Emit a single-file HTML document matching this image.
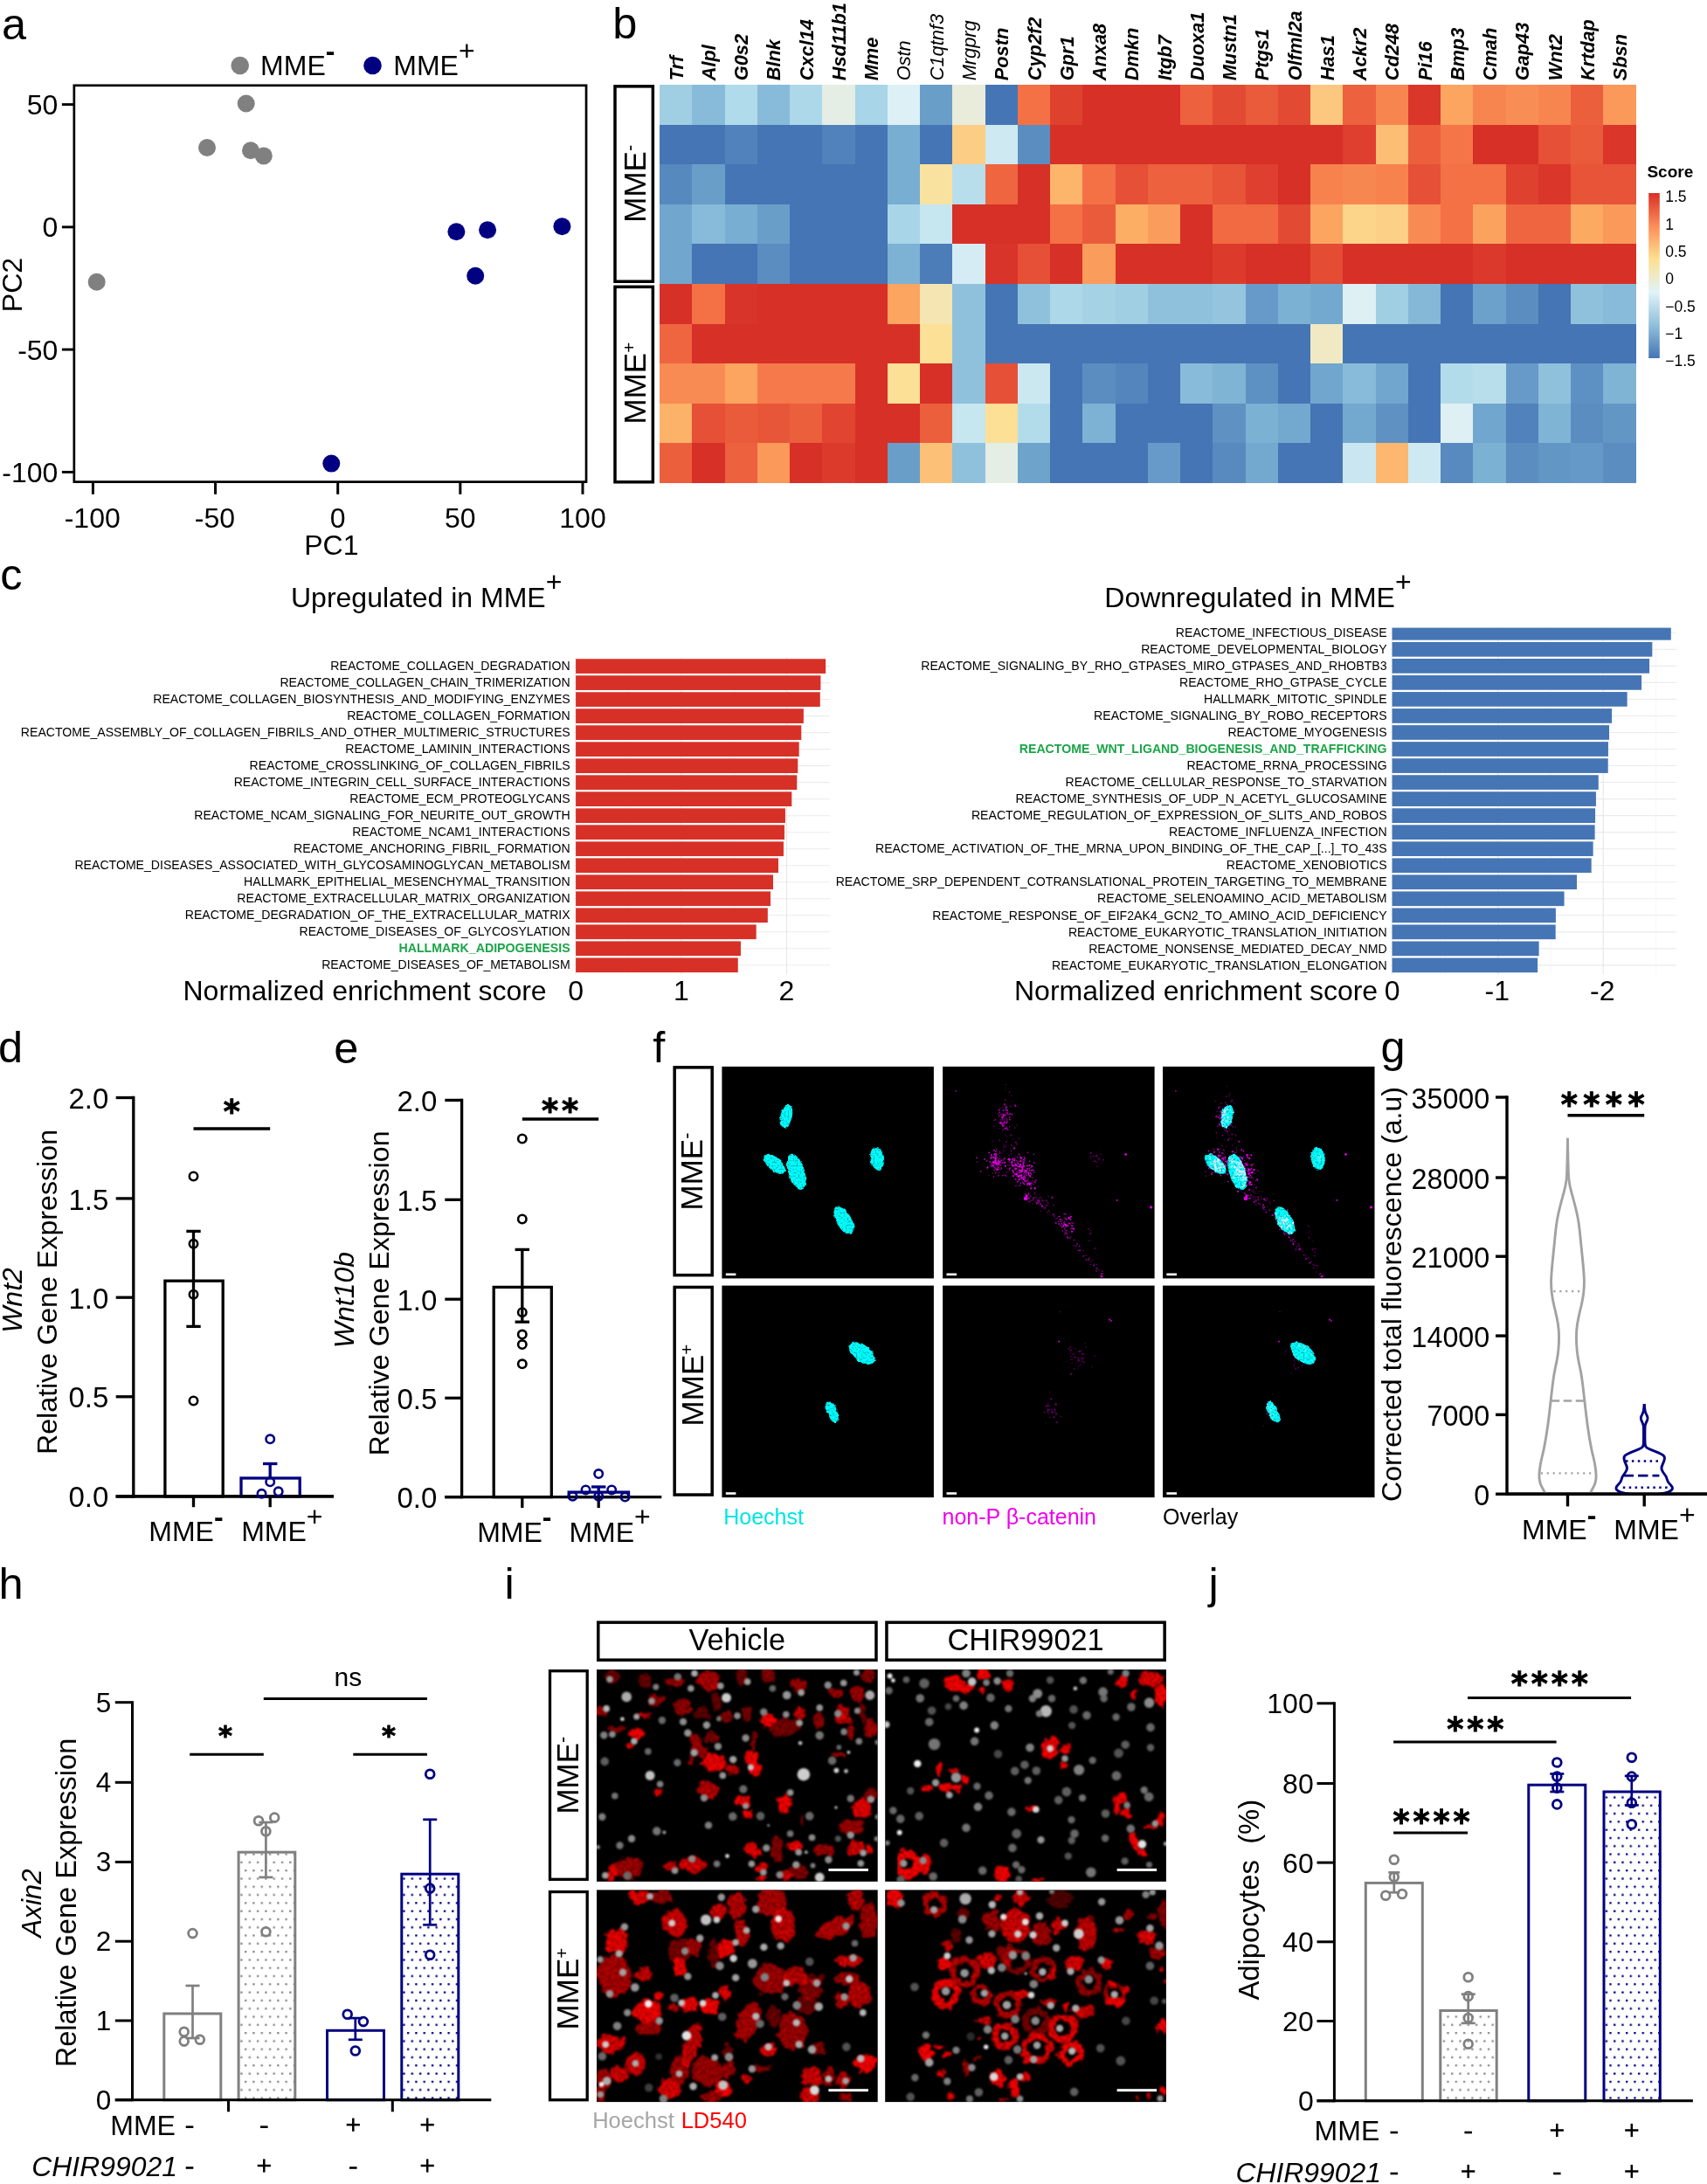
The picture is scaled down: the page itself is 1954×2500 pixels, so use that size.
<!DOCTYPE html>
<html lang="en"><head><meta charset="utf-8"><title>Figure</title>
<style>html,body{margin:0;padding:0;background:#fff}body{width:1954px;height:2500px;overflow:hidden}svg{display:block}</style>
</head><body>
<svg width="1954" height="2500" viewBox="0 0 1954 2500" font-family='"Liberation Sans", Arial, Helvetica, sans-serif' fill="#000">
<defs>
<pattern id="dotg" width="9.3" height="18.6" patternUnits="userSpaceOnUse"><rect x="1" y="1" width="2.3" height="2.3" fill="#8A8A8A"/><rect x="5.65" y="10.3" width="2.3" height="2.3" fill="#8A8A8A"/></pattern>
<pattern id="dotn" width="9.3" height="18.6" patternUnits="userSpaceOnUse"><rect x="1" y="1" width="2.3" height="2.3" fill="#000080"/><rect x="5.65" y="10.3" width="2.3" height="2.3" fill="#000080"/></pattern>
</defs>
<text x="1.90" y="44.50" font-size="50.5">a</text>
<circle cx="274.70" cy="75.00" r="10.30" fill="#808080"/>
<text x="298.10" y="85.90" font-size="32">MME<tspan dy="-17.4" font-weight="bold">-</tspan></text>
<circle cx="426.50" cy="75.00" r="10.30" fill="#000080"/>
<text x="450.30" y="85.90" font-size="32">MME<tspan dy="-17.4">+</tspan></text>
<rect x="84.84" y="97.80" width="586.20" height="453.80" fill="none" stroke="#000" stroke-width="2.7"/>
<line x1="70.90" y1="119.60" x2="85.00" y2="119.60" stroke="#000" stroke-width="2.9"/>
<text x="66.40" y="131.00" font-size="32" text-anchor="end">50</text>
<line x1="70.90" y1="259.90" x2="85.00" y2="259.90" stroke="#000" stroke-width="2.9"/>
<text x="66.40" y="271.30" font-size="32" text-anchor="end">0</text>
<line x1="70.90" y1="400.10" x2="85.00" y2="400.10" stroke="#000" stroke-width="2.9"/>
<text x="66.40" y="411.50" font-size="32" text-anchor="end">-50</text>
<line x1="70.90" y1="540.40" x2="85.00" y2="540.40" stroke="#000" stroke-width="2.9"/>
<text x="66.40" y="551.80" font-size="32" text-anchor="end">-100</text>
<line x1="106.40" y1="551.60" x2="106.40" y2="565.80" stroke="#000" stroke-width="3.0"/>
<text x="105.70" y="603.50" font-size="32" text-anchor="middle">-100</text>
<line x1="246.55" y1="551.60" x2="246.55" y2="565.80" stroke="#000" stroke-width="3.0"/>
<text x="245.85" y="603.50" font-size="32" text-anchor="middle">-50</text>
<line x1="386.70" y1="551.60" x2="386.70" y2="565.80" stroke="#000" stroke-width="3.0"/>
<text x="386.70" y="603.50" font-size="32" text-anchor="middle">0</text>
<line x1="526.85" y1="551.60" x2="526.85" y2="565.80" stroke="#000" stroke-width="3.0"/>
<text x="526.85" y="603.50" font-size="32" text-anchor="middle">50</text>
<line x1="667.00" y1="551.60" x2="667.00" y2="565.80" stroke="#000" stroke-width="3.0"/>
<text x="667.00" y="603.50" font-size="32" text-anchor="middle">100</text>
<text font-size="32" text-anchor="middle" transform="translate(25.40 326.00) rotate(-90)">PC2</text>
<text x="379.30" y="635.00" font-size="32" text-anchor="middle">PC1</text>
<circle cx="110.70" cy="322.70" r="10.00" fill="#808080"/>
<circle cx="237.00" cy="169.00" r="10.00" fill="#808080"/>
<circle cx="281.70" cy="118.50" r="10.00" fill="#808080"/>
<circle cx="287.00" cy="172.20" r="10.00" fill="#808080"/>
<circle cx="301.80" cy="178.40" r="10.00" fill="#808080"/>
<circle cx="379.30" cy="530.60" r="10.00" fill="#000080"/>
<circle cx="522.40" cy="265.30" r="10.00" fill="#000080"/>
<circle cx="558.10" cy="263.30" r="10.00" fill="#000080"/>
<circle cx="544.20" cy="315.80" r="10.00" fill="#000080"/>
<circle cx="643.40" cy="259.20" r="10.00" fill="#000080"/>
<text x="701.20" y="44.20" font-size="50.5">b</text>
<rect x="704.00" y="98.84" width="43.35" height="223.40" fill="none" stroke="#000" stroke-width="3.5"/>
<rect x="704.00" y="328.35" width="43.35" height="223.40" fill="none" stroke="#000" stroke-width="3.5"/>
<text font-size="35" transform="translate(738.80 254.70) rotate(-90)">MME<tspan font-size="22" dy="-11.1">-</tspan></text>
<text font-size="35" transform="translate(738.80 485.50) rotate(-90)">MME<tspan font-size="20.4" dy="-12.2">+</tspan></text>
<g shape-rendering="crispEdges">
<rect x="755.07" y="97.09" width="37.76" height="46.07" fill="#A0CEE3"/>
<rect x="792.33" y="97.09" width="37.76" height="46.07" fill="#88BBD9"/>
<rect x="829.58" y="97.09" width="37.76" height="46.07" fill="#B0DBEA"/>
<rect x="866.84" y="97.09" width="37.76" height="46.07" fill="#88BBD9"/>
<rect x="904.09" y="97.09" width="37.76" height="46.07" fill="#ADD8E9"/>
<rect x="941.35" y="97.09" width="37.76" height="46.07" fill="#E4EEE5"/>
<rect x="978.61" y="97.09" width="37.76" height="46.07" fill="#A8D5E7"/>
<rect x="1015.86" y="97.09" width="37.76" height="46.07" fill="#DDF0F6"/>
<rect x="1053.12" y="97.09" width="37.76" height="46.07" fill="#699EC9"/>
<rect x="1090.37" y="97.09" width="37.76" height="46.07" fill="#E9ECDA"/>
<rect x="1127.63" y="97.09" width="37.76" height="46.07" fill="#4575B4"/>
<rect x="1164.89" y="97.09" width="37.76" height="46.07" fill="#F47045"/>
<rect x="1202.14" y="97.09" width="37.76" height="46.07" fill="#DF412F"/>
<rect x="1239.40" y="97.09" width="37.76" height="46.07" fill="#D73027"/>
<rect x="1276.65" y="97.09" width="37.76" height="46.07" fill="#D73027"/>
<rect x="1313.91" y="97.09" width="37.76" height="46.07" fill="#D73027"/>
<rect x="1351.17" y="97.09" width="37.76" height="46.07" fill="#ED613E"/>
<rect x="1388.42" y="97.09" width="37.76" height="46.07" fill="#E34A33"/>
<rect x="1425.68" y="97.09" width="37.76" height="46.07" fill="#EA5B3B"/>
<rect x="1462.93" y="97.09" width="37.76" height="46.07" fill="#E34A33"/>
<rect x="1500.19" y="97.09" width="37.76" height="46.07" fill="#FCC77E"/>
<rect x="1537.45" y="97.09" width="37.76" height="46.07" fill="#ED613E"/>
<rect x="1574.70" y="97.09" width="37.76" height="46.07" fill="#F78550"/>
<rect x="1611.96" y="97.09" width="37.76" height="46.07" fill="#DA362A"/>
<rect x="1649.21" y="97.09" width="37.76" height="46.07" fill="#FCA560"/>
<rect x="1686.47" y="97.09" width="37.76" height="46.07" fill="#F78550"/>
<rect x="1723.73" y="97.09" width="37.76" height="46.07" fill="#F88E55"/>
<rect x="1760.98" y="97.09" width="37.76" height="46.07" fill="#F78550"/>
<rect x="1798.24" y="97.09" width="37.76" height="46.07" fill="#EC5F3D"/>
<rect x="1835.49" y="97.09" width="37.76" height="46.07" fill="#FA995A"/>
<rect x="755.07" y="142.66" width="37.76" height="46.07" fill="#4575B4"/>
<rect x="792.33" y="142.66" width="37.76" height="46.07" fill="#4575B4"/>
<rect x="829.58" y="142.66" width="37.76" height="46.07" fill="#5182BB"/>
<rect x="866.84" y="142.66" width="37.76" height="46.07" fill="#4575B4"/>
<rect x="904.09" y="142.66" width="37.76" height="46.07" fill="#4575B4"/>
<rect x="941.35" y="142.66" width="37.76" height="46.07" fill="#5182BB"/>
<rect x="978.61" y="142.66" width="37.76" height="46.07" fill="#4575B4"/>
<rect x="1015.86" y="142.66" width="37.76" height="46.07" fill="#78AED2"/>
<rect x="1053.12" y="142.66" width="37.76" height="46.07" fill="#4575B4"/>
<rect x="1090.37" y="142.66" width="37.76" height="46.07" fill="#FCCD84"/>
<rect x="1127.63" y="142.66" width="37.76" height="46.07" fill="#CEE9F2"/>
<rect x="1164.89" y="142.66" width="37.76" height="46.07" fill="#5B8DC1"/>
<rect x="1202.14" y="142.66" width="37.76" height="46.07" fill="#D73027"/>
<rect x="1239.40" y="142.66" width="37.76" height="46.07" fill="#D73027"/>
<rect x="1276.65" y="142.66" width="37.76" height="46.07" fill="#D73027"/>
<rect x="1313.91" y="142.66" width="37.76" height="46.07" fill="#D73027"/>
<rect x="1351.17" y="142.66" width="37.76" height="46.07" fill="#D73027"/>
<rect x="1388.42" y="142.66" width="37.76" height="46.07" fill="#D73027"/>
<rect x="1425.68" y="142.66" width="37.76" height="46.07" fill="#D73027"/>
<rect x="1462.93" y="142.66" width="37.76" height="46.07" fill="#D73027"/>
<rect x="1500.19" y="142.66" width="37.76" height="46.07" fill="#D73027"/>
<rect x="1537.45" y="142.66" width="37.76" height="46.07" fill="#DE3F2E"/>
<rect x="1574.70" y="142.66" width="37.76" height="46.07" fill="#FCBE75"/>
<rect x="1611.96" y="142.66" width="37.76" height="46.07" fill="#EC5F3D"/>
<rect x="1649.21" y="142.66" width="37.76" height="46.07" fill="#F57548"/>
<rect x="1686.47" y="142.66" width="37.76" height="46.07" fill="#D73027"/>
<rect x="1723.73" y="142.66" width="37.76" height="46.07" fill="#D73027"/>
<rect x="1760.98" y="142.66" width="37.76" height="46.07" fill="#E65036"/>
<rect x="1798.24" y="142.66" width="37.76" height="46.07" fill="#EA5B3B"/>
<rect x="1835.49" y="142.66" width="37.76" height="46.07" fill="#DA362A"/>
<rect x="755.07" y="188.23" width="37.76" height="46.07" fill="#5689BE"/>
<rect x="792.33" y="188.23" width="37.76" height="46.07" fill="#699EC9"/>
<rect x="829.58" y="188.23" width="37.76" height="46.07" fill="#4575B4"/>
<rect x="866.84" y="188.23" width="37.76" height="46.07" fill="#4575B4"/>
<rect x="904.09" y="188.23" width="37.76" height="46.07" fill="#4575B4"/>
<rect x="941.35" y="188.23" width="37.76" height="46.07" fill="#4575B4"/>
<rect x="978.61" y="188.23" width="37.76" height="46.07" fill="#4575B4"/>
<rect x="1015.86" y="188.23" width="37.76" height="46.07" fill="#78AED2"/>
<rect x="1053.12" y="188.23" width="37.76" height="46.07" fill="#F9E29F"/>
<rect x="1090.37" y="188.23" width="37.76" height="46.07" fill="#B8DEEC"/>
<rect x="1127.63" y="188.23" width="37.76" height="46.07" fill="#EF6540"/>
<rect x="1164.89" y="188.23" width="37.76" height="46.07" fill="#D73027"/>
<rect x="1202.14" y="188.23" width="37.76" height="46.07" fill="#FDB46B"/>
<rect x="1239.40" y="188.23" width="37.76" height="46.07" fill="#F47045"/>
<rect x="1276.65" y="188.23" width="37.76" height="46.07" fill="#E65036"/>
<rect x="1313.91" y="188.23" width="37.76" height="46.07" fill="#ED613E"/>
<rect x="1351.17" y="188.23" width="37.76" height="46.07" fill="#ED613E"/>
<rect x="1388.42" y="188.23" width="37.76" height="46.07" fill="#E75438"/>
<rect x="1425.68" y="188.23" width="37.76" height="46.07" fill="#DE3F2E"/>
<rect x="1462.93" y="188.23" width="37.76" height="46.07" fill="#D73027"/>
<rect x="1500.19" y="188.23" width="37.76" height="46.07" fill="#F7824E"/>
<rect x="1537.45" y="188.23" width="37.76" height="46.07" fill="#F78751"/>
<rect x="1574.70" y="188.23" width="37.76" height="46.07" fill="#F7824E"/>
<rect x="1611.96" y="188.23" width="37.76" height="46.07" fill="#E65036"/>
<rect x="1649.21" y="188.23" width="37.76" height="46.07" fill="#F47045"/>
<rect x="1686.47" y="188.23" width="37.76" height="46.07" fill="#F47045"/>
<rect x="1723.73" y="188.23" width="37.76" height="46.07" fill="#DF412F"/>
<rect x="1760.98" y="188.23" width="37.76" height="46.07" fill="#DA362A"/>
<rect x="1798.24" y="188.23" width="37.76" height="46.07" fill="#E75438"/>
<rect x="1835.49" y="188.23" width="37.76" height="46.07" fill="#E75438"/>
<rect x="755.07" y="233.80" width="37.76" height="46.07" fill="#71A6CE"/>
<rect x="792.33" y="233.80" width="37.76" height="46.07" fill="#88BBD9"/>
<rect x="829.58" y="233.80" width="37.76" height="46.07" fill="#78AED2"/>
<rect x="866.84" y="233.80" width="37.76" height="46.07" fill="#699EC9"/>
<rect x="904.09" y="233.80" width="37.76" height="46.07" fill="#4575B4"/>
<rect x="941.35" y="233.80" width="37.76" height="46.07" fill="#4575B4"/>
<rect x="978.61" y="233.80" width="37.76" height="46.07" fill="#4575B4"/>
<rect x="1015.86" y="233.80" width="37.76" height="46.07" fill="#A8D5E7"/>
<rect x="1053.12" y="233.80" width="37.76" height="46.07" fill="#C6E6F0"/>
<rect x="1090.37" y="233.80" width="37.76" height="46.07" fill="#D73027"/>
<rect x="1127.63" y="233.80" width="37.76" height="46.07" fill="#D73027"/>
<rect x="1164.89" y="233.80" width="37.76" height="46.07" fill="#D73027"/>
<rect x="1202.14" y="233.80" width="37.76" height="46.07" fill="#F47045"/>
<rect x="1239.40" y="233.80" width="37.76" height="46.07" fill="#EA5B3B"/>
<rect x="1276.65" y="233.80" width="37.76" height="46.07" fill="#FDAE65"/>
<rect x="1313.91" y="233.80" width="37.76" height="46.07" fill="#FA9C5C"/>
<rect x="1351.17" y="233.80" width="37.76" height="46.07" fill="#D73027"/>
<rect x="1388.42" y="233.80" width="37.76" height="46.07" fill="#F16A42"/>
<rect x="1425.68" y="233.80" width="37.76" height="46.07" fill="#F16A42"/>
<rect x="1462.93" y="233.80" width="37.76" height="46.07" fill="#E34A33"/>
<rect x="1500.19" y="233.80" width="37.76" height="46.07" fill="#FCA560"/>
<rect x="1537.45" y="233.80" width="37.76" height="46.07" fill="#FCD48A"/>
<rect x="1574.70" y="233.80" width="37.76" height="46.07" fill="#FCD086"/>
<rect x="1611.96" y="233.80" width="37.76" height="46.07" fill="#F88B53"/>
<rect x="1649.21" y="233.80" width="37.76" height="46.07" fill="#F47045"/>
<rect x="1686.47" y="233.80" width="37.76" height="46.07" fill="#FBA25F"/>
<rect x="1723.73" y="233.80" width="37.76" height="46.07" fill="#EF6540"/>
<rect x="1760.98" y="233.80" width="37.76" height="46.07" fill="#EF6540"/>
<rect x="1798.24" y="233.80" width="37.76" height="46.07" fill="#FCA962"/>
<rect x="1835.49" y="233.80" width="37.76" height="46.07" fill="#FA995A"/>
<rect x="755.07" y="279.37" width="37.76" height="46.07" fill="#71A6CE"/>
<rect x="792.33" y="279.37" width="37.76" height="46.07" fill="#4575B4"/>
<rect x="829.58" y="279.37" width="37.76" height="46.07" fill="#4575B4"/>
<rect x="866.84" y="279.37" width="37.76" height="46.07" fill="#5B8DC1"/>
<rect x="904.09" y="279.37" width="37.76" height="46.07" fill="#4575B4"/>
<rect x="941.35" y="279.37" width="37.76" height="46.07" fill="#4575B4"/>
<rect x="978.61" y="279.37" width="37.76" height="46.07" fill="#4575B4"/>
<rect x="1015.86" y="279.37" width="37.76" height="46.07" fill="#7DB2D4"/>
<rect x="1053.12" y="279.37" width="37.76" height="46.07" fill="#4C7DB8"/>
<rect x="1090.37" y="279.37" width="37.76" height="46.07" fill="#D6ECF4"/>
<rect x="1127.63" y="279.37" width="37.76" height="46.07" fill="#D93429"/>
<rect x="1164.89" y="279.37" width="37.76" height="46.07" fill="#E65036"/>
<rect x="1202.14" y="279.37" width="37.76" height="46.07" fill="#D73027"/>
<rect x="1239.40" y="279.37" width="37.76" height="46.07" fill="#FA9C5C"/>
<rect x="1276.65" y="279.37" width="37.76" height="46.07" fill="#D73027"/>
<rect x="1313.91" y="279.37" width="37.76" height="46.07" fill="#D73027"/>
<rect x="1351.17" y="279.37" width="37.76" height="46.07" fill="#D73027"/>
<rect x="1388.42" y="279.37" width="37.76" height="46.07" fill="#DC3B2C"/>
<rect x="1425.68" y="279.37" width="37.76" height="46.07" fill="#D73027"/>
<rect x="1462.93" y="279.37" width="37.76" height="46.07" fill="#D73027"/>
<rect x="1500.19" y="279.37" width="37.76" height="46.07" fill="#E44C34"/>
<rect x="1537.45" y="279.37" width="37.76" height="46.07" fill="#D73027"/>
<rect x="1574.70" y="279.37" width="37.76" height="46.07" fill="#D73027"/>
<rect x="1611.96" y="279.37" width="37.76" height="46.07" fill="#D73027"/>
<rect x="1649.21" y="279.37" width="37.76" height="46.07" fill="#D73027"/>
<rect x="1686.47" y="279.37" width="37.76" height="46.07" fill="#DB392B"/>
<rect x="1723.73" y="279.37" width="37.76" height="46.07" fill="#D73027"/>
<rect x="1760.98" y="279.37" width="37.76" height="46.07" fill="#D73027"/>
<rect x="1798.24" y="279.37" width="37.76" height="46.07" fill="#D73027"/>
<rect x="1835.49" y="279.37" width="37.76" height="46.07" fill="#D73027"/>
<rect x="755.07" y="324.94" width="37.76" height="46.07" fill="#D73027"/>
<rect x="792.33" y="324.94" width="37.76" height="46.07" fill="#F47045"/>
<rect x="829.58" y="324.94" width="37.76" height="46.07" fill="#D93429"/>
<rect x="866.84" y="324.94" width="37.76" height="46.07" fill="#D73027"/>
<rect x="904.09" y="324.94" width="37.76" height="46.07" fill="#D73027"/>
<rect x="941.35" y="324.94" width="37.76" height="46.07" fill="#D73027"/>
<rect x="978.61" y="324.94" width="37.76" height="46.07" fill="#D73027"/>
<rect x="1015.86" y="324.94" width="37.76" height="46.07" fill="#FCA560"/>
<rect x="1053.12" y="324.94" width="37.76" height="46.07" fill="#F4E5B2"/>
<rect x="1090.37" y="324.94" width="37.76" height="46.07" fill="#90C1DC"/>
<rect x="1127.63" y="324.94" width="37.76" height="46.07" fill="#4575B4"/>
<rect x="1164.89" y="324.94" width="37.76" height="46.07" fill="#90C1DC"/>
<rect x="1202.14" y="324.94" width="37.76" height="46.07" fill="#ADD8E9"/>
<rect x="1239.40" y="324.94" width="37.76" height="46.07" fill="#A5D2E5"/>
<rect x="1276.65" y="324.94" width="37.76" height="46.07" fill="#A0CEE3"/>
<rect x="1313.91" y="324.94" width="37.76" height="46.07" fill="#90C1DC"/>
<rect x="1351.17" y="324.94" width="37.76" height="46.07" fill="#90C1DC"/>
<rect x="1388.42" y="324.94" width="37.76" height="46.07" fill="#95C5DE"/>
<rect x="1425.68" y="324.94" width="37.76" height="46.07" fill="#679AC8"/>
<rect x="1462.93" y="324.94" width="37.76" height="46.07" fill="#7BB1D3"/>
<rect x="1500.19" y="324.94" width="37.76" height="46.07" fill="#74A9CF"/>
<rect x="1537.45" y="324.94" width="37.76" height="46.07" fill="#DEF0F4"/>
<rect x="1574.70" y="324.94" width="37.76" height="46.07" fill="#A0CEE3"/>
<rect x="1611.96" y="324.94" width="37.76" height="46.07" fill="#85B8D7"/>
<rect x="1649.21" y="324.94" width="37.76" height="46.07" fill="#4575B4"/>
<rect x="1686.47" y="324.94" width="37.76" height="46.07" fill="#6CA1CB"/>
<rect x="1723.73" y="324.94" width="37.76" height="46.07" fill="#5B8DC1"/>
<rect x="1760.98" y="324.94" width="37.76" height="46.07" fill="#4575B4"/>
<rect x="1798.24" y="324.94" width="37.76" height="46.07" fill="#90C1DC"/>
<rect x="1835.49" y="324.94" width="37.76" height="46.07" fill="#88BBD9"/>
<rect x="755.07" y="370.52" width="37.76" height="46.07" fill="#EF6540"/>
<rect x="792.33" y="370.52" width="37.76" height="46.07" fill="#D73027"/>
<rect x="829.58" y="370.52" width="37.76" height="46.07" fill="#D73027"/>
<rect x="866.84" y="370.52" width="37.76" height="46.07" fill="#D73027"/>
<rect x="904.09" y="370.52" width="37.76" height="46.07" fill="#D73027"/>
<rect x="941.35" y="370.52" width="37.76" height="46.07" fill="#D73027"/>
<rect x="978.61" y="370.52" width="37.76" height="46.07" fill="#D73027"/>
<rect x="1015.86" y="370.52" width="37.76" height="46.07" fill="#D73027"/>
<rect x="1053.12" y="370.52" width="37.76" height="46.07" fill="#FBE096"/>
<rect x="1090.37" y="370.52" width="37.76" height="46.07" fill="#90C1DC"/>
<rect x="1127.63" y="370.52" width="37.76" height="46.07" fill="#4575B4"/>
<rect x="1164.89" y="370.52" width="37.76" height="46.07" fill="#4575B4"/>
<rect x="1202.14" y="370.52" width="37.76" height="46.07" fill="#4575B4"/>
<rect x="1239.40" y="370.52" width="37.76" height="46.07" fill="#4575B4"/>
<rect x="1276.65" y="370.52" width="37.76" height="46.07" fill="#4575B4"/>
<rect x="1313.91" y="370.52" width="37.76" height="46.07" fill="#4575B4"/>
<rect x="1351.17" y="370.52" width="37.76" height="46.07" fill="#4575B4"/>
<rect x="1388.42" y="370.52" width="37.76" height="46.07" fill="#4575B4"/>
<rect x="1425.68" y="370.52" width="37.76" height="46.07" fill="#4575B4"/>
<rect x="1462.93" y="370.52" width="37.76" height="46.07" fill="#4575B4"/>
<rect x="1500.19" y="370.52" width="37.76" height="46.07" fill="#F0E9C4"/>
<rect x="1537.45" y="370.52" width="37.76" height="46.07" fill="#4575B4"/>
<rect x="1574.70" y="370.52" width="37.76" height="46.07" fill="#4575B4"/>
<rect x="1611.96" y="370.52" width="37.76" height="46.07" fill="#4575B4"/>
<rect x="1649.21" y="370.52" width="37.76" height="46.07" fill="#4575B4"/>
<rect x="1686.47" y="370.52" width="37.76" height="46.07" fill="#4575B4"/>
<rect x="1723.73" y="370.52" width="37.76" height="46.07" fill="#4575B4"/>
<rect x="1760.98" y="370.52" width="37.76" height="46.07" fill="#4575B4"/>
<rect x="1798.24" y="370.52" width="37.76" height="46.07" fill="#4575B4"/>
<rect x="1835.49" y="370.52" width="37.76" height="46.07" fill="#4575B4"/>
<rect x="755.07" y="416.09" width="37.76" height="46.07" fill="#F88B53"/>
<rect x="792.33" y="416.09" width="37.76" height="46.07" fill="#F88B53"/>
<rect x="829.58" y="416.09" width="37.76" height="46.07" fill="#FCA560"/>
<rect x="866.84" y="416.09" width="37.76" height="46.07" fill="#F5794A"/>
<rect x="904.09" y="416.09" width="37.76" height="46.07" fill="#F5794A"/>
<rect x="941.35" y="416.09" width="37.76" height="46.07" fill="#F5794A"/>
<rect x="978.61" y="416.09" width="37.76" height="46.07" fill="#D73027"/>
<rect x="1015.86" y="416.09" width="37.76" height="46.07" fill="#FBE096"/>
<rect x="1053.12" y="416.09" width="37.76" height="46.07" fill="#D73027"/>
<rect x="1090.37" y="416.09" width="37.76" height="46.07" fill="#90C1DC"/>
<rect x="1127.63" y="416.09" width="37.76" height="46.07" fill="#E65036"/>
<rect x="1164.89" y="416.09" width="37.76" height="46.07" fill="#CBE8F1"/>
<rect x="1202.14" y="416.09" width="37.76" height="46.07" fill="#4575B4"/>
<rect x="1239.40" y="416.09" width="37.76" height="46.07" fill="#5B8DC1"/>
<rect x="1276.65" y="416.09" width="37.76" height="46.07" fill="#5485BD"/>
<rect x="1313.91" y="416.09" width="37.76" height="46.07" fill="#4575B4"/>
<rect x="1351.17" y="416.09" width="37.76" height="46.07" fill="#88BBD9"/>
<rect x="1388.42" y="416.09" width="37.76" height="46.07" fill="#80B4D5"/>
<rect x="1425.68" y="416.09" width="37.76" height="46.07" fill="#5E91C3"/>
<rect x="1462.93" y="416.09" width="37.76" height="46.07" fill="#4575B4"/>
<rect x="1500.19" y="416.09" width="37.76" height="46.07" fill="#71A6CE"/>
<rect x="1537.45" y="416.09" width="37.76" height="46.07" fill="#88BBD9"/>
<rect x="1574.70" y="416.09" width="37.76" height="46.07" fill="#71A6CE"/>
<rect x="1611.96" y="416.09" width="37.76" height="46.07" fill="#4575B4"/>
<rect x="1649.21" y="416.09" width="37.76" height="46.07" fill="#B3DCEB"/>
<rect x="1686.47" y="416.09" width="37.76" height="46.07" fill="#B8DEEC"/>
<rect x="1723.73" y="416.09" width="37.76" height="46.07" fill="#679AC8"/>
<rect x="1760.98" y="416.09" width="37.76" height="46.07" fill="#90C1DC"/>
<rect x="1798.24" y="416.09" width="37.76" height="46.07" fill="#5E91C3"/>
<rect x="1835.49" y="416.09" width="37.76" height="46.07" fill="#80B4D5"/>
<rect x="755.07" y="461.66" width="37.76" height="46.07" fill="#FDB269"/>
<rect x="792.33" y="461.66" width="37.76" height="46.07" fill="#E65036"/>
<rect x="829.58" y="461.66" width="37.76" height="46.07" fill="#EA5B3B"/>
<rect x="866.84" y="461.66" width="37.76" height="46.07" fill="#E85639"/>
<rect x="904.09" y="461.66" width="37.76" height="46.07" fill="#EC5F3D"/>
<rect x="941.35" y="461.66" width="37.76" height="46.07" fill="#E14531"/>
<rect x="978.61" y="461.66" width="37.76" height="46.07" fill="#D73027"/>
<rect x="1015.86" y="461.66" width="37.76" height="46.07" fill="#D73027"/>
<rect x="1053.12" y="461.66" width="37.76" height="46.07" fill="#EC5F3D"/>
<rect x="1090.37" y="461.66" width="37.76" height="46.07" fill="#C6E6F0"/>
<rect x="1127.63" y="461.66" width="37.76" height="46.07" fill="#FBE096"/>
<rect x="1164.89" y="461.66" width="37.76" height="46.07" fill="#B3DCEB"/>
<rect x="1202.14" y="461.66" width="37.76" height="46.07" fill="#4575B4"/>
<rect x="1239.40" y="461.66" width="37.76" height="46.07" fill="#7DB2D4"/>
<rect x="1276.65" y="461.66" width="37.76" height="46.07" fill="#4575B4"/>
<rect x="1313.91" y="461.66" width="37.76" height="46.07" fill="#4575B4"/>
<rect x="1351.17" y="461.66" width="37.76" height="46.07" fill="#4575B4"/>
<rect x="1388.42" y="461.66" width="37.76" height="46.07" fill="#5F92C3"/>
<rect x="1425.68" y="461.66" width="37.76" height="46.07" fill="#7BB1D3"/>
<rect x="1462.93" y="461.66" width="37.76" height="46.07" fill="#74A9CF"/>
<rect x="1500.19" y="461.66" width="37.76" height="46.07" fill="#4575B4"/>
<rect x="1537.45" y="461.66" width="37.76" height="46.07" fill="#74A9CF"/>
<rect x="1574.70" y="461.66" width="37.76" height="46.07" fill="#5F92C3"/>
<rect x="1611.96" y="461.66" width="37.76" height="46.07" fill="#4575B4"/>
<rect x="1649.21" y="461.66" width="37.76" height="46.07" fill="#DEF0F3"/>
<rect x="1686.47" y="461.66" width="37.76" height="46.07" fill="#71A6CE"/>
<rect x="1723.73" y="461.66" width="37.76" height="46.07" fill="#5182BB"/>
<rect x="1760.98" y="461.66" width="37.76" height="46.07" fill="#80B4D5"/>
<rect x="1798.24" y="461.66" width="37.76" height="46.07" fill="#5B8DC1"/>
<rect x="1835.49" y="461.66" width="37.76" height="46.07" fill="#6296C5"/>
<rect x="755.07" y="507.23" width="37.76" height="46.07" fill="#EC5F3D"/>
<rect x="792.33" y="507.23" width="37.76" height="46.07" fill="#D73027"/>
<rect x="829.58" y="507.23" width="37.76" height="46.07" fill="#ED613E"/>
<rect x="866.84" y="507.23" width="37.76" height="46.07" fill="#FA995A"/>
<rect x="904.09" y="507.23" width="37.76" height="46.07" fill="#D73027"/>
<rect x="941.35" y="507.23" width="37.76" height="46.07" fill="#DC3B2C"/>
<rect x="978.61" y="507.23" width="37.76" height="46.07" fill="#D73027"/>
<rect x="1015.86" y="507.23" width="37.76" height="46.07" fill="#699EC9"/>
<rect x="1053.12" y="507.23" width="37.76" height="46.07" fill="#FCC177"/>
<rect x="1090.37" y="507.23" width="37.76" height="46.07" fill="#90C1DC"/>
<rect x="1127.63" y="507.23" width="37.76" height="46.07" fill="#E4EEE5"/>
<rect x="1164.89" y="507.23" width="37.76" height="46.07" fill="#6EA3CC"/>
<rect x="1202.14" y="507.23" width="37.76" height="46.07" fill="#4575B4"/>
<rect x="1239.40" y="507.23" width="37.76" height="46.07" fill="#4575B4"/>
<rect x="1276.65" y="507.23" width="37.76" height="46.07" fill="#4575B4"/>
<rect x="1313.91" y="507.23" width="37.76" height="46.07" fill="#679AC8"/>
<rect x="1351.17" y="507.23" width="37.76" height="46.07" fill="#4575B4"/>
<rect x="1388.42" y="507.23" width="37.76" height="46.07" fill="#588ABF"/>
<rect x="1425.68" y="507.23" width="37.76" height="46.07" fill="#74A9CF"/>
<rect x="1462.93" y="507.23" width="37.76" height="46.07" fill="#4575B4"/>
<rect x="1500.19" y="507.23" width="37.76" height="46.07" fill="#4575B4"/>
<rect x="1537.45" y="507.23" width="37.76" height="46.07" fill="#CAE7F1"/>
<rect x="1574.70" y="507.23" width="37.76" height="46.07" fill="#FDB76E"/>
<rect x="1611.96" y="507.23" width="37.76" height="46.07" fill="#CEE9F2"/>
<rect x="1649.21" y="507.23" width="37.76" height="46.07" fill="#588ABF"/>
<rect x="1686.47" y="507.23" width="37.76" height="46.07" fill="#7BB1D3"/>
<rect x="1723.73" y="507.23" width="37.76" height="46.07" fill="#5B8DC1"/>
<rect x="1760.98" y="507.23" width="37.76" height="46.07" fill="#6296C5"/>
<rect x="1798.24" y="507.23" width="37.76" height="46.07" fill="#6599C7"/>
<rect x="1835.49" y="507.23" width="37.76" height="46.07" fill="#5B8DC1"/>
</g>
<text font-size="21.8" font-weight="bold" font-style="italic" transform="translate(781.70 92.30) rotate(-90)">Trf</text>
<text font-size="21.8" font-weight="bold" font-style="italic" transform="translate(818.95 92.30) rotate(-90)">Alpl</text>
<text font-size="21.8" font-weight="bold" font-style="italic" transform="translate(856.21 92.30) rotate(-90)">G0s2</text>
<text font-size="21.8" font-weight="bold" font-style="italic" transform="translate(893.47 92.30) rotate(-90)">Blnk</text>
<text font-size="21.8" font-weight="bold" font-style="italic" transform="translate(930.72 92.30) rotate(-90)">Cxcl14</text>
<text font-size="21.8" font-weight="bold" font-style="italic" transform="translate(967.98 92.30) rotate(-90)">Hsd11b1</text>
<text font-size="21.8" font-weight="bold" font-style="italic" transform="translate(1005.23 92.30) rotate(-90)">Mme</text>
<text font-size="21.8" font-style="italic" transform="translate(1042.49 92.30) rotate(-90)">Ostn</text>
<text font-size="21.8" font-style="italic" transform="translate(1079.75 92.30) rotate(-90)">C1qtnf3</text>
<text font-size="21.8" font-style="italic" transform="translate(1117.00 92.30) rotate(-90)">Mrgprg</text>
<text font-size="21.8" font-weight="bold" font-style="italic" transform="translate(1154.26 92.30) rotate(-90)">Postn</text>
<text font-size="21.8" font-weight="bold" font-style="italic" transform="translate(1191.51 92.30) rotate(-90)">Cyp2f2</text>
<text font-size="21.8" font-weight="bold" font-style="italic" transform="translate(1228.77 92.30) rotate(-90)">Gpr1</text>
<text font-size="21.8" font-weight="bold" font-style="italic" transform="translate(1266.03 92.30) rotate(-90)">Anxa8</text>
<text font-size="21.8" font-weight="bold" font-style="italic" transform="translate(1303.28 92.30) rotate(-90)">Dmkn</text>
<text font-size="21.8" font-weight="bold" font-style="italic" transform="translate(1340.54 92.30) rotate(-90)">Itgb7</text>
<text font-size="21.8" font-weight="bold" font-style="italic" transform="translate(1377.79 92.30) rotate(-90)">Duoxa1</text>
<text font-size="21.8" font-weight="bold" font-style="italic" transform="translate(1415.05 92.30) rotate(-90)">Mustn1</text>
<text font-size="21.8" font-weight="bold" font-style="italic" transform="translate(1452.31 92.30) rotate(-90)">Ptgs1</text>
<text font-size="21.8" font-weight="bold" font-style="italic" transform="translate(1489.56 92.30) rotate(-90)">Olfml2a</text>
<text font-size="21.8" font-weight="bold" font-style="italic" transform="translate(1526.82 92.30) rotate(-90)">Has1</text>
<text font-size="21.8" font-weight="bold" font-style="italic" transform="translate(1564.07 92.30) rotate(-90)">Ackr2</text>
<text font-size="21.8" font-weight="bold" font-style="italic" transform="translate(1601.33 92.30) rotate(-90)">Cd248</text>
<text font-size="21.8" font-weight="bold" font-style="italic" transform="translate(1638.59 92.30) rotate(-90)">Pi16</text>
<text font-size="21.8" font-weight="bold" font-style="italic" transform="translate(1675.84 92.30) rotate(-90)">Bmp3</text>
<text font-size="21.8" font-weight="bold" font-style="italic" transform="translate(1713.10 92.30) rotate(-90)">Cmah</text>
<text font-size="21.8" font-weight="bold" font-style="italic" transform="translate(1750.35 92.30) rotate(-90)">Gap43</text>
<text font-size="21.8" font-weight="bold" font-style="italic" transform="translate(1787.61 92.30) rotate(-90)">Wnt2</text>
<text font-size="21.8" font-weight="bold" font-style="italic" transform="translate(1824.87 92.30) rotate(-90)">Krtdap</text>
<text font-size="21.8" font-weight="bold" font-style="italic" transform="translate(1862.12 92.30) rotate(-90)">Sbsn</text>
<defs><linearGradient id="cb" x1="0" y1="0" x2="0" y2="1">
<stop offset="0.00" stop-color="#D73027"/>
<stop offset="0.20" stop-color="#FC8D59"/>
<stop offset="0.40" stop-color="#FEE090"/>
<stop offset="0.60" stop-color="#E0F3F8"/>
<stop offset="0.80" stop-color="#91BFDB"/>
<stop offset="1.00" stop-color="#4575B4"/>
</linearGradient></defs>
<rect x="1887.20" y="221.00" width="12.60" height="189.00" fill="url(#cb)"/>
<text x="1885.40" y="203.00" font-size="19" font-weight="bold">Score</text>
<text x="1906.20" y="231.40" font-size="17.5">1.5</text>
<text x="1906.20" y="262.70" font-size="17.5">1</text>
<text x="1906.20" y="294.00" font-size="17.5">0.5</text>
<text x="1906.20" y="325.30" font-size="17.5">0</text>
<text x="1906.20" y="356.60" font-size="17.5">−0.5</text>
<text x="1906.20" y="387.90" font-size="17.5">−1</text>
<text x="1906.20" y="419.20" font-size="17.5">−1.5</text>
<text x="0.30" y="675.20" font-size="50.5">c</text>
<text x="333.00" y="694.50" font-size="32">Upregulated in MME<tspan dy="-17.4">+</tspan></text>
<text x="1264.30" y="694.60" font-size="32">Downregulated in MME<tspan dy="-17.4">+</tspan></text>
<line x1="656.50" y1="762.60" x2="950.10" y2="762.60" stroke="#EBEBEB" stroke-width="1.1"/>
<line x1="656.50" y1="781.61" x2="950.10" y2="781.61" stroke="#EBEBEB" stroke-width="1.1"/>
<line x1="656.50" y1="800.62" x2="950.10" y2="800.62" stroke="#EBEBEB" stroke-width="1.1"/>
<line x1="656.50" y1="819.63" x2="950.10" y2="819.63" stroke="#EBEBEB" stroke-width="1.1"/>
<line x1="656.50" y1="838.64" x2="950.10" y2="838.64" stroke="#EBEBEB" stroke-width="1.1"/>
<line x1="656.50" y1="857.65" x2="950.10" y2="857.65" stroke="#EBEBEB" stroke-width="1.1"/>
<line x1="656.50" y1="876.66" x2="950.10" y2="876.66" stroke="#EBEBEB" stroke-width="1.1"/>
<line x1="656.50" y1="895.67" x2="950.10" y2="895.67" stroke="#EBEBEB" stroke-width="1.1"/>
<line x1="656.50" y1="914.68" x2="950.10" y2="914.68" stroke="#EBEBEB" stroke-width="1.1"/>
<line x1="656.50" y1="933.69" x2="950.10" y2="933.69" stroke="#EBEBEB" stroke-width="1.1"/>
<line x1="656.50" y1="952.70" x2="950.10" y2="952.70" stroke="#EBEBEB" stroke-width="1.1"/>
<line x1="656.50" y1="971.71" x2="950.10" y2="971.71" stroke="#EBEBEB" stroke-width="1.1"/>
<line x1="656.50" y1="990.72" x2="950.10" y2="990.72" stroke="#EBEBEB" stroke-width="1.1"/>
<line x1="656.50" y1="1009.73" x2="950.10" y2="1009.73" stroke="#EBEBEB" stroke-width="1.1"/>
<line x1="656.50" y1="1028.74" x2="950.10" y2="1028.74" stroke="#EBEBEB" stroke-width="1.1"/>
<line x1="656.50" y1="1047.75" x2="950.10" y2="1047.75" stroke="#EBEBEB" stroke-width="1.1"/>
<line x1="656.50" y1="1066.76" x2="950.10" y2="1066.76" stroke="#EBEBEB" stroke-width="1.1"/>
<line x1="656.50" y1="1085.77" x2="950.10" y2="1085.77" stroke="#EBEBEB" stroke-width="1.1"/>
<line x1="656.50" y1="1104.78" x2="950.10" y2="1104.78" stroke="#EBEBEB" stroke-width="1.1"/>
<line x1="719.30" y1="752.50" x2="719.30" y2="1115.40" stroke="#F2F2F2" stroke-width="0.8"/>
<line x1="840.20" y1="752.50" x2="840.20" y2="1115.40" stroke="#F2F2F2" stroke-width="0.8"/>
<line x1="659.10" y1="752.50" x2="659.10" y2="1115.40" stroke="#E6E6E6" stroke-width="1.1"/>
<line x1="780.00" y1="752.50" x2="780.00" y2="1115.40" stroke="#E6E6E6" stroke-width="1.1"/>
<line x1="900.50" y1="752.50" x2="900.50" y2="1115.40" stroke="#E6E6E6" stroke-width="1.1"/>
<rect x="659.10" y="754.25" width="286.04" height="16.70" fill="#D73027"/>
<text x="652.70" y="767.30" font-size="14.1" text-anchor="end">REACTOME_COLLAGEN_DEGRADATION</text>
<rect x="659.10" y="773.26" width="280.27" height="16.70" fill="#D73027"/>
<text x="652.70" y="786.31" font-size="14.1" text-anchor="end">REACTOME_COLLAGEN_CHAIN_TRIMERIZATION</text>
<rect x="659.10" y="792.27" width="279.67" height="16.70" fill="#D73027"/>
<text x="652.70" y="805.32" font-size="14.1" text-anchor="end">REACTOME_COLLAGEN_BIOSYNTHESIS_AND_MODIFYING_ENZYMES</text>
<rect x="659.10" y="811.28" width="260.75" height="16.70" fill="#D73027"/>
<text x="652.70" y="824.33" font-size="14.1" text-anchor="end">REACTOME_COLLAGEN_FORMATION</text>
<rect x="659.10" y="830.29" width="258.16" height="16.70" fill="#D73027"/>
<text x="652.70" y="843.34" font-size="14.1" text-anchor="end">REACTOME_ASSEMBLY_OF_COLLAGEN_FIBRILS_AND_OTHER_MULTIMERIC_STRUCTURES</text>
<rect x="659.10" y="849.30" width="255.57" height="16.70" fill="#D73027"/>
<text x="652.70" y="862.35" font-size="14.1" text-anchor="end">REACTOME_LAMININ_INTERACTIONS</text>
<rect x="659.10" y="868.31" width="254.17" height="16.70" fill="#D73027"/>
<text x="652.70" y="881.36" font-size="14.1" text-anchor="end">REACTOME_CROSSLINKING_OF_COLLAGEN_FIBRILS</text>
<rect x="659.10" y="887.32" width="253.18" height="16.70" fill="#D73027"/>
<text x="652.70" y="900.37" font-size="14.1" text-anchor="end">REACTOME_INTEGRIN_CELL_SURFACE_INTERACTIONS</text>
<rect x="659.10" y="906.33" width="247.20" height="16.70" fill="#D73027"/>
<text x="652.70" y="919.38" font-size="14.1" text-anchor="end">REACTOME_ECM_PROTEOGLYCANS</text>
<rect x="659.10" y="925.34" width="239.83" height="16.70" fill="#D73027"/>
<text x="652.70" y="938.39" font-size="14.1" text-anchor="end">REACTOME_NCAM_SIGNALING_FOR_NEURITE_OUT_GROWTH</text>
<rect x="659.10" y="944.35" width="238.84" height="16.70" fill="#D73027"/>
<text x="652.70" y="957.40" font-size="14.1" text-anchor="end">REACTOME_NCAM1_INTERACTIONS</text>
<rect x="659.10" y="963.36" width="237.84" height="16.70" fill="#D73027"/>
<text x="652.70" y="976.41" font-size="14.1" text-anchor="end">REACTOME_ANCHORING_FIBRIL_FORMATION</text>
<rect x="659.10" y="982.37" width="231.87" height="16.70" fill="#D73027"/>
<text x="652.70" y="995.42" font-size="14.1" text-anchor="end">REACTOME_DISEASES_ASSOCIATED_WITH_GLYCOSAMINOGLYCAN_METABOLISM</text>
<rect x="659.10" y="1001.38" width="225.89" height="16.70" fill="#D73027"/>
<text x="652.70" y="1014.43" font-size="14.1" text-anchor="end">HALLMARK_EPITHELIAL_MESENCHYMAL_TRANSITION</text>
<rect x="659.10" y="1020.39" width="222.90" height="16.70" fill="#D73027"/>
<text x="652.70" y="1033.44" font-size="14.1" text-anchor="end">REACTOME_EXTRACELLULAR_MATRIX_ORGANIZATION</text>
<rect x="659.10" y="1039.40" width="219.72" height="16.70" fill="#D73027"/>
<text x="652.70" y="1052.45" font-size="14.1" text-anchor="end">REACTOME_DEGRADATION_OF_THE_EXTRACELLULAR_MATRIX</text>
<rect x="659.10" y="1058.41" width="206.57" height="16.70" fill="#D73027"/>
<text x="652.70" y="1071.46" font-size="14.1" text-anchor="end">REACTOME_DISEASES_OF_GLYCOSYLATION</text>
<rect x="659.10" y="1077.42" width="188.84" height="16.70" fill="#D73027"/>
<text x="652.70" y="1090.37" font-size="14.2" text-anchor="end" font-weight="bold" fill="#1BA548">HALLMARK_ADIPOGENESIS</text>
<rect x="659.10" y="1096.43" width="185.66" height="16.70" fill="#D73027"/>
<text x="652.70" y="1109.48" font-size="14.1" text-anchor="end">REACTOME_DISEASES_OF_METABOLISM</text>
<text x="659.10" y="1145.00" font-size="32" text-anchor="middle">0</text>
<text x="780.00" y="1145.00" font-size="32" text-anchor="middle">1</text>
<text x="900.50" y="1145.00" font-size="32" text-anchor="middle">2</text>
<text x="209.50" y="1145.00" font-size="32">Normalized enrichment score</text>
<line x1="1591.50" y1="724.30" x2="1918.90" y2="724.30" stroke="#EBEBEB" stroke-width="1.1"/>
<line x1="1591.50" y1="743.33" x2="1918.90" y2="743.33" stroke="#EBEBEB" stroke-width="1.1"/>
<line x1="1591.50" y1="762.36" x2="1918.90" y2="762.36" stroke="#EBEBEB" stroke-width="1.1"/>
<line x1="1591.50" y1="781.39" x2="1918.90" y2="781.39" stroke="#EBEBEB" stroke-width="1.1"/>
<line x1="1591.50" y1="800.42" x2="1918.90" y2="800.42" stroke="#EBEBEB" stroke-width="1.1"/>
<line x1="1591.50" y1="819.45" x2="1918.90" y2="819.45" stroke="#EBEBEB" stroke-width="1.1"/>
<line x1="1591.50" y1="838.48" x2="1918.90" y2="838.48" stroke="#EBEBEB" stroke-width="1.1"/>
<line x1="1591.50" y1="857.51" x2="1918.90" y2="857.51" stroke="#EBEBEB" stroke-width="1.1"/>
<line x1="1591.50" y1="876.54" x2="1918.90" y2="876.54" stroke="#EBEBEB" stroke-width="1.1"/>
<line x1="1591.50" y1="895.57" x2="1918.90" y2="895.57" stroke="#EBEBEB" stroke-width="1.1"/>
<line x1="1591.50" y1="914.60" x2="1918.90" y2="914.60" stroke="#EBEBEB" stroke-width="1.1"/>
<line x1="1591.50" y1="933.63" x2="1918.90" y2="933.63" stroke="#EBEBEB" stroke-width="1.1"/>
<line x1="1591.50" y1="952.66" x2="1918.90" y2="952.66" stroke="#EBEBEB" stroke-width="1.1"/>
<line x1="1591.50" y1="971.69" x2="1918.90" y2="971.69" stroke="#EBEBEB" stroke-width="1.1"/>
<line x1="1591.50" y1="990.72" x2="1918.90" y2="990.72" stroke="#EBEBEB" stroke-width="1.1"/>
<line x1="1591.50" y1="1009.75" x2="1918.90" y2="1009.75" stroke="#EBEBEB" stroke-width="1.1"/>
<line x1="1591.50" y1="1028.78" x2="1918.90" y2="1028.78" stroke="#EBEBEB" stroke-width="1.1"/>
<line x1="1591.50" y1="1047.81" x2="1918.90" y2="1047.81" stroke="#EBEBEB" stroke-width="1.1"/>
<line x1="1591.50" y1="1066.84" x2="1918.90" y2="1066.84" stroke="#EBEBEB" stroke-width="1.1"/>
<line x1="1591.50" y1="1085.87" x2="1918.90" y2="1085.87" stroke="#EBEBEB" stroke-width="1.1"/>
<line x1="1591.50" y1="1104.90" x2="1918.90" y2="1104.90" stroke="#EBEBEB" stroke-width="1.1"/>
<line x1="1654.50" y1="718.60" x2="1654.50" y2="1115.60" stroke="#F2F2F2" stroke-width="0.8"/>
<line x1="1775.00" y1="718.60" x2="1775.00" y2="1115.60" stroke="#F2F2F2" stroke-width="0.8"/>
<line x1="1895.70" y1="718.60" x2="1895.70" y2="1115.60" stroke="#F2F2F2" stroke-width="0.8"/>
<line x1="1593.60" y1="718.60" x2="1593.60" y2="1115.60" stroke="#E6E6E6" stroke-width="1.1"/>
<line x1="1714.70" y1="718.60" x2="1714.70" y2="1115.60" stroke="#E6E6E6" stroke-width="1.1"/>
<line x1="1835.20" y1="718.60" x2="1835.20" y2="1115.60" stroke="#E6E6E6" stroke-width="1.1"/>
<rect x="1593.60" y="718.60" width="319.21" height="14.05" fill="#4575B4"/>
<text x="1587.60" y="729.00" font-size="14.1" text-anchor="end">REACTOME_INFECTIOUS_DISEASE</text>
<rect x="1593.60" y="734.98" width="297.74" height="16.70" fill="#4575B4"/>
<text x="1587.60" y="748.03" font-size="14.1" text-anchor="end">REACTOME_DEVELOPMENTAL_BIOLOGY</text>
<rect x="1593.60" y="754.01" width="294.45" height="16.70" fill="#4575B4"/>
<text x="1587.60" y="767.06" font-size="14.1" text-anchor="end">REACTOME_SIGNALING_BY_RHO_GTPASES_MIRO_GTPASES_AND_RHOBTB3</text>
<rect x="1593.60" y="773.04" width="285.47" height="16.70" fill="#4575B4"/>
<text x="1587.60" y="786.09" font-size="14.1" text-anchor="end">REACTOME_RHO_GTPASE_CYCLE</text>
<rect x="1593.60" y="792.07" width="269.03" height="16.70" fill="#4575B4"/>
<text x="1587.60" y="805.12" font-size="14.1" text-anchor="end">HALLMARK_MITOTIC_SPINDLE</text>
<rect x="1593.60" y="811.10" width="251.51" height="16.70" fill="#4575B4"/>
<text x="1587.60" y="824.15" font-size="14.1" text-anchor="end">REACTOME_SIGNALING_BY_ROBO_RECEPTORS</text>
<rect x="1593.60" y="830.13" width="248.44" height="16.70" fill="#4575B4"/>
<text x="1587.60" y="843.18" font-size="14.1" text-anchor="end">REACTOME_MYOGENESIS</text>
<rect x="1593.60" y="849.16" width="247.34" height="16.70" fill="#4575B4"/>
<text x="1587.60" y="862.11" font-size="14.15" text-anchor="end" font-weight="bold" fill="#1BA548">REACTOME_WNT_LIGAND_BIOGENESIS_AND_TRAFFICKING</text>
<rect x="1593.60" y="868.19" width="247.12" height="16.70" fill="#4575B4"/>
<text x="1587.60" y="881.24" font-size="14.1" text-anchor="end">REACTOME_RRNA_PROCESSING</text>
<rect x="1593.60" y="887.22" width="236.17" height="16.70" fill="#4575B4"/>
<text x="1587.60" y="900.27" font-size="14.1" text-anchor="end">REACTOME_CELLULAR_RESPONSE_TO_STARVATION</text>
<rect x="1593.60" y="906.25" width="233.32" height="16.70" fill="#4575B4"/>
<text x="1587.60" y="919.30" font-size="14.1" text-anchor="end">REACTOME_SYNTHESIS_OF_UDP_N_ACETYL_GLUCOSAMINE</text>
<rect x="1593.60" y="925.28" width="232.45" height="16.70" fill="#4575B4"/>
<text x="1587.60" y="938.33" font-size="14.1" text-anchor="end">REACTOME_REGULATION_OF_EXPRESSION_OF_SLITS_AND_ROBOS</text>
<rect x="1593.60" y="944.31" width="232.01" height="16.70" fill="#4575B4"/>
<text x="1587.60" y="957.36" font-size="14.1" text-anchor="end">REACTOME_INFLUENZA_INFECTION</text>
<rect x="1593.60" y="963.34" width="230.04" height="16.70" fill="#4575B4"/>
<text x="1587.60" y="976.39" font-size="14.1" text-anchor="end">REACTOME_ACTIVATION_OF_THE_MRNA_UPON_BINDING_OF_THE_CAP_[...]_TO_43S</text>
<rect x="1593.60" y="982.37" width="228.06" height="16.70" fill="#4575B4"/>
<text x="1587.60" y="995.42" font-size="14.1" text-anchor="end">REACTOME_XENOBIOTICS</text>
<rect x="1593.60" y="1001.40" width="211.41" height="16.70" fill="#4575B4"/>
<text x="1587.60" y="1014.45" font-size="14.1" text-anchor="end">REACTOME_SRP_DEPENDENT_COTRANSLATIONAL_PROTEIN_TARGETING_TO_MEMBRANE</text>
<rect x="1593.60" y="1020.43" width="196.95" height="16.70" fill="#4575B4"/>
<text x="1587.60" y="1033.48" font-size="14.1" text-anchor="end">REACTOME_SELENOAMINO_ACID_METABOLISM</text>
<rect x="1593.60" y="1039.46" width="187.31" height="16.70" fill="#4575B4"/>
<text x="1587.60" y="1052.51" font-size="14.1" text-anchor="end">REACTOME_RESPONSE_OF_EIF2AK4_GCN2_TO_AMINO_ACID_DEFICIENCY</text>
<rect x="1593.60" y="1058.49" width="187.09" height="16.70" fill="#4575B4"/>
<text x="1587.60" y="1071.54" font-size="14.1" text-anchor="end">REACTOME_EUKARYOTIC_TRANSLATION_INITIATION</text>
<rect x="1593.60" y="1077.52" width="168.03" height="16.70" fill="#4575B4"/>
<text x="1587.60" y="1090.57" font-size="14.1" text-anchor="end">REACTOME_NONSENSE_MEDIATED_DECAY_NMD</text>
<rect x="1593.60" y="1096.55" width="166.50" height="16.70" fill="#4575B4"/>
<text x="1587.60" y="1109.60" font-size="14.1" text-anchor="end">REACTOME_EUKARYOTIC_TRANSLATION_ELONGATION</text>
<text x="1593.60" y="1145.00" font-size="32" text-anchor="middle">0</text>
<text x="1713.70" y="1145.00" font-size="32" text-anchor="middle">-1</text>
<text x="1834.20" y="1145.00" font-size="32" text-anchor="middle">-2</text>
<text x="1161.00" y="1145.00" font-size="32">Normalized enrichment score</text>
<text x="-2.00" y="1216.00" font-size="50.5">d</text>
<line x1="152.80" y1="1254.85" x2="152.80" y2="1714.45" stroke="#000" stroke-width="3.3"/>
<line x1="132.70" y1="1712.80" x2="382.00" y2="1712.80" stroke="#000" stroke-width="3.3"/>
<line x1="132.70" y1="1256.50" x2="152.80" y2="1256.50" stroke="#000" stroke-width="3.3"/>
<text x="124.40" y="1269.10" font-size="33" text-anchor="end">2.0</text>
<line x1="132.70" y1="1371.90" x2="152.80" y2="1371.90" stroke="#000" stroke-width="3.3"/>
<text x="124.40" y="1384.50" font-size="33" text-anchor="end">1.5</text>
<line x1="132.70" y1="1485.20" x2="152.80" y2="1485.20" stroke="#000" stroke-width="3.3"/>
<text x="124.40" y="1497.80" font-size="33" text-anchor="end">1.0</text>
<line x1="132.70" y1="1598.80" x2="152.80" y2="1598.80" stroke="#000" stroke-width="3.3"/>
<text x="124.40" y="1611.40" font-size="33" text-anchor="end">0.5</text>
<line x1="132.70" y1="1712.80" x2="152.80" y2="1712.80" stroke="#000" stroke-width="3.3"/>
<text x="124.40" y="1725.40" font-size="33" text-anchor="end">0.0</text>
<line x1="221.50" y1="1712.80" x2="221.50" y2="1725.20" stroke="#000" stroke-width="3.3"/>
<line x1="309.20" y1="1712.80" x2="309.20" y2="1725.20" stroke="#000" stroke-width="3.3"/>
<rect x="188.90" y="1466.20" width="66.30" height="246.60" fill="none" stroke="#000" stroke-width="3.3"/>
<rect x="276.00" y="1692.00" width="67.20" height="20.80" fill="none" stroke="#000080" stroke-width="3.3"/>
<line x1="132.70" y1="1712.80" x2="382.00" y2="1712.80" stroke="#000" stroke-width="3.3"/>
<line x1="221.50" y1="1409.40" x2="221.50" y2="1518.40" stroke="#000" stroke-width="3.3"/>
<line x1="213.30" y1="1409.40" x2="229.70" y2="1409.40" stroke="#000" stroke-width="3.3"/>
<line x1="213.30" y1="1518.40" x2="229.70" y2="1518.40" stroke="#000" stroke-width="3.3"/>
<line x1="309.20" y1="1675.50" x2="309.20" y2="1692.00" stroke="#000080" stroke-width="3.3"/>
<line x1="301.00" y1="1675.50" x2="317.40" y2="1675.50" stroke="#000080" stroke-width="3.3"/>
<circle cx="221.50" cy="1346.50" r="4.70" fill="none" stroke="#000" stroke-width="2.6"/>
<circle cx="221.50" cy="1423.80" r="4.70" fill="none" stroke="#000" stroke-width="2.6"/>
<circle cx="221.50" cy="1481.70" r="4.70" fill="none" stroke="#000" stroke-width="2.6"/>
<circle cx="221.50" cy="1603.50" r="4.70" fill="none" stroke="#000" stroke-width="2.6"/>
<circle cx="309.20" cy="1647.30" r="4.70" fill="none" stroke="#000080" stroke-width="2.6"/>
<circle cx="309.20" cy="1696.30" r="4.70" fill="none" stroke="#000080" stroke-width="2.6"/>
<circle cx="299.50" cy="1709.80" r="4.70" fill="none" stroke="#000080" stroke-width="2.6"/>
<circle cx="318.70" cy="1707.30" r="4.70" fill="none" stroke="#000080" stroke-width="2.6"/>
<line x1="221.50" y1="1292.00" x2="309.20" y2="1292.00" stroke="#000" stroke-width="3.3"/>
<text x="265.30" y="1284.52" font-size="36.5" text-anchor="middle" font-weight="bold" stroke="#000" stroke-width="0.9" font-family="DejaVu Sans, Liberation Sans, sans-serif">*</text>
<text x="170.30" y="1764.00" font-size="32">MME<tspan dy="-17.4" font-weight="bold">-</tspan></text>
<text x="276.20" y="1764.00" font-size="32">MME<tspan dy="-17.4">+</tspan></text>
<text font-size="32" text-anchor="middle" font-style="italic" transform="translate(24.60 1488.50) rotate(-90)">Wnt2</text>
<text font-size="32.2" text-anchor="middle" transform="translate(65.00 1479.00) rotate(-90)">Relative Gene Expression</text>
<text x="382.30" y="1216.80" font-size="50.5">e</text>
<line x1="528.60" y1="1257.75" x2="528.60" y2="1715.25" stroke="#000" stroke-width="3.3"/>
<line x1="509.30" y1="1259.40" x2="528.60" y2="1259.40" stroke="#000" stroke-width="3.3"/>
<text x="500.30" y="1272.00" font-size="33" text-anchor="end">2.0</text>
<line x1="509.30" y1="1373.30" x2="528.60" y2="1373.30" stroke="#000" stroke-width="3.3"/>
<text x="500.30" y="1385.90" font-size="33" text-anchor="end">1.5</text>
<line x1="509.30" y1="1487.20" x2="528.60" y2="1487.20" stroke="#000" stroke-width="3.3"/>
<text x="500.30" y="1499.80" font-size="33" text-anchor="end">1.0</text>
<line x1="509.30" y1="1600.30" x2="528.60" y2="1600.30" stroke="#000" stroke-width="3.3"/>
<text x="500.30" y="1612.90" font-size="33" text-anchor="end">0.5</text>
<line x1="509.30" y1="1713.60" x2="528.60" y2="1713.60" stroke="#000" stroke-width="3.3"/>
<text x="500.30" y="1726.20" font-size="33" text-anchor="end">0.0</text>
<line x1="597.80" y1="1713.60" x2="597.80" y2="1726.00" stroke="#000" stroke-width="3.3"/>
<line x1="685.20" y1="1713.60" x2="685.20" y2="1726.00" stroke="#000" stroke-width="3.3"/>
<rect x="565.20" y="1473.40" width="66.10" height="240.20" fill="none" stroke="#000" stroke-width="3.3"/>
<rect x="651.20" y="1708.10" width="68.30" height="5.50" fill="none" stroke="#000080" stroke-width="3.3"/>
<line x1="509.30" y1="1713.60" x2="757.30" y2="1713.60" stroke="#000" stroke-width="3.3"/>
<line x1="597.80" y1="1430.40" x2="597.80" y2="1513.20" stroke="#000" stroke-width="3.3"/>
<line x1="589.60" y1="1430.40" x2="606.00" y2="1430.40" stroke="#000" stroke-width="3.3"/>
<line x1="589.60" y1="1513.20" x2="606.00" y2="1513.20" stroke="#000" stroke-width="3.3"/>
<line x1="685.20" y1="1702.00" x2="685.20" y2="1714.00" stroke="#000080" stroke-width="3.3"/>
<line x1="677.00" y1="1702.00" x2="693.40" y2="1702.00" stroke="#000080" stroke-width="3.3"/>
<circle cx="597.80" cy="1303.50" r="4.70" fill="none" stroke="#000" stroke-width="2.6"/>
<circle cx="597.80" cy="1395.50" r="4.70" fill="none" stroke="#000" stroke-width="2.6"/>
<circle cx="597.80" cy="1502.20" r="4.70" fill="none" stroke="#000" stroke-width="2.6"/>
<circle cx="597.80" cy="1527.60" r="4.70" fill="none" stroke="#000" stroke-width="2.6"/>
<circle cx="597.80" cy="1539.10" r="4.70" fill="none" stroke="#000" stroke-width="2.6"/>
<circle cx="597.80" cy="1561.30" r="4.70" fill="none" stroke="#000" stroke-width="2.6"/>
<circle cx="685.20" cy="1687.10" r="4.70" fill="none" stroke="#000080" stroke-width="2.6"/>
<circle cx="655.50" cy="1712.80" r="4.70" fill="none" stroke="#000080" stroke-width="2.6"/>
<circle cx="670.50" cy="1705.50" r="4.70" fill="none" stroke="#000080" stroke-width="2.6"/>
<circle cx="685.20" cy="1712.80" r="4.70" fill="none" stroke="#000080" stroke-width="2.6"/>
<circle cx="700.20" cy="1705.50" r="4.70" fill="none" stroke="#000080" stroke-width="2.6"/>
<circle cx="715.50" cy="1713.60" r="4.70" fill="none" stroke="#000080" stroke-width="2.6"/>
<line x1="597.80" y1="1281.00" x2="685.20" y2="1281.00" stroke="#000" stroke-width="3.3"/>
<text x="642.95" y="1283.92" font-size="36.5" text-anchor="middle" font-weight="bold" letter-spacing="3.9" stroke="#000" stroke-width="0.9" font-family="DejaVu Sans, Liberation Sans, sans-serif">**</text>
<text x="546.20" y="1764.70" font-size="32">MME<tspan dy="-17.4" font-weight="bold">-</tspan></text>
<text x="651.40" y="1764.70" font-size="32">MME<tspan dy="-17.4">+</tspan></text>
<text font-size="32" text-anchor="middle" font-style="italic" transform="translate(405.20 1488.00) rotate(-90)">Wnt10b</text>
<text font-size="32.2" text-anchor="middle" transform="translate(444.70 1480.50) rotate(-90)">Relative Gene Expression</text>
<text x="747.30" y="1215.50" font-size="50.5">f</text>
<rect x="772.15" y="1221.84" width="43.04" height="237.80" fill="none" stroke="#000" stroke-width="3.5"/>
<text font-size="35" transform="translate(803.60 1385.50) rotate(-90)">MME<tspan font-size="22" dy="-11.1">-</tspan></text>
<rect x="772.15" y="1473.45" width="43.04" height="237.60" fill="none" stroke="#000" stroke-width="3.5"/>
<text font-size="35" transform="translate(804.90 1632.40) rotate(-90)">MME<tspan font-size="20.4" dy="-12.2">+</tspan></text>
<defs><filter id="nt" x="-10%" y="-10%" width="120%" height="120%" color-interpolation-filters="sRGB"><feTurbulence type="fractalNoise" baseFrequency="0.16" numOctaves="2" seed="5" result="n"/><feDisplacementMap in="SourceGraphic" in2="n" scale="3.5" xChannelSelector="R" yChannelSelector="G" result="d"/><feTurbulence type="fractalNoise" baseFrequency="0.5" numOctaves="1" seed="11" result="t"/><feColorMatrix in="t" type="matrix" values="0 0 0 0 1  0 0 0 0 1  0 0 0 0 1  2.4 0 0 0 -0.7" result="ta"/><feComposite in="d" in2="ta" operator="arithmetic" k1="0.5" k2="0.72" k3="0" k4="0" result="m"/><feGaussianBlur in="m" stdDeviation="0.45"/></filter></defs>
<rect x="826.40" y="1220.90" width="242.50" height="242.50" fill="#000"/>
<g filter="url(#nt)">
<ellipse cx="899.9" cy="1277.9" rx="6.7" ry="13.6" transform="rotate(14 899.9 1277.9)" fill="#00FFFF"/>
<ellipse cx="886.6" cy="1332.3" rx="7.6" ry="15.0" transform="rotate(-48 886.6 1332.3)" fill="#00FFFF"/>
<ellipse cx="911.6" cy="1341.3" rx="9.3" ry="21.3" transform="rotate(-17 911.6 1341.3)" fill="#00FFFF"/>
<ellipse cx="1004.1" cy="1326.0" rx="8.0" ry="13.2" transform="rotate(-8 1004.1 1326.0)" fill="#00FFFF"/>
<ellipse cx="966.1" cy="1397.1" rx="8.6" ry="17.6" transform="rotate(-30 966.1 1397.1)" fill="#00FFFF"/>
</g>
<rect x="830.80" y="1457.50" width="11.60" height="2.60" fill="#fff"/>
<rect x="1079.10" y="1220.90" width="242.50" height="242.50" fill="#000"/>
<path d="M1251.6 1323.1a1.2 1.2 0 1 0 2.4 0a1.2 1.2 0 1 0 -2.4 0M1258.1 1327.6a1.0 1.0 0 1 0 2.0 0a1.0 1.0 0 1 0 -2.0 0M1256.6 1324.5a0.6 0.6 0 1 0 1.2 0a0.6 0.6 0 1 0 -1.2 0M1259.9 1332.0a0.7 0.7 0 1 0 1.4 0a0.7 0.7 0 1 0 -1.4 0M1256.7 1325.5a1.2 1.2 0 1 0 2.4 0a1.2 1.2 0 1 0 -2.4 0M1258.3 1327.1a0.7 0.7 0 1 0 1.4 0a0.7 0.7 0 1 0 -1.4 0M1252.2 1329.3a0.6 0.6 0 1 0 1.2 0a0.6 0.6 0 1 0 -1.2 0M1259.5 1317.2a0.6 0.6 0 1 0 1.2 0a0.6 0.6 0 1 0 -1.2 0M1253.9 1323.8a1.2 1.2 0 1 0 2.4 0a1.2 1.2 0 1 0 -2.4 0M1247.1 1323.9a1.2 1.2 0 1 0 2.4 0a1.2 1.2 0 1 0 -2.4 0M1255.6 1331.1a0.7 0.7 0 1 0 1.4 0a0.7 0.7 0 1 0 -1.4 0M1261.0 1330.3a0.7 0.7 0 1 0 1.4 0a0.7 0.7 0 1 0 -1.4 0M1247.8 1326.1a1.0 1.0 0 1 0 2.0 0a1.0 1.0 0 1 0 -2.0 0M1254.9 1335.0a1.2 1.2 0 1 0 2.4 0a1.2 1.2 0 1 0 -2.4 0M1150.7 1316.7a0.8 0.8 0 1 0 1.6 0a0.8 0.8 0 1 0 -1.6 0M1150.6 1311.5a1.2 1.2 0 1 0 2.4 0a1.2 1.2 0 1 0 -2.4 0M1152.4 1305.1a0.8 0.8 0 1 0 1.6 0a0.8 0.8 0 1 0 -1.6 0M1159.2 1303.3a0.8 0.8 0 1 0 1.6 0a0.8 0.8 0 1 0 -1.6 0M1148.8 1334.8a0.8 0.8 0 1 0 1.6 0a0.8 0.8 0 1 0 -1.6 0M1145.7 1319.4a1.2 1.2 0 1 0 2.4 0a1.2 1.2 0 1 0 -2.4 0M1164.5 1301.8a0.7 0.7 0 1 0 1.4 0a0.7 0.7 0 1 0 -1.4 0M1160.5 1290.9a1.2 1.2 0 1 0 2.4 0a1.2 1.2 0 1 0 -2.4 0M1162.9 1288.2a1.0 1.0 0 1 0 2.0 0a1.0 1.0 0 1 0 -2.0 0M1146.7 1295.6a0.7 0.7 0 1 0 1.4 0a0.7 0.7 0 1 0 -1.4 0M1158.6 1312.1a1.2 1.2 0 1 0 2.4 0a1.2 1.2 0 1 0 -2.4 0M1134.9 1306.2a1.2 1.2 0 1 0 2.4 0a1.2 1.2 0 1 0 -2.4 0M1147.5 1313.4a1.0 1.0 0 1 0 2.0 0a1.0 1.0 0 1 0 -2.0 0M1149.0 1313.4a1.2 1.2 0 1 0 2.4 0a1.2 1.2 0 1 0 -2.4 0M1148.5 1311.8a1.0 1.0 0 1 0 2.0 0a1.0 1.0 0 1 0 -2.0 0M1150.7 1317.7a0.7 0.7 0 1 0 1.4 0a0.7 0.7 0 1 0 -1.4 0M1149.7 1311.0a0.8 0.8 0 1 0 1.6 0a0.8 0.8 0 1 0 -1.6 0M1160.7 1290.0a0.8 0.8 0 1 0 1.6 0a0.8 0.8 0 1 0 -1.6 0M1139.7 1315.7a0.6 0.6 0 1 0 1.2 0a0.6 0.6 0 1 0 -1.2 0M1154.4 1293.6a1.0 1.0 0 1 0 2.0 0a1.0 1.0 0 1 0 -2.0 0M1142.5 1304.3a1.0 1.0 0 1 0 2.0 0a1.0 1.0 0 1 0 -2.0 0M1149.7 1295.0a0.6 0.6 0 1 0 1.2 0a0.6 0.6 0 1 0 -1.2 0M1142.8 1305.8a1.2 1.2 0 1 0 2.4 0a1.2 1.2 0 1 0 -2.4 0M1155.9 1315.6a1.0 1.0 0 1 0 2.0 0a1.0 1.0 0 1 0 -2.0 0M1153.2 1301.5a0.8 0.8 0 1 0 1.6 0a0.8 0.8 0 1 0 -1.6 0M1165.9 1303.4a1.2 1.2 0 1 0 2.4 0a1.2 1.2 0 1 0 -2.4 0M1188.5 1371.3a1.2 1.2 0 1 0 2.4 0a1.2 1.2 0 1 0 -2.4 0M1178.3 1375.8a1.2 1.2 0 1 0 2.4 0a1.2 1.2 0 1 0 -2.4 0M1182.5 1364.8a0.6 0.6 0 1 0 1.2 0a0.6 0.6 0 1 0 -1.2 0M1179.6 1365.0a0.6 0.6 0 1 0 1.2 0a0.6 0.6 0 1 0 -1.2 0M1177.6 1375.8a1.0 1.0 0 1 0 2.0 0a1.0 1.0 0 1 0 -2.0 0M1184.7 1371.6a0.7 0.7 0 1 0 1.4 0a0.7 0.7 0 1 0 -1.4 0M1173.9 1364.6a0.7 0.7 0 1 0 1.4 0a0.7 0.7 0 1 0 -1.4 0M1194.1 1381.3a1.2 1.2 0 1 0 2.4 0a1.2 1.2 0 1 0 -2.4 0M1199.0 1369.6a1.0 1.0 0 1 0 2.0 0a1.0 1.0 0 1 0 -2.0 0M1248.3 1410.1a0.8 0.8 0 1 0 1.6 0a0.8 0.8 0 1 0 -1.6 0M1257.1 1436.1a0.6 0.6 0 1 0 1.2 0a0.6 0.6 0 1 0 -1.2 0M1244.6 1400.0a0.8 0.8 0 1 0 1.6 0a0.8 0.8 0 1 0 -1.6 0M1255.5 1434.7a0.6 0.6 0 1 0 1.2 0a0.6 0.6 0 1 0 -1.2 0M1247.0 1412.8a0.8 0.8 0 1 0 1.6 0a0.8 0.8 0 1 0 -1.6 0M1256.2 1441.2a0.6 0.6 0 1 0 1.2 0a0.6 0.6 0 1 0 -1.2 0M1247.6 1412.6a0.8 0.8 0 1 0 1.6 0a0.8 0.8 0 1 0 -1.6 0M1150.0 1241.8a1.0 1.0 0 1 0 2.0 0a1.0 1.0 0 1 0 -2.0 0M1156.7 1254.3a1.0 1.0 0 1 0 2.0 0a1.0 1.0 0 1 0 -2.0 0M1157.7 1260.7a1.0 1.0 0 1 0 2.0 0a1.0 1.0 0 1 0 -2.0 0M1151.1 1248.8a0.6 0.6 0 1 0 1.2 0a0.6 0.6 0 1 0 -1.2 0M1155.3 1262.9a0.6 0.6 0 1 0 1.2 0a0.6 0.6 0 1 0 -1.2 0" fill="#E000E0" fill-opacity="0.2"/>
<path d="M1147.9 1282.1a0.6 0.6 0 1 0 1.2 0a0.6 0.6 0 1 0 -1.2 0M1149.2 1281.7a1.0 1.0 0 1 0 2.0 0a1.0 1.0 0 1 0 -2.0 0M1152.1 1283.9a1.2 1.2 0 1 0 2.4 0a1.2 1.2 0 1 0 -2.4 0M1150.8 1285.4a1.2 1.2 0 1 0 2.4 0a1.2 1.2 0 1 0 -2.4 0M1143.3 1291.5a0.7 0.7 0 1 0 1.4 0a0.7 0.7 0 1 0 -1.4 0M1151.7 1284.9a0.8 0.8 0 1 0 1.6 0a0.8 0.8 0 1 0 -1.6 0M1144.6 1285.2a1.0 1.0 0 1 0 2.0 0a1.0 1.0 0 1 0 -2.0 0M1152.0 1282.6a0.6 0.6 0 1 0 1.2 0a0.6 0.6 0 1 0 -1.2 0M1143.6 1286.1a1.0 1.0 0 1 0 2.0 0a1.0 1.0 0 1 0 -2.0 0M1146.7 1281.6a0.6 0.6 0 1 0 1.2 0a0.6 0.6 0 1 0 -1.2 0M1147.5 1280.0a1.0 1.0 0 1 0 2.0 0a1.0 1.0 0 1 0 -2.0 0M1152.1 1281.2a0.7 0.7 0 1 0 1.4 0a0.7 0.7 0 1 0 -1.4 0M1148.5 1275.5a1.2 1.2 0 1 0 2.4 0a1.2 1.2 0 1 0 -2.4 0M1152.2 1283.7a0.6 0.6 0 1 0 1.2 0a0.6 0.6 0 1 0 -1.2 0M1156.3 1266.7a0.7 0.7 0 1 0 1.4 0a0.7 0.7 0 1 0 -1.4 0M1149.7 1292.1a0.8 0.8 0 1 0 1.6 0a0.8 0.8 0 1 0 -1.6 0M1144.5 1285.7a0.7 0.7 0 1 0 1.4 0a0.7 0.7 0 1 0 -1.4 0M1155.2 1274.6a1.2 1.2 0 1 0 2.4 0a1.2 1.2 0 1 0 -2.4 0M1147.3 1270.8a1.2 1.2 0 1 0 2.4 0a1.2 1.2 0 1 0 -2.4 0M1152.9 1275.4a1.0 1.0 0 1 0 2.0 0a1.0 1.0 0 1 0 -2.0 0M1152.7 1275.9a0.8 0.8 0 1 0 1.6 0a0.8 0.8 0 1 0 -1.6 0M1149.7 1259.2a1.0 1.0 0 1 0 2.0 0a1.0 1.0 0 1 0 -2.0 0M1148.3 1326.5a0.8 0.8 0 1 0 1.6 0a0.8 0.8 0 1 0 -1.6 0M1148.0 1309.6a0.6 0.6 0 1 0 1.2 0a0.6 0.6 0 1 0 -1.2 0M1153.7 1329.4a0.6 0.6 0 1 0 1.2 0a0.6 0.6 0 1 0 -1.2 0M1140.1 1325.5a0.7 0.7 0 1 0 1.4 0a0.7 0.7 0 1 0 -1.4 0M1139.3 1336.0a0.8 0.8 0 1 0 1.6 0a0.8 0.8 0 1 0 -1.6 0M1137.6 1326.5a0.6 0.6 0 1 0 1.2 0a0.6 0.6 0 1 0 -1.2 0M1141.5 1327.3a1.2 1.2 0 1 0 2.4 0a1.2 1.2 0 1 0 -2.4 0M1146.3 1331.7a0.7 0.7 0 1 0 1.4 0a0.7 0.7 0 1 0 -1.4 0M1127.6 1323.4a0.7 0.7 0 1 0 1.4 0a0.7 0.7 0 1 0 -1.4 0M1154.6 1337.8a1.2 1.2 0 1 0 2.4 0a1.2 1.2 0 1 0 -2.4 0M1135.5 1324.6a1.0 1.0 0 1 0 2.0 0a1.0 1.0 0 1 0 -2.0 0M1141.3 1330.4a1.0 1.0 0 1 0 2.0 0a1.0 1.0 0 1 0 -2.0 0M1148.7 1327.7a0.6 0.6 0 1 0 1.2 0a0.6 0.6 0 1 0 -1.2 0M1138.3 1321.0a1.0 1.0 0 1 0 2.0 0a1.0 1.0 0 1 0 -2.0 0M1141.8 1336.0a1.2 1.2 0 1 0 2.4 0a1.2 1.2 0 1 0 -2.4 0M1143.2 1319.9a1.2 1.2 0 1 0 2.4 0a1.2 1.2 0 1 0 -2.4 0M1140.8 1324.9a1.0 1.0 0 1 0 2.0 0a1.0 1.0 0 1 0 -2.0 0M1142.4 1337.1a1.0 1.0 0 1 0 2.0 0a1.0 1.0 0 1 0 -2.0 0M1129.3 1337.7a1.0 1.0 0 1 0 2.0 0a1.0 1.0 0 1 0 -2.0 0M1138.8 1321.6a0.6 0.6 0 1 0 1.2 0a0.6 0.6 0 1 0 -1.2 0M1213.3 1403.3a1.0 1.0 0 1 0 2.0 0a1.0 1.0 0 1 0 -2.0 0M1220.0 1404.4a0.8 0.8 0 1 0 1.6 0a0.8 0.8 0 1 0 -1.6 0M1224.0 1410.5a0.6 0.6 0 1 0 1.2 0a0.6 0.6 0 1 0 -1.2 0M1221.8 1393.8a0.8 0.8 0 1 0 1.6 0a0.8 0.8 0 1 0 -1.6 0M1253.0 1328.5a0.6 0.6 0 1 0 1.2 0a0.6 0.6 0 1 0 -1.2 0M1250.5 1323.2a0.7 0.7 0 1 0 1.4 0a0.7 0.7 0 1 0 -1.4 0M1261.7 1327.7a1.0 1.0 0 1 0 2.0 0a1.0 1.0 0 1 0 -2.0 0M1255.6 1326.1a0.6 0.6 0 1 0 1.2 0a0.6 0.6 0 1 0 -1.2 0M1254.7 1330.0a0.8 0.8 0 1 0 1.6 0a0.8 0.8 0 1 0 -1.6 0M1259.1 1321.5a0.8 0.8 0 1 0 1.6 0a0.8 0.8 0 1 0 -1.6 0M1254.5 1322.7a1.0 1.0 0 1 0 2.0 0a1.0 1.0 0 1 0 -2.0 0M1252.6 1329.3a1.0 1.0 0 1 0 2.0 0a1.0 1.0 0 1 0 -2.0 0M1256.9 1327.5a0.7 0.7 0 1 0 1.4 0a0.7 0.7 0 1 0 -1.4 0M1247.6 1319.9a1.2 1.2 0 1 0 2.4 0a1.2 1.2 0 1 0 -2.4 0M1250.5 1329.1a0.7 0.7 0 1 0 1.4 0a0.7 0.7 0 1 0 -1.4 0M1156.4 1320.9a1.0 1.0 0 1 0 2.0 0a1.0 1.0 0 1 0 -2.0 0M1161.7 1307.6a1.2 1.2 0 1 0 2.4 0a1.2 1.2 0 1 0 -2.4 0M1150.8 1307.2a1.0 1.0 0 1 0 2.0 0a1.0 1.0 0 1 0 -2.0 0M1151.5 1301.1a0.7 0.7 0 1 0 1.4 0a0.7 0.7 0 1 0 -1.4 0M1156.2 1299.4a1.2 1.2 0 1 0 2.4 0a1.2 1.2 0 1 0 -2.4 0M1152.7 1327.2a0.8 0.8 0 1 0 1.6 0a0.8 0.8 0 1 0 -1.6 0M1163.3 1309.7a1.0 1.0 0 1 0 2.0 0a1.0 1.0 0 1 0 -2.0 0M1136.8 1282.4a0.8 0.8 0 1 0 1.6 0a0.8 0.8 0 1 0 -1.6 0M1150.0 1299.0a0.8 0.8 0 1 0 1.6 0a0.8 0.8 0 1 0 -1.6 0M1204.7 1379.7a1.0 1.0 0 1 0 2.0 0a1.0 1.0 0 1 0 -2.0 0M1174.9 1361.5a0.7 0.7 0 1 0 1.4 0a0.7 0.7 0 1 0 -1.4 0M1188.3 1374.5a1.2 1.2 0 1 0 2.4 0a1.2 1.2 0 1 0 -2.4 0M1167.2 1373.2a0.6 0.6 0 1 0 1.2 0a0.6 0.6 0 1 0 -1.2 0M1192.4 1374.1a1.2 1.2 0 1 0 2.4 0a1.2 1.2 0 1 0 -2.4 0M1190.0 1378.1a1.0 1.0 0 1 0 2.0 0a1.0 1.0 0 1 0 -2.0 0M1190.3 1370.0a0.6 0.6 0 1 0 1.2 0a0.6 0.6 0 1 0 -1.2 0M1185.2 1367.5a0.7 0.7 0 1 0 1.4 0a0.7 0.7 0 1 0 -1.4 0M1191.4 1371.9a0.7 0.7 0 1 0 1.4 0a0.7 0.7 0 1 0 -1.4 0M1185.6 1370.7a1.0 1.0 0 1 0 2.0 0a1.0 1.0 0 1 0 -2.0 0M1196.7 1374.4a1.2 1.2 0 1 0 2.4 0a1.2 1.2 0 1 0 -2.4 0M1176.6 1375.6a1.0 1.0 0 1 0 2.0 0a1.0 1.0 0 1 0 -2.0 0M1197.0 1379.7a1.2 1.2 0 1 0 2.4 0a1.2 1.2 0 1 0 -2.4 0M1191.4 1370.8a0.7 0.7 0 1 0 1.4 0a0.7 0.7 0 1 0 -1.4 0M1190.2 1386.2a0.8 0.8 0 1 0 1.6 0a0.8 0.8 0 1 0 -1.6 0M1181.8 1371.2a1.0 1.0 0 1 0 2.0 0a1.0 1.0 0 1 0 -2.0 0M1181.7 1355.2a1.0 1.0 0 1 0 2.0 0a1.0 1.0 0 1 0 -2.0 0M1183.4 1371.5a0.7 0.7 0 1 0 1.4 0a0.7 0.7 0 1 0 -1.4 0M1181.4 1372.0a0.8 0.8 0 1 0 1.6 0a0.8 0.8 0 1 0 -1.6 0M1181.9 1378.0a0.7 0.7 0 1 0 1.4 0a0.7 0.7 0 1 0 -1.4 0M1177.4 1372.1a1.0 1.0 0 1 0 2.0 0a1.0 1.0 0 1 0 -2.0 0M1183.4 1365.8a1.0 1.0 0 1 0 2.0 0a1.0 1.0 0 1 0 -2.0 0M1198.6 1376.9a1.0 1.0 0 1 0 2.0 0a1.0 1.0 0 1 0 -2.0 0M1182.6 1371.0a1.2 1.2 0 1 0 2.4 0a1.2 1.2 0 1 0 -2.4 0M1189.0 1368.0a0.6 0.6 0 1 0 1.2 0a0.6 0.6 0 1 0 -1.2 0M1191.8 1374.7a0.7 0.7 0 1 0 1.4 0a0.7 0.7 0 1 0 -1.4 0M1208.5 1394.8a0.6 0.6 0 1 0 1.2 0a0.6 0.6 0 1 0 -1.2 0M1179.1 1374.2a1.0 1.0 0 1 0 2.0 0a1.0 1.0 0 1 0 -2.0 0M1191.9 1379.5a0.8 0.8 0 1 0 1.6 0a0.8 0.8 0 1 0 -1.6 0M1199.7 1385.7a1.0 1.0 0 1 0 2.0 0a1.0 1.0 0 1 0 -2.0 0M1201.0 1387.9a0.6 0.6 0 1 0 1.2 0a0.6 0.6 0 1 0 -1.2 0M1191.0 1379.3a0.6 0.6 0 1 0 1.2 0a0.6 0.6 0 1 0 -1.2 0M1204.7 1389.6a0.6 0.6 0 1 0 1.2 0a0.6 0.6 0 1 0 -1.2 0M1205.8 1391.8a1.0 1.0 0 1 0 2.0 0a1.0 1.0 0 1 0 -2.0 0M1197.8 1387.5a0.6 0.6 0 1 0 1.2 0a0.6 0.6 0 1 0 -1.2 0M1188.2 1377.4a0.6 0.6 0 1 0 1.2 0a0.6 0.6 0 1 0 -1.2 0M1191.9 1380.9a1.0 1.0 0 1 0 2.0 0a1.0 1.0 0 1 0 -2.0 0M1184.8 1375.6a0.6 0.6 0 1 0 1.2 0a0.6 0.6 0 1 0 -1.2 0M1206.2 1392.8a0.8 0.8 0 1 0 1.6 0a0.8 0.8 0 1 0 -1.6 0M1188.4 1378.3a0.8 0.8 0 1 0 1.6 0a0.8 0.8 0 1 0 -1.6 0M1220.7 1415.2a1.0 1.0 0 1 0 2.0 0a1.0 1.0 0 1 0 -2.0 0M1231.0 1426.2a1.0 1.0 0 1 0 2.0 0a1.0 1.0 0 1 0 -2.0 0M1257.2 1453.7a0.8 0.8 0 1 0 1.6 0a0.8 0.8 0 1 0 -1.6 0M1219.1 1408.9a1.0 1.0 0 1 0 2.0 0a1.0 1.0 0 1 0 -2.0 0M1261.1 1455.2a1.0 1.0 0 1 0 2.0 0a1.0 1.0 0 1 0 -2.0 0M1254.3 1451.6a1.0 1.0 0 1 0 2.0 0a1.0 1.0 0 1 0 -2.0 0M1245.6 1440.1a1.0 1.0 0 1 0 2.0 0a1.0 1.0 0 1 0 -2.0 0M1255.2 1455.5a0.6 0.6 0 1 0 1.2 0a0.6 0.6 0 1 0 -1.2 0M1224.3 1415.8a0.6 0.6 0 1 0 1.2 0a0.6 0.6 0 1 0 -1.2 0M1248.2 1444.6a0.8 0.8 0 1 0 1.6 0a0.8 0.8 0 1 0 -1.6 0M1228.2 1419.3a0.6 0.6 0 1 0 1.2 0a0.6 0.6 0 1 0 -1.2 0M1254.3 1451.7a0.8 0.8 0 1 0 1.6 0a0.8 0.8 0 1 0 -1.6 0M1254.5 1452.5a0.8 0.8 0 1 0 1.6 0a0.8 0.8 0 1 0 -1.6 0M1225.5 1415.7a0.8 0.8 0 1 0 1.6 0a0.8 0.8 0 1 0 -1.6 0M1254.3 1447.6a0.8 0.8 0 1 0 1.6 0a0.8 0.8 0 1 0 -1.6 0M1221.7 1413.8a0.6 0.6 0 1 0 1.2 0a0.6 0.6 0 1 0 -1.2 0M1238.8 1438.2a1.0 1.0 0 1 0 2.0 0a1.0 1.0 0 1 0 -2.0 0M1228.3 1426.0a1.0 1.0 0 1 0 2.0 0a1.0 1.0 0 1 0 -2.0 0M1224.3 1417.4a0.8 0.8 0 1 0 1.6 0a0.8 0.8 0 1 0 -1.6 0M1252.3 1429.1a1.0 1.0 0 1 0 2.0 0a1.0 1.0 0 1 0 -2.0 0M1244.9 1406.8a1.0 1.0 0 1 0 2.0 0a1.0 1.0 0 1 0 -2.0 0M1247.7 1420.0a0.6 0.6 0 1 0 1.2 0a0.6 0.6 0 1 0 -1.2 0M1247.3 1412.0a1.0 1.0 0 1 0 2.0 0a1.0 1.0 0 1 0 -2.0 0M1245.6 1420.4a0.8 0.8 0 1 0 1.6 0a0.8 0.8 0 1 0 -1.6 0M1247.7 1408.5a0.8 0.8 0 1 0 1.6 0a0.8 0.8 0 1 0 -1.6 0M1254.4 1447.5a0.8 0.8 0 1 0 1.6 0a0.8 0.8 0 1 0 -1.6 0M1154.5 1251.6a0.6 0.6 0 1 0 1.2 0a0.6 0.6 0 1 0 -1.2 0M1150.6 1245.5a0.6 0.6 0 1 0 1.2 0a0.6 0.6 0 1 0 -1.2 0M1154.6 1249.8a0.8 0.8 0 1 0 1.6 0a0.8 0.8 0 1 0 -1.6 0" fill="#E000E0" fill-opacity="0.4"/>
<path d="M1148.1 1289.8a0.6 0.6 0 1 0 1.2 0a0.6 0.6 0 1 0 -1.2 0M1137.0 1289.2a0.6 0.6 0 1 0 1.2 0a0.6 0.6 0 1 0 -1.2 0M1148.2 1275.2a0.6 0.6 0 1 0 1.2 0a0.6 0.6 0 1 0 -1.2 0M1151.1 1279.7a0.7 0.7 0 1 0 1.4 0a0.7 0.7 0 1 0 -1.4 0M1143.1 1273.4a1.0 1.0 0 1 0 2.0 0a1.0 1.0 0 1 0 -2.0 0M1146.8 1289.0a1.2 1.2 0 1 0 2.4 0a1.2 1.2 0 1 0 -2.4 0M1143.9 1268.6a0.8 0.8 0 1 0 1.6 0a0.8 0.8 0 1 0 -1.6 0M1150.8 1266.4a1.0 1.0 0 1 0 2.0 0a1.0 1.0 0 1 0 -2.0 0M1151.4 1274.0a0.7 0.7 0 1 0 1.4 0a0.7 0.7 0 1 0 -1.4 0M1155.7 1274.6a0.7 0.7 0 1 0 1.4 0a0.7 0.7 0 1 0 -1.4 0M1149.8 1284.7a0.7 0.7 0 1 0 1.4 0a0.7 0.7 0 1 0 -1.4 0M1144.4 1275.5a0.6 0.6 0 1 0 1.2 0a0.6 0.6 0 1 0 -1.2 0M1160.8 1265.5a1.2 1.2 0 1 0 2.4 0a1.2 1.2 0 1 0 -2.4 0M1154.7 1279.1a1.0 1.0 0 1 0 2.0 0a1.0 1.0 0 1 0 -2.0 0M1151.5 1290.1a0.8 0.8 0 1 0 1.6 0a0.8 0.8 0 1 0 -1.6 0M1147.6 1286.0a0.7 0.7 0 1 0 1.4 0a0.7 0.7 0 1 0 -1.4 0M1147.7 1288.6a1.2 1.2 0 1 0 2.4 0a1.2 1.2 0 1 0 -2.4 0M1146.8 1282.0a0.7 0.7 0 1 0 1.4 0a0.7 0.7 0 1 0 -1.4 0M1151.7 1284.6a0.7 0.7 0 1 0 1.4 0a0.7 0.7 0 1 0 -1.4 0M1157.4 1275.6a1.0 1.0 0 1 0 2.0 0a1.0 1.0 0 1 0 -2.0 0M1155.6 1266.2a0.6 0.6 0 1 0 1.2 0a0.6 0.6 0 1 0 -1.2 0M1149.1 1284.5a0.8 0.8 0 1 0 1.6 0a0.8 0.8 0 1 0 -1.6 0M1151.8 1271.0a1.2 1.2 0 1 0 2.4 0a1.2 1.2 0 1 0 -2.4 0M1148.8 1264.2a1.2 1.2 0 1 0 2.4 0a1.2 1.2 0 1 0 -2.4 0M1141.5 1274.7a0.7 0.7 0 1 0 1.4 0a0.7 0.7 0 1 0 -1.4 0M1151.6 1273.7a0.7 0.7 0 1 0 1.4 0a0.7 0.7 0 1 0 -1.4 0M1144.7 1276.2a0.6 0.6 0 1 0 1.2 0a0.6 0.6 0 1 0 -1.2 0M1146.2 1287.6a1.0 1.0 0 1 0 2.0 0a1.0 1.0 0 1 0 -2.0 0M1144.9 1282.1a0.8 0.8 0 1 0 1.6 0a0.8 0.8 0 1 0 -1.6 0M1149.8 1276.6a1.2 1.2 0 1 0 2.4 0a1.2 1.2 0 1 0 -2.4 0M1150.3 1270.1a1.2 1.2 0 1 0 2.4 0a1.2 1.2 0 1 0 -2.4 0M1152.4 1337.8a0.6 0.6 0 1 0 1.2 0a0.6 0.6 0 1 0 -1.2 0M1140.7 1331.6a1.2 1.2 0 1 0 2.4 0a1.2 1.2 0 1 0 -2.4 0M1140.6 1334.3a0.7 0.7 0 1 0 1.4 0a0.7 0.7 0 1 0 -1.4 0M1142.5 1338.2a0.7 0.7 0 1 0 1.4 0a0.7 0.7 0 1 0 -1.4 0M1125.8 1326.7a1.2 1.2 0 1 0 2.4 0a1.2 1.2 0 1 0 -2.4 0M1142.7 1336.0a0.6 0.6 0 1 0 1.2 0a0.6 0.6 0 1 0 -1.2 0M1158.1 1326.4a1.2 1.2 0 1 0 2.4 0a1.2 1.2 0 1 0 -2.4 0M1154.5 1334.0a0.7 0.7 0 1 0 1.4 0a0.7 0.7 0 1 0 -1.4 0M1147.0 1330.9a1.0 1.0 0 1 0 2.0 0a1.0 1.0 0 1 0 -2.0 0M1150.1 1333.5a0.6 0.6 0 1 0 1.2 0a0.6 0.6 0 1 0 -1.2 0M1137.1 1323.5a0.6 0.6 0 1 0 1.2 0a0.6 0.6 0 1 0 -1.2 0M1128.7 1329.0a1.0 1.0 0 1 0 2.0 0a1.0 1.0 0 1 0 -2.0 0M1145.3 1333.4a0.7 0.7 0 1 0 1.4 0a0.7 0.7 0 1 0 -1.4 0M1138.6 1328.7a0.7 0.7 0 1 0 1.4 0a0.7 0.7 0 1 0 -1.4 0M1144.1 1333.8a1.0 1.0 0 1 0 2.0 0a1.0 1.0 0 1 0 -2.0 0M1117.7 1330.0a0.8 0.8 0 1 0 1.6 0a0.8 0.8 0 1 0 -1.6 0M1145.7 1337.5a0.8 0.8 0 1 0 1.6 0a0.8 0.8 0 1 0 -1.6 0M1141.8 1345.7a1.0 1.0 0 1 0 2.0 0a1.0 1.0 0 1 0 -2.0 0M1149.4 1345.3a1.0 1.0 0 1 0 2.0 0a1.0 1.0 0 1 0 -2.0 0M1139.1 1323.7a1.0 1.0 0 1 0 2.0 0a1.0 1.0 0 1 0 -2.0 0M1138.4 1337.4a1.0 1.0 0 1 0 2.0 0a1.0 1.0 0 1 0 -2.0 0M1139.4 1333.1a1.2 1.2 0 1 0 2.4 0a1.2 1.2 0 1 0 -2.4 0M1134.0 1332.0a0.8 0.8 0 1 0 1.6 0a0.8 0.8 0 1 0 -1.6 0M1137.3 1339.4a1.0 1.0 0 1 0 2.0 0a1.0 1.0 0 1 0 -2.0 0M1136.7 1332.1a0.7 0.7 0 1 0 1.4 0a0.7 0.7 0 1 0 -1.4 0M1144.4 1338.8a0.8 0.8 0 1 0 1.6 0a0.8 0.8 0 1 0 -1.6 0M1133.7 1334.7a1.2 1.2 0 1 0 2.4 0a1.2 1.2 0 1 0 -2.4 0M1138.6 1342.5a1.0 1.0 0 1 0 2.0 0a1.0 1.0 0 1 0 -2.0 0M1143.9 1317.7a0.6 0.6 0 1 0 1.2 0a0.6 0.6 0 1 0 -1.2 0M1140.2 1338.0a1.0 1.0 0 1 0 2.0 0a1.0 1.0 0 1 0 -2.0 0M1135.6 1342.8a0.6 0.6 0 1 0 1.2 0a0.6 0.6 0 1 0 -1.2 0M1145.7 1330.0a0.6 0.6 0 1 0 1.2 0a0.6 0.6 0 1 0 -1.2 0M1140.5 1330.5a0.7 0.7 0 1 0 1.4 0a0.7 0.7 0 1 0 -1.4 0M1138.8 1324.4a1.0 1.0 0 1 0 2.0 0a1.0 1.0 0 1 0 -2.0 0M1135.7 1331.0a0.7 0.7 0 1 0 1.4 0a0.7 0.7 0 1 0 -1.4 0M1142.4 1342.5a0.8 0.8 0 1 0 1.6 0a0.8 0.8 0 1 0 -1.6 0M1141.9 1329.6a1.2 1.2 0 1 0 2.4 0a1.2 1.2 0 1 0 -2.4 0M1136.1 1333.9a1.2 1.2 0 1 0 2.4 0a1.2 1.2 0 1 0 -2.4 0M1142.4 1331.7a1.0 1.0 0 1 0 2.0 0a1.0 1.0 0 1 0 -2.0 0M1135.4 1335.6a0.8 0.8 0 1 0 1.6 0a0.8 0.8 0 1 0 -1.6 0M1142.7 1332.7a0.6 0.6 0 1 0 1.2 0a0.6 0.6 0 1 0 -1.2 0M1143.9 1329.9a0.7 0.7 0 1 0 1.4 0a0.7 0.7 0 1 0 -1.4 0M1143.0 1331.4a0.6 0.6 0 1 0 1.2 0a0.6 0.6 0 1 0 -1.2 0M1140.0 1315.9a0.8 0.8 0 1 0 1.6 0a0.8 0.8 0 1 0 -1.6 0M1131.7 1345.8a0.6 0.6 0 1 0 1.2 0a0.6 0.6 0 1 0 -1.2 0M1139.0 1324.9a0.8 0.8 0 1 0 1.6 0a0.8 0.8 0 1 0 -1.6 0M1146.0 1330.5a0.6 0.6 0 1 0 1.2 0a0.6 0.6 0 1 0 -1.2 0M1121.7 1340.8a1.0 1.0 0 1 0 2.0 0a1.0 1.0 0 1 0 -2.0 0M1165.0 1332.4a0.7 0.7 0 1 0 1.4 0a0.7 0.7 0 1 0 -1.4 0M1172.1 1346.8a1.2 1.2 0 1 0 2.4 0a1.2 1.2 0 1 0 -2.4 0M1169.1 1336.8a0.8 0.8 0 1 0 1.6 0a0.8 0.8 0 1 0 -1.6 0M1177.4 1339.6a1.2 1.2 0 1 0 2.4 0a1.2 1.2 0 1 0 -2.4 0M1175.9 1356.5a0.6 0.6 0 1 0 1.2 0a0.6 0.6 0 1 0 -1.2 0M1158.0 1334.2a0.7 0.7 0 1 0 1.4 0a0.7 0.7 0 1 0 -1.4 0M1168.5 1341.9a0.8 0.8 0 1 0 1.6 0a0.8 0.8 0 1 0 -1.6 0M1165.5 1346.3a1.2 1.2 0 1 0 2.4 0a1.2 1.2 0 1 0 -2.4 0M1163.6 1352.7a1.2 1.2 0 1 0 2.4 0a1.2 1.2 0 1 0 -2.4 0M1169.8 1329.2a0.7 0.7 0 1 0 1.4 0a0.7 0.7 0 1 0 -1.4 0M1172.0 1339.2a1.0 1.0 0 1 0 2.0 0a1.0 1.0 0 1 0 -2.0 0M1160.7 1334.1a1.2 1.2 0 1 0 2.4 0a1.2 1.2 0 1 0 -2.4 0M1177.1 1343.7a0.7 0.7 0 1 0 1.4 0a0.7 0.7 0 1 0 -1.4 0M1167.8 1335.9a1.0 1.0 0 1 0 2.0 0a1.0 1.0 0 1 0 -2.0 0M1167.6 1332.5a0.7 0.7 0 1 0 1.4 0a0.7 0.7 0 1 0 -1.4 0M1170.5 1335.2a0.8 0.8 0 1 0 1.6 0a0.8 0.8 0 1 0 -1.6 0M1176.0 1354.8a0.7 0.7 0 1 0 1.4 0a0.7 0.7 0 1 0 -1.4 0M1161.7 1334.4a1.0 1.0 0 1 0 2.0 0a1.0 1.0 0 1 0 -2.0 0M1175.2 1340.4a0.8 0.8 0 1 0 1.6 0a0.8 0.8 0 1 0 -1.6 0M1163.9 1346.2a0.6 0.6 0 1 0 1.2 0a0.6 0.6 0 1 0 -1.2 0M1177.9 1334.0a0.6 0.6 0 1 0 1.2 0a0.6 0.6 0 1 0 -1.2 0M1171.9 1347.8a1.2 1.2 0 1 0 2.4 0a1.2 1.2 0 1 0 -2.4 0M1153.2 1333.9a0.6 0.6 0 1 0 1.2 0a0.6 0.6 0 1 0 -1.2 0M1154.9 1339.8a0.8 0.8 0 1 0 1.6 0a0.8 0.8 0 1 0 -1.6 0M1175.7 1334.5a0.8 0.8 0 1 0 1.6 0a0.8 0.8 0 1 0 -1.6 0M1181.3 1339.6a0.8 0.8 0 1 0 1.6 0a0.8 0.8 0 1 0 -1.6 0M1164.4 1346.8a0.6 0.6 0 1 0 1.2 0a0.6 0.6 0 1 0 -1.2 0M1176.4 1352.7a0.6 0.6 0 1 0 1.2 0a0.6 0.6 0 1 0 -1.2 0M1175.2 1351.3a1.2 1.2 0 1 0 2.4 0a1.2 1.2 0 1 0 -2.4 0M1167.5 1356.3a0.7 0.7 0 1 0 1.4 0a0.7 0.7 0 1 0 -1.4 0M1164.5 1331.6a0.6 0.6 0 1 0 1.2 0a0.6 0.6 0 1 0 -1.2 0M1161.6 1339.6a0.7 0.7 0 1 0 1.4 0a0.7 0.7 0 1 0 -1.4 0M1179.8 1334.4a1.0 1.0 0 1 0 2.0 0a1.0 1.0 0 1 0 -2.0 0M1164.1 1334.7a0.6 0.6 0 1 0 1.2 0a0.6 0.6 0 1 0 -1.2 0M1171.2 1335.5a1.2 1.2 0 1 0 2.4 0a1.2 1.2 0 1 0 -2.4 0M1163.8 1330.1a1.0 1.0 0 1 0 2.0 0a1.0 1.0 0 1 0 -2.0 0M1187.9 1358.3a0.6 0.6 0 1 0 1.2 0a0.6 0.6 0 1 0 -1.2 0M1182.7 1341.9a1.0 1.0 0 1 0 2.0 0a1.0 1.0 0 1 0 -2.0 0M1162.4 1334.4a0.6 0.6 0 1 0 1.2 0a0.6 0.6 0 1 0 -1.2 0M1164.0 1324.0a0.8 0.8 0 1 0 1.6 0a0.8 0.8 0 1 0 -1.6 0M1171.3 1350.0a1.2 1.2 0 1 0 2.4 0a1.2 1.2 0 1 0 -2.4 0M1149.1 1330.9a1.2 1.2 0 1 0 2.4 0a1.2 1.2 0 1 0 -2.4 0M1163.0 1346.1a0.8 0.8 0 1 0 1.6 0a0.8 0.8 0 1 0 -1.6 0M1161.5 1349.7a1.2 1.2 0 1 0 2.4 0a1.2 1.2 0 1 0 -2.4 0M1174.6 1356.0a1.2 1.2 0 1 0 2.4 0a1.2 1.2 0 1 0 -2.4 0M1168.7 1346.0a0.7 0.7 0 1 0 1.4 0a0.7 0.7 0 1 0 -1.4 0M1162.8 1328.6a0.7 0.7 0 1 0 1.4 0a0.7 0.7 0 1 0 -1.4 0M1159.7 1342.7a1.0 1.0 0 1 0 2.0 0a1.0 1.0 0 1 0 -2.0 0M1174.7 1354.6a1.0 1.0 0 1 0 2.0 0a1.0 1.0 0 1 0 -2.0 0M1165.2 1351.7a0.7 0.7 0 1 0 1.4 0a0.7 0.7 0 1 0 -1.4 0M1174.1 1342.0a0.7 0.7 0 1 0 1.4 0a0.7 0.7 0 1 0 -1.4 0M1157.6 1332.5a0.8 0.8 0 1 0 1.6 0a0.8 0.8 0 1 0 -1.6 0M1156.8 1330.9a1.2 1.2 0 1 0 2.4 0a1.2 1.2 0 1 0 -2.4 0M1182.7 1331.0a1.0 1.0 0 1 0 2.0 0a1.0 1.0 0 1 0 -2.0 0M1159.8 1347.0a0.7 0.7 0 1 0 1.4 0a0.7 0.7 0 1 0 -1.4 0M1157.5 1330.4a0.8 0.8 0 1 0 1.6 0a0.8 0.8 0 1 0 -1.6 0M1169.2 1351.8a0.6 0.6 0 1 0 1.2 0a0.6 0.6 0 1 0 -1.2 0M1174.0 1340.5a1.2 1.2 0 1 0 2.4 0a1.2 1.2 0 1 0 -2.4 0M1183.5 1353.2a1.2 1.2 0 1 0 2.4 0a1.2 1.2 0 1 0 -2.4 0M1171.4 1324.2a0.8 0.8 0 1 0 1.6 0a0.8 0.8 0 1 0 -1.6 0M1171.9 1341.2a1.0 1.0 0 1 0 2.0 0a1.0 1.0 0 1 0 -2.0 0M1154.8 1339.3a0.6 0.6 0 1 0 1.2 0a0.6 0.6 0 1 0 -1.2 0M1177.0 1342.7a0.7 0.7 0 1 0 1.4 0a0.7 0.7 0 1 0 -1.4 0M1160.3 1326.0a0.8 0.8 0 1 0 1.6 0a0.8 0.8 0 1 0 -1.6 0M1169.3 1347.7a0.8 0.8 0 1 0 1.6 0a0.8 0.8 0 1 0 -1.6 0M1160.6 1338.1a1.2 1.2 0 1 0 2.4 0a1.2 1.2 0 1 0 -2.4 0M1171.3 1328.4a1.2 1.2 0 1 0 2.4 0a1.2 1.2 0 1 0 -2.4 0M1158.0 1327.3a0.6 0.6 0 1 0 1.2 0a0.6 0.6 0 1 0 -1.2 0M1160.7 1330.8a0.7 0.7 0 1 0 1.4 0a0.7 0.7 0 1 0 -1.4 0M1162.7 1337.9a0.8 0.8 0 1 0 1.6 0a0.8 0.8 0 1 0 -1.6 0M1166.9 1342.4a1.0 1.0 0 1 0 2.0 0a1.0 1.0 0 1 0 -2.0 0M1169.8 1340.1a0.6 0.6 0 1 0 1.2 0a0.6 0.6 0 1 0 -1.2 0M1148.2 1317.2a0.6 0.6 0 1 0 1.2 0a0.6 0.6 0 1 0 -1.2 0M1169.0 1338.6a1.2 1.2 0 1 0 2.4 0a1.2 1.2 0 1 0 -2.4 0M1160.5 1336.7a0.7 0.7 0 1 0 1.4 0a0.7 0.7 0 1 0 -1.4 0M1164.1 1325.5a0.8 0.8 0 1 0 1.6 0a0.8 0.8 0 1 0 -1.6 0M1157.1 1331.8a1.2 1.2 0 1 0 2.4 0a1.2 1.2 0 1 0 -2.4 0M1218.4 1401.2a0.8 0.8 0 1 0 1.6 0a0.8 0.8 0 1 0 -1.6 0M1229.0 1407.9a0.6 0.6 0 1 0 1.2 0a0.6 0.6 0 1 0 -1.2 0M1228.0 1406.4a1.2 1.2 0 1 0 2.4 0a1.2 1.2 0 1 0 -2.4 0M1214.9 1403.6a0.7 0.7 0 1 0 1.4 0a0.7 0.7 0 1 0 -1.4 0M1227.4 1402.4a0.6 0.6 0 1 0 1.2 0a0.6 0.6 0 1 0 -1.2 0M1207.5 1399.8a1.2 1.2 0 1 0 2.4 0a1.2 1.2 0 1 0 -2.4 0M1215.7 1402.3a0.7 0.7 0 1 0 1.4 0a0.7 0.7 0 1 0 -1.4 0M1218.2 1410.4a0.7 0.7 0 1 0 1.4 0a0.7 0.7 0 1 0 -1.4 0M1220.9 1395.7a0.6 0.6 0 1 0 1.2 0a0.6 0.6 0 1 0 -1.2 0M1218.9 1407.6a0.6 0.6 0 1 0 1.2 0a0.6 0.6 0 1 0 -1.2 0M1207.7 1395.1a0.6 0.6 0 1 0 1.2 0a0.6 0.6 0 1 0 -1.2 0M1211.1 1400.9a1.2 1.2 0 1 0 2.4 0a1.2 1.2 0 1 0 -2.4 0M1226.2 1399.8a1.0 1.0 0 1 0 2.0 0a1.0 1.0 0 1 0 -2.0 0M1213.0 1398.5a0.8 0.8 0 1 0 1.6 0a0.8 0.8 0 1 0 -1.6 0M1220.0 1403.3a0.8 0.8 0 1 0 1.6 0a0.8 0.8 0 1 0 -1.6 0M1218.5 1404.3a1.0 1.0 0 1 0 2.0 0a1.0 1.0 0 1 0 -2.0 0M1222.5 1401.9a0.7 0.7 0 1 0 1.4 0a0.7 0.7 0 1 0 -1.4 0M1217.6 1394.0a0.7 0.7 0 1 0 1.4 0a0.7 0.7 0 1 0 -1.4 0M1212.6 1392.6a0.7 0.7 0 1 0 1.4 0a0.7 0.7 0 1 0 -1.4 0M1217.1 1399.3a0.8 0.8 0 1 0 1.6 0a0.8 0.8 0 1 0 -1.6 0M1217.3 1389.7a1.0 1.0 0 1 0 2.0 0a1.0 1.0 0 1 0 -2.0 0M1213.2 1395.3a0.6 0.6 0 1 0 1.2 0a0.6 0.6 0 1 0 -1.2 0M1224.6 1389.8a0.6 0.6 0 1 0 1.2 0a0.6 0.6 0 1 0 -1.2 0M1219.1 1393.9a0.6 0.6 0 1 0 1.2 0a0.6 0.6 0 1 0 -1.2 0M1213.0 1402.4a0.6 0.6 0 1 0 1.2 0a0.6 0.6 0 1 0 -1.2 0M1225.2 1402.1a0.7 0.7 0 1 0 1.4 0a0.7 0.7 0 1 0 -1.4 0M1203.2 1370.8a1.2 1.2 0 1 0 2.4 0a1.2 1.2 0 1 0 -2.4 0M1189.8 1375.6a0.6 0.6 0 1 0 1.2 0a0.6 0.6 0 1 0 -1.2 0M1187.2 1373.9a1.2 1.2 0 1 0 2.4 0a1.2 1.2 0 1 0 -2.4 0M1176.1 1355.2a1.0 1.0 0 1 0 2.0 0a1.0 1.0 0 1 0 -2.0 0M1186.9 1376.3a0.7 0.7 0 1 0 1.4 0a0.7 0.7 0 1 0 -1.4 0M1204.7 1390.4a0.8 0.8 0 1 0 1.6 0a0.8 0.8 0 1 0 -1.6 0M1214.3 1395.3a0.6 0.6 0 1 0 1.2 0a0.6 0.6 0 1 0 -1.2 0M1198.4 1388.3a0.6 0.6 0 1 0 1.2 0a0.6 0.6 0 1 0 -1.2 0M1174.4 1369.4a0.6 0.6 0 1 0 1.2 0a0.6 0.6 0 1 0 -1.2 0M1181.6 1373.9a0.8 0.8 0 1 0 1.6 0a0.8 0.8 0 1 0 -1.6 0M1205.3 1390.1a0.8 0.8 0 1 0 1.6 0a0.8 0.8 0 1 0 -1.6 0M1176.4 1367.4a1.0 1.0 0 1 0 2.0 0a1.0 1.0 0 1 0 -2.0 0M1181.8 1373.4a0.8 0.8 0 1 0 1.6 0a0.8 0.8 0 1 0 -1.6 0M1186.0 1377.8a1.0 1.0 0 1 0 2.0 0a1.0 1.0 0 1 0 -2.0 0M1195.5 1382.7a1.0 1.0 0 1 0 2.0 0a1.0 1.0 0 1 0 -2.0 0M1214.4 1398.5a0.8 0.8 0 1 0 1.6 0a0.8 0.8 0 1 0 -1.6 0M1175.0 1371.8a1.0 1.0 0 1 0 2.0 0a1.0 1.0 0 1 0 -2.0 0M1176.6 1366.1a0.6 0.6 0 1 0 1.2 0a0.6 0.6 0 1 0 -1.2 0M1187.9 1376.3a1.0 1.0 0 1 0 2.0 0a1.0 1.0 0 1 0 -2.0 0M1193.8 1383.0a0.6 0.6 0 1 0 1.2 0a0.6 0.6 0 1 0 -1.2 0M1176.7 1371.2a1.0 1.0 0 1 0 2.0 0a1.0 1.0 0 1 0 -2.0 0M1191.8 1380.9a1.0 1.0 0 1 0 2.0 0a1.0 1.0 0 1 0 -2.0 0M1213.1 1396.6a1.0 1.0 0 1 0 2.0 0a1.0 1.0 0 1 0 -2.0 0M1172.9 1366.4a1.0 1.0 0 1 0 2.0 0a1.0 1.0 0 1 0 -2.0 0M1220.2 1410.5a0.6 0.6 0 1 0 1.2 0a0.6 0.6 0 1 0 -1.2 0M1250.1 1442.5a0.6 0.6 0 1 0 1.2 0a0.6 0.6 0 1 0 -1.2 0M1251.1 1448.5a1.0 1.0 0 1 0 2.0 0a1.0 1.0 0 1 0 -2.0 0M1242.5 1442.1a1.0 1.0 0 1 0 2.0 0a1.0 1.0 0 1 0 -2.0 0M1230.8 1428.6a0.6 0.6 0 1 0 1.2 0a0.6 0.6 0 1 0 -1.2 0M1245.3 1441.9a1.0 1.0 0 1 0 2.0 0a1.0 1.0 0 1 0 -2.0 0M1242.7 1436.9a0.6 0.6 0 1 0 1.2 0a0.6 0.6 0 1 0 -1.2 0M1259.5 1460.7a1.0 1.0 0 1 0 2.0 0a1.0 1.0 0 1 0 -2.0 0M1251.8 1446.9a0.6 0.6 0 1 0 1.2 0a0.6 0.6 0 1 0 -1.2 0M1239.4 1431.6a0.6 0.6 0 1 0 1.2 0a0.6 0.6 0 1 0 -1.2 0M1234.6 1426.4a1.0 1.0 0 1 0 2.0 0a1.0 1.0 0 1 0 -2.0 0M1254.1 1454.6a0.8 0.8 0 1 0 1.6 0a0.8 0.8 0 1 0 -1.6 0M1262.1 1457.6a0.6 0.6 0 1 0 1.2 0a0.6 0.6 0 1 0 -1.2 0M1218.2 1412.4a1.0 1.0 0 1 0 2.0 0a1.0 1.0 0 1 0 -2.0 0M1219.9 1412.0a1.0 1.0 0 1 0 2.0 0a1.0 1.0 0 1 0 -2.0 0M1247.7 1447.4a0.6 0.6 0 1 0 1.2 0a0.6 0.6 0 1 0 -1.2 0M1233.6 1431.3a1.0 1.0 0 1 0 2.0 0a1.0 1.0 0 1 0 -2.0 0M1228.9 1419.6a0.8 0.8 0 1 0 1.6 0a0.8 0.8 0 1 0 -1.6 0M1235.4 1431.2a1.0 1.0 0 1 0 2.0 0a1.0 1.0 0 1 0 -2.0 0M1093.1 1248.9a1 1 0 1 0 2 0a1 1 0 1 0 -2 0" fill="#E000E0" fill-opacity="0.6"/>
<path d="M1146.5 1275.4a0.6 0.6 0 1 0 1.2 0a0.6 0.6 0 1 0 -1.2 0M1145.9 1279.3a0.7 0.7 0 1 0 1.4 0a0.7 0.7 0 1 0 -1.4 0M1144.9 1285.0a1.2 1.2 0 1 0 2.4 0a1.2 1.2 0 1 0 -2.4 0M1148.8 1278.0a0.6 0.6 0 1 0 1.2 0a0.6 0.6 0 1 0 -1.2 0M1143.1 1284.9a0.6 0.6 0 1 0 1.2 0a0.6 0.6 0 1 0 -1.2 0M1142.5 1270.7a1.0 1.0 0 1 0 2.0 0a1.0 1.0 0 1 0 -2.0 0M1146.9 1286.4a0.8 0.8 0 1 0 1.6 0a0.8 0.8 0 1 0 -1.6 0M1148.5 1284.2a1.0 1.0 0 1 0 2.0 0a1.0 1.0 0 1 0 -2.0 0M1144.1 1284.9a0.7 0.7 0 1 0 1.4 0a0.7 0.7 0 1 0 -1.4 0M1148.9 1286.2a0.8 0.8 0 1 0 1.6 0a0.8 0.8 0 1 0 -1.6 0M1147.6 1271.6a0.6 0.6 0 1 0 1.2 0a0.6 0.6 0 1 0 -1.2 0M1150.6 1268.5a0.7 0.7 0 1 0 1.4 0a0.7 0.7 0 1 0 -1.4 0M1147.3 1276.7a1.2 1.2 0 1 0 2.4 0a1.2 1.2 0 1 0 -2.4 0M1152.1 1271.4a0.6 0.6 0 1 0 1.2 0a0.6 0.6 0 1 0 -1.2 0M1147.4 1293.3a0.7 0.7 0 1 0 1.4 0a0.7 0.7 0 1 0 -1.4 0M1142.9 1276.9a0.6 0.6 0 1 0 1.2 0a0.6 0.6 0 1 0 -1.2 0M1146.4 1278.4a1.2 1.2 0 1 0 2.4 0a1.2 1.2 0 1 0 -2.4 0M1138.6 1281.9a0.8 0.8 0 1 0 1.6 0a0.8 0.8 0 1 0 -1.6 0M1144.7 1285.5a1.2 1.2 0 1 0 2.4 0a1.2 1.2 0 1 0 -2.4 0M1143.4 1278.1a0.6 0.6 0 1 0 1.2 0a0.6 0.6 0 1 0 -1.2 0M1157.8 1275.6a0.7 0.7 0 1 0 1.4 0a0.7 0.7 0 1 0 -1.4 0M1154.9 1281.6a1.0 1.0 0 1 0 2.0 0a1.0 1.0 0 1 0 -2.0 0M1151.4 1291.7a1.0 1.0 0 1 0 2.0 0a1.0 1.0 0 1 0 -2.0 0M1155.2 1275.8a0.7 0.7 0 1 0 1.4 0a0.7 0.7 0 1 0 -1.4 0M1152.8 1293.2a0.8 0.8 0 1 0 1.6 0a0.8 0.8 0 1 0 -1.6 0M1151.8 1267.6a0.8 0.8 0 1 0 1.6 0a0.8 0.8 0 1 0 -1.6 0M1145.7 1275.1a0.6 0.6 0 1 0 1.2 0a0.6 0.6 0 1 0 -1.2 0M1152.3 1280.8a0.6 0.6 0 1 0 1.2 0a0.6 0.6 0 1 0 -1.2 0M1147.3 1288.2a0.8 0.8 0 1 0 1.6 0a0.8 0.8 0 1 0 -1.6 0M1151.8 1285.2a0.6 0.6 0 1 0 1.2 0a0.6 0.6 0 1 0 -1.2 0M1146.5 1279.9a0.8 0.8 0 1 0 1.6 0a0.8 0.8 0 1 0 -1.6 0M1162.3 1266.0a0.7 0.7 0 1 0 1.4 0a0.7 0.7 0 1 0 -1.4 0M1155.0 1289.7a0.7 0.7 0 1 0 1.4 0a0.7 0.7 0 1 0 -1.4 0M1152.1 1274.3a1.0 1.0 0 1 0 2.0 0a1.0 1.0 0 1 0 -2.0 0M1148.5 1277.5a0.7 0.7 0 1 0 1.4 0a0.7 0.7 0 1 0 -1.4 0M1151.7 1282.9a0.6 0.6 0 1 0 1.2 0a0.6 0.6 0 1 0 -1.2 0M1149.4 1291.5a1.0 1.0 0 1 0 2.0 0a1.0 1.0 0 1 0 -2.0 0M1140.3 1332.2a0.6 0.6 0 1 0 1.2 0a0.6 0.6 0 1 0 -1.2 0M1148.9 1326.0a0.6 0.6 0 1 0 1.2 0a0.6 0.6 0 1 0 -1.2 0M1147.1 1345.6a0.8 0.8 0 1 0 1.6 0a0.8 0.8 0 1 0 -1.6 0M1139.5 1322.1a0.7 0.7 0 1 0 1.4 0a0.7 0.7 0 1 0 -1.4 0M1140.3 1338.5a1.0 1.0 0 1 0 2.0 0a1.0 1.0 0 1 0 -2.0 0M1141.5 1335.8a0.7 0.7 0 1 0 1.4 0a0.7 0.7 0 1 0 -1.4 0M1136.4 1325.0a1.2 1.2 0 1 0 2.4 0a1.2 1.2 0 1 0 -2.4 0M1153.6 1327.3a0.7 0.7 0 1 0 1.4 0a0.7 0.7 0 1 0 -1.4 0M1137.0 1316.8a1.0 1.0 0 1 0 2.0 0a1.0 1.0 0 1 0 -2.0 0M1138.8 1322.9a0.8 0.8 0 1 0 1.6 0a0.8 0.8 0 1 0 -1.6 0M1138.6 1329.3a1.2 1.2 0 1 0 2.4 0a1.2 1.2 0 1 0 -2.4 0M1140.7 1321.8a0.6 0.6 0 1 0 1.2 0a0.6 0.6 0 1 0 -1.2 0M1138.3 1331.6a0.6 0.6 0 1 0 1.2 0a0.6 0.6 0 1 0 -1.2 0M1145.4 1327.8a0.6 0.6 0 1 0 1.2 0a0.6 0.6 0 1 0 -1.2 0M1133.7 1322.1a1.2 1.2 0 1 0 2.4 0a1.2 1.2 0 1 0 -2.4 0M1132.3 1330.1a1.0 1.0 0 1 0 2.0 0a1.0 1.0 0 1 0 -2.0 0M1154.5 1322.8a0.6 0.6 0 1 0 1.2 0a0.6 0.6 0 1 0 -1.2 0M1144.1 1323.4a0.6 0.6 0 1 0 1.2 0a0.6 0.6 0 1 0 -1.2 0M1142.0 1328.9a1.0 1.0 0 1 0 2.0 0a1.0 1.0 0 1 0 -2.0 0M1134.7 1333.3a0.8 0.8 0 1 0 1.6 0a0.8 0.8 0 1 0 -1.6 0M1139.6 1323.3a0.7 0.7 0 1 0 1.4 0a0.7 0.7 0 1 0 -1.4 0M1139.4 1320.7a1.0 1.0 0 1 0 2.0 0a1.0 1.0 0 1 0 -2.0 0M1140.0 1340.0a0.6 0.6 0 1 0 1.2 0a0.6 0.6 0 1 0 -1.2 0M1143.5 1330.2a1.2 1.2 0 1 0 2.4 0a1.2 1.2 0 1 0 -2.4 0M1134.1 1324.8a1.0 1.0 0 1 0 2.0 0a1.0 1.0 0 1 0 -2.0 0M1131.2 1319.4a1.0 1.0 0 1 0 2.0 0a1.0 1.0 0 1 0 -2.0 0M1138.5 1330.4a1.0 1.0 0 1 0 2.0 0a1.0 1.0 0 1 0 -2.0 0M1138.7 1328.6a0.7 0.7 0 1 0 1.4 0a0.7 0.7 0 1 0 -1.4 0M1145.0 1328.6a0.6 0.6 0 1 0 1.2 0a0.6 0.6 0 1 0 -1.2 0M1133.5 1324.2a0.7 0.7 0 1 0 1.4 0a0.7 0.7 0 1 0 -1.4 0M1146.1 1328.3a0.7 0.7 0 1 0 1.4 0a0.7 0.7 0 1 0 -1.4 0M1132.5 1329.7a0.8 0.8 0 1 0 1.6 0a0.8 0.8 0 1 0 -1.6 0M1136.1 1334.4a1.0 1.0 0 1 0 2.0 0a1.0 1.0 0 1 0 -2.0 0M1146.0 1337.0a0.6 0.6 0 1 0 1.2 0a0.6 0.6 0 1 0 -1.2 0M1139.5 1317.9a0.7 0.7 0 1 0 1.4 0a0.7 0.7 0 1 0 -1.4 0M1137.4 1336.3a0.8 0.8 0 1 0 1.6 0a0.8 0.8 0 1 0 -1.6 0M1133.2 1326.2a1.0 1.0 0 1 0 2.0 0a1.0 1.0 0 1 0 -2.0 0M1140.5 1333.5a0.6 0.6 0 1 0 1.2 0a0.6 0.6 0 1 0 -1.2 0M1145.6 1336.7a0.7 0.7 0 1 0 1.4 0a0.7 0.7 0 1 0 -1.4 0M1170.6 1347.3a0.8 0.8 0 1 0 1.6 0a0.8 0.8 0 1 0 -1.6 0M1173.9 1340.0a0.7 0.7 0 1 0 1.4 0a0.7 0.7 0 1 0 -1.4 0M1177.2 1341.4a0.7 0.7 0 1 0 1.4 0a0.7 0.7 0 1 0 -1.4 0M1178.9 1354.5a1.2 1.2 0 1 0 2.4 0a1.2 1.2 0 1 0 -2.4 0M1166.3 1345.2a0.8 0.8 0 1 0 1.6 0a0.8 0.8 0 1 0 -1.6 0M1180.0 1339.8a0.8 0.8 0 1 0 1.6 0a0.8 0.8 0 1 0 -1.6 0M1179.2 1336.2a0.8 0.8 0 1 0 1.6 0a0.8 0.8 0 1 0 -1.6 0M1166.9 1347.5a0.6 0.6 0 1 0 1.2 0a0.6 0.6 0 1 0 -1.2 0M1172.0 1342.2a0.6 0.6 0 1 0 1.2 0a0.6 0.6 0 1 0 -1.2 0M1154.5 1329.9a0.7 0.7 0 1 0 1.4 0a0.7 0.7 0 1 0 -1.4 0M1169.6 1349.0a1.0 1.0 0 1 0 2.0 0a1.0 1.0 0 1 0 -2.0 0M1172.9 1348.8a0.8 0.8 0 1 0 1.6 0a0.8 0.8 0 1 0 -1.6 0M1165.3 1342.2a1.0 1.0 0 1 0 2.0 0a1.0 1.0 0 1 0 -2.0 0M1164.3 1332.3a0.8 0.8 0 1 0 1.6 0a0.8 0.8 0 1 0 -1.6 0M1160.9 1344.2a1.2 1.2 0 1 0 2.4 0a1.2 1.2 0 1 0 -2.4 0M1168.9 1341.7a0.7 0.7 0 1 0 1.4 0a0.7 0.7 0 1 0 -1.4 0M1182.0 1339.6a1.0 1.0 0 1 0 2.0 0a1.0 1.0 0 1 0 -2.0 0M1164.9 1331.9a0.8 0.8 0 1 0 1.6 0a0.8 0.8 0 1 0 -1.6 0M1161.7 1337.6a1.2 1.2 0 1 0 2.4 0a1.2 1.2 0 1 0 -2.4 0M1171.1 1334.1a0.7 0.7 0 1 0 1.4 0a0.7 0.7 0 1 0 -1.4 0M1172.3 1339.7a0.8 0.8 0 1 0 1.6 0a0.8 0.8 0 1 0 -1.6 0M1169.1 1335.3a1.2 1.2 0 1 0 2.4 0a1.2 1.2 0 1 0 -2.4 0M1170.5 1335.5a0.7 0.7 0 1 0 1.4 0a0.7 0.7 0 1 0 -1.4 0M1174.2 1345.5a0.8 0.8 0 1 0 1.6 0a0.8 0.8 0 1 0 -1.6 0M1175.8 1319.3a0.8 0.8 0 1 0 1.6 0a0.8 0.8 0 1 0 -1.6 0M1178.9 1360.2a1.2 1.2 0 1 0 2.4 0a1.2 1.2 0 1 0 -2.4 0M1167.3 1323.6a0.6 0.6 0 1 0 1.2 0a0.6 0.6 0 1 0 -1.2 0M1170.2 1340.3a0.6 0.6 0 1 0 1.2 0a0.6 0.6 0 1 0 -1.2 0M1159.8 1334.6a0.8 0.8 0 1 0 1.6 0a0.8 0.8 0 1 0 -1.6 0M1175.0 1338.1a1.0 1.0 0 1 0 2.0 0a1.0 1.0 0 1 0 -2.0 0M1176.9 1342.9a0.6 0.6 0 1 0 1.2 0a0.6 0.6 0 1 0 -1.2 0M1180.0 1357.2a0.6 0.6 0 1 0 1.2 0a0.6 0.6 0 1 0 -1.2 0M1156.9 1310.9a0.6 0.6 0 1 0 1.2 0a0.6 0.6 0 1 0 -1.2 0M1171.7 1344.7a0.6 0.6 0 1 0 1.2 0a0.6 0.6 0 1 0 -1.2 0M1175.7 1334.7a0.6 0.6 0 1 0 1.2 0a0.6 0.6 0 1 0 -1.2 0M1163.4 1328.6a0.6 0.6 0 1 0 1.2 0a0.6 0.6 0 1 0 -1.2 0M1170.5 1349.8a1.2 1.2 0 1 0 2.4 0a1.2 1.2 0 1 0 -2.4 0M1177.9 1345.9a1.2 1.2 0 1 0 2.4 0a1.2 1.2 0 1 0 -2.4 0M1169.9 1353.2a0.7 0.7 0 1 0 1.4 0a0.7 0.7 0 1 0 -1.4 0M1173.7 1344.0a0.8 0.8 0 1 0 1.6 0a0.8 0.8 0 1 0 -1.6 0M1170.2 1332.7a1.0 1.0 0 1 0 2.0 0a1.0 1.0 0 1 0 -2.0 0M1170.4 1330.7a1.2 1.2 0 1 0 2.4 0a1.2 1.2 0 1 0 -2.4 0M1158.5 1327.7a1.0 1.0 0 1 0 2.0 0a1.0 1.0 0 1 0 -2.0 0M1159.9 1314.4a1.2 1.2 0 1 0 2.4 0a1.2 1.2 0 1 0 -2.4 0M1159.4 1341.7a0.8 0.8 0 1 0 1.6 0a0.8 0.8 0 1 0 -1.6 0M1181.3 1348.2a0.7 0.7 0 1 0 1.4 0a0.7 0.7 0 1 0 -1.4 0M1163.2 1338.0a0.7 0.7 0 1 0 1.4 0a0.7 0.7 0 1 0 -1.4 0M1154.5 1328.1a1.0 1.0 0 1 0 2.0 0a1.0 1.0 0 1 0 -2.0 0M1158.7 1345.9a0.8 0.8 0 1 0 1.6 0a0.8 0.8 0 1 0 -1.6 0M1161.8 1333.0a1.0 1.0 0 1 0 2.0 0a1.0 1.0 0 1 0 -2.0 0M1172.4 1325.2a0.7 0.7 0 1 0 1.4 0a0.7 0.7 0 1 0 -1.4 0M1173.4 1343.3a1.0 1.0 0 1 0 2.0 0a1.0 1.0 0 1 0 -2.0 0M1177.1 1345.8a0.6 0.6 0 1 0 1.2 0a0.6 0.6 0 1 0 -1.2 0M1171.9 1326.7a0.7 0.7 0 1 0 1.4 0a0.7 0.7 0 1 0 -1.4 0M1170.7 1354.6a1.0 1.0 0 1 0 2.0 0a1.0 1.0 0 1 0 -2.0 0M1164.0 1334.1a0.8 0.8 0 1 0 1.6 0a0.8 0.8 0 1 0 -1.6 0M1161.4 1332.6a1.2 1.2 0 1 0 2.4 0a1.2 1.2 0 1 0 -2.4 0M1170.4 1332.7a0.8 0.8 0 1 0 1.6 0a0.8 0.8 0 1 0 -1.6 0M1155.0 1337.5a0.8 0.8 0 1 0 1.6 0a0.8 0.8 0 1 0 -1.6 0M1170.6 1337.0a0.6 0.6 0 1 0 1.2 0a0.6 0.6 0 1 0 -1.2 0M1169.3 1338.8a1.2 1.2 0 1 0 2.4 0a1.2 1.2 0 1 0 -2.4 0M1169.1 1336.7a1.2 1.2 0 1 0 2.4 0a1.2 1.2 0 1 0 -2.4 0M1165.6 1321.4a1.0 1.0 0 1 0 2.0 0a1.0 1.0 0 1 0 -2.0 0M1144.8 1328.6a0.7 0.7 0 1 0 1.4 0a0.7 0.7 0 1 0 -1.4 0M1178.6 1342.7a1.0 1.0 0 1 0 2.0 0a1.0 1.0 0 1 0 -2.0 0M1166.9 1325.2a0.8 0.8 0 1 0 1.6 0a0.8 0.8 0 1 0 -1.6 0M1165.8 1329.1a0.7 0.7 0 1 0 1.4 0a0.7 0.7 0 1 0 -1.4 0M1147.7 1327.9a0.7 0.7 0 1 0 1.4 0a0.7 0.7 0 1 0 -1.4 0M1170.7 1349.8a0.7 0.7 0 1 0 1.4 0a0.7 0.7 0 1 0 -1.4 0M1224.0 1395.5a1.2 1.2 0 1 0 2.4 0a1.2 1.2 0 1 0 -2.4 0M1220.2 1396.6a0.6 0.6 0 1 0 1.2 0a0.6 0.6 0 1 0 -1.2 0M1217.4 1400.8a1.0 1.0 0 1 0 2.0 0a1.0 1.0 0 1 0 -2.0 0M1225.1 1406.7a0.8 0.8 0 1 0 1.6 0a0.8 0.8 0 1 0 -1.6 0M1217.0 1402.3a0.8 0.8 0 1 0 1.6 0a0.8 0.8 0 1 0 -1.6 0M1225.9 1409.7a1.2 1.2 0 1 0 2.4 0a1.2 1.2 0 1 0 -2.4 0M1214.6 1400.8a0.8 0.8 0 1 0 1.6 0a0.8 0.8 0 1 0 -1.6 0M1218.3 1402.1a0.6 0.6 0 1 0 1.2 0a0.6 0.6 0 1 0 -1.2 0M1226.4 1405.5a0.7 0.7 0 1 0 1.4 0a0.7 0.7 0 1 0 -1.4 0M1220.8 1408.4a0.6 0.6 0 1 0 1.2 0a0.6 0.6 0 1 0 -1.2 0M1217.8 1406.2a0.8 0.8 0 1 0 1.6 0a0.8 0.8 0 1 0 -1.6 0M1219.3 1402.5a1.0 1.0 0 1 0 2.0 0a1.0 1.0 0 1 0 -2.0 0M1227.9 1406.4a0.8 0.8 0 1 0 1.6 0a0.8 0.8 0 1 0 -1.6 0M1228.4 1400.3a0.7 0.7 0 1 0 1.4 0a0.7 0.7 0 1 0 -1.4 0M1215.5 1396.9a0.6 0.6 0 1 0 1.2 0a0.6 0.6 0 1 0 -1.2 0M1222.9 1400.0a0.8 0.8 0 1 0 1.6 0a0.8 0.8 0 1 0 -1.6 0M1221.4 1402.5a0.7 0.7 0 1 0 1.4 0a0.7 0.7 0 1 0 -1.4 0M1210.7 1398.3a0.7 0.7 0 1 0 1.4 0a0.7 0.7 0 1 0 -1.4 0M1219.4 1402.5a1.2 1.2 0 1 0 2.4 0a1.2 1.2 0 1 0 -2.4 0M1226.1 1403.3a1.0 1.0 0 1 0 2.0 0a1.0 1.0 0 1 0 -2.0 0M1178.7 1369.0a0.8 0.8 0 1 0 1.6 0a0.8 0.8 0 1 0 -1.6 0M1192.8 1380.5a0.6 0.6 0 1 0 1.2 0a0.6 0.6 0 1 0 -1.2 0M1190.7 1378.3a0.6 0.6 0 1 0 1.2 0a0.6 0.6 0 1 0 -1.2 0M1176.8 1365.7a0.6 0.6 0 1 0 1.2 0a0.6 0.6 0 1 0 -1.2 0M1217.2 1400.3a0.6 0.6 0 1 0 1.2 0a0.6 0.6 0 1 0 -1.2 0M1209.7 1394.4a0.6 0.6 0 1 0 1.2 0a0.6 0.6 0 1 0 -1.2 0M1185.8 1376.9a0.6 0.6 0 1 0 1.2 0a0.6 0.6 0 1 0 -1.2 0M1223.7 1416.9a0.6 0.6 0 1 0 1.2 0a0.6 0.6 0 1 0 -1.2 0M1240.4 1437.3a0.6 0.6 0 1 0 1.2 0a0.6 0.6 0 1 0 -1.2 0M1221.1 1416.9a1.0 1.0 0 1 0 2.0 0a1.0 1.0 0 1 0 -2.0 0M1255.6 1452.6a0.6 0.6 0 1 0 1.2 0a0.6 0.6 0 1 0 -1.2 0M1260.1 1457.9a1.0 1.0 0 1 0 2.0 0a1.0 1.0 0 1 0 -2.0 0M1232.3 1423.9a0.8 0.8 0 1 0 1.6 0a0.8 0.8 0 1 0 -1.6 0M1277.5 1373.9a1.1 1.1 0 1 0 2.2 0a1.1 1.1 0 1 0 -2.2 0M1259.6 1460.9a1.5 1.5 0 1 0 3.0 0a1.5 1.5 0 1 0 -3.0 0" fill="#E000E0" fill-opacity="0.8"/>
<path d="M1150.1 1334.7a1.0 1.0 0 1 0 2.0 0a1.0 1.0 0 1 0 -2.0 0M1137.4 1321.3a1.0 1.0 0 1 0 2.0 0a1.0 1.0 0 1 0 -2.0 0M1139.1 1318.2a0.7 0.7 0 1 0 1.4 0a0.7 0.7 0 1 0 -1.4 0M1142.8 1331.1a0.8 0.8 0 1 0 1.6 0a0.8 0.8 0 1 0 -1.6 0M1149.1 1330.5a0.8 0.8 0 1 0 1.6 0a0.8 0.8 0 1 0 -1.6 0M1140.5 1330.6a0.8 0.8 0 1 0 1.6 0a0.8 0.8 0 1 0 -1.6 0M1152.2 1341.8a0.6 0.6 0 1 0 1.2 0a0.6 0.6 0 1 0 -1.2 0M1144.0 1326.4a0.6 0.6 0 1 0 1.2 0a0.6 0.6 0 1 0 -1.2 0M1136.8 1346.9a0.7 0.7 0 1 0 1.4 0a0.7 0.7 0 1 0 -1.4 0M1138.6 1331.6a1.0 1.0 0 1 0 2.0 0a1.0 1.0 0 1 0 -2.0 0M1138.2 1328.7a1.2 1.2 0 1 0 2.4 0a1.2 1.2 0 1 0 -2.4 0M1135.4 1331.0a0.8 0.8 0 1 0 1.6 0a0.8 0.8 0 1 0 -1.6 0M1129.5 1336.3a1.0 1.0 0 1 0 2.0 0a1.0 1.0 0 1 0 -2.0 0M1137.2 1331.1a1.2 1.2 0 1 0 2.4 0a1.2 1.2 0 1 0 -2.4 0M1151.3 1346.2a0.6 0.6 0 1 0 1.2 0a0.6 0.6 0 1 0 -1.2 0M1149.1 1326.0a0.8 0.8 0 1 0 1.6 0a0.8 0.8 0 1 0 -1.6 0M1141.9 1332.6a1.2 1.2 0 1 0 2.4 0a1.2 1.2 0 1 0 -2.4 0M1117.5 1325.4a0.8 0.8 0 1 0 1.6 0a0.8 0.8 0 1 0 -1.6 0M1139.6 1332.3a1.0 1.0 0 1 0 2.0 0a1.0 1.0 0 1 0 -2.0 0M1139.1 1325.0a0.6 0.6 0 1 0 1.2 0a0.6 0.6 0 1 0 -1.2 0M1138.6 1326.5a1.2 1.2 0 1 0 2.4 0a1.2 1.2 0 1 0 -2.4 0M1140.9 1338.8a1.0 1.0 0 1 0 2.0 0a1.0 1.0 0 1 0 -2.0 0M1136.1 1329.8a1.0 1.0 0 1 0 2.0 0a1.0 1.0 0 1 0 -2.0 0M1167.8 1324.5a0.6 0.6 0 1 0 1.2 0a0.6 0.6 0 1 0 -1.2 0M1177.7 1356.3a1.0 1.0 0 1 0 2.0 0a1.0 1.0 0 1 0 -2.0 0M1176.9 1343.2a0.7 0.7 0 1 0 1.4 0a0.7 0.7 0 1 0 -1.4 0M1156.8 1317.6a0.6 0.6 0 1 0 1.2 0a0.6 0.6 0 1 0 -1.2 0M1158.3 1339.7a1.0 1.0 0 1 0 2.0 0a1.0 1.0 0 1 0 -2.0 0M1168.6 1344.7a0.7 0.7 0 1 0 1.4 0a0.7 0.7 0 1 0 -1.4 0M1157.8 1333.1a0.6 0.6 0 1 0 1.2 0a0.6 0.6 0 1 0 -1.2 0M1167.9 1325.6a1.2 1.2 0 1 0 2.4 0a1.2 1.2 0 1 0 -2.4 0M1156.3 1336.8a0.6 0.6 0 1 0 1.2 0a0.6 0.6 0 1 0 -1.2 0M1167.1 1340.3a1.2 1.2 0 1 0 2.4 0a1.2 1.2 0 1 0 -2.4 0M1162.7 1344.2a1.2 1.2 0 1 0 2.4 0a1.2 1.2 0 1 0 -2.4 0M1185.1 1351.1a0.8 0.8 0 1 0 1.6 0a0.8 0.8 0 1 0 -1.6 0M1165.8 1339.6a1.2 1.2 0 1 0 2.4 0a1.2 1.2 0 1 0 -2.4 0M1155.9 1327.4a0.6 0.6 0 1 0 1.2 0a0.6 0.6 0 1 0 -1.2 0M1174.6 1334.4a0.7 0.7 0 1 0 1.4 0a0.7 0.7 0 1 0 -1.4 0M1166.8 1333.2a1.2 1.2 0 1 0 2.4 0a1.2 1.2 0 1 0 -2.4 0M1162.3 1334.3a0.8 0.8 0 1 0 1.6 0a0.8 0.8 0 1 0 -1.6 0M1180.7 1351.8a0.6 0.6 0 1 0 1.2 0a0.6 0.6 0 1 0 -1.2 0M1173.3 1340.7a1.2 1.2 0 1 0 2.4 0a1.2 1.2 0 1 0 -2.4 0M1177.9 1329.2a0.8 0.8 0 1 0 1.6 0a0.8 0.8 0 1 0 -1.6 0M1168.5 1340.4a1.2 1.2 0 1 0 2.4 0a1.2 1.2 0 1 0 -2.4 0M1158.1 1334.5a1.2 1.2 0 1 0 2.4 0a1.2 1.2 0 1 0 -2.4 0M1157.5 1330.1a1.0 1.0 0 1 0 2.0 0a1.0 1.0 0 1 0 -2.0 0M1177.3 1333.9a1.0 1.0 0 1 0 2.0 0a1.0 1.0 0 1 0 -2.0 0M1164.6 1335.7a0.8 0.8 0 1 0 1.6 0a0.8 0.8 0 1 0 -1.6 0M1173.2 1351.9a1.0 1.0 0 1 0 2.0 0a1.0 1.0 0 1 0 -2.0 0M1171.5 1346.3a0.7 0.7 0 1 0 1.4 0a0.7 0.7 0 1 0 -1.4 0M1161.1 1326.7a0.8 0.8 0 1 0 1.6 0a0.8 0.8 0 1 0 -1.6 0M1165.7 1350.1a1.2 1.2 0 1 0 2.4 0a1.2 1.2 0 1 0 -2.4 0M1179.1 1347.3a0.6 0.6 0 1 0 1.2 0a0.6 0.6 0 1 0 -1.2 0M1166.0 1335.3a1.2 1.2 0 1 0 2.4 0a1.2 1.2 0 1 0 -2.4 0M1183.5 1360.3a1.2 1.2 0 1 0 2.4 0a1.2 1.2 0 1 0 -2.4 0M1171.5 1343.2a0.6 0.6 0 1 0 1.2 0a0.6 0.6 0 1 0 -1.2 0M1172.7 1326.2a0.6 0.6 0 1 0 1.2 0a0.6 0.6 0 1 0 -1.2 0M1167.7 1340.3a0.8 0.8 0 1 0 1.6 0a0.8 0.8 0 1 0 -1.6 0M1180.1 1339.5a0.8 0.8 0 1 0 1.6 0a0.8 0.8 0 1 0 -1.6 0M1179.9 1344.1a0.7 0.7 0 1 0 1.4 0a0.7 0.7 0 1 0 -1.4 0M1171.6 1334.0a0.7 0.7 0 1 0 1.4 0a0.7 0.7 0 1 0 -1.4 0M1168.1 1348.6a1.0 1.0 0 1 0 2.0 0a1.0 1.0 0 1 0 -2.0 0M1166.2 1357.3a0.7 0.7 0 1 0 1.4 0a0.7 0.7 0 1 0 -1.4 0M1168.7 1347.5a0.7 0.7 0 1 0 1.4 0a0.7 0.7 0 1 0 -1.4 0M1182.6 1321.3a0.7 0.7 0 1 0 1.4 0a0.7 0.7 0 1 0 -1.4 0M1175.8 1342.6a0.7 0.7 0 1 0 1.4 0a0.7 0.7 0 1 0 -1.4 0M1180.3 1335.1a1.0 1.0 0 1 0 2.0 0a1.0 1.0 0 1 0 -2.0 0M1175.7 1355.4a0.6 0.6 0 1 0 1.2 0a0.6 0.6 0 1 0 -1.2 0M1153.9 1326.7a1.2 1.2 0 1 0 2.4 0a1.2 1.2 0 1 0 -2.4 0M1164.5 1346.7a1.2 1.2 0 1 0 2.4 0a1.2 1.2 0 1 0 -2.4 0M1159.0 1341.2a0.7 0.7 0 1 0 1.4 0a0.7 0.7 0 1 0 -1.4 0M1168.3 1340.4a1.0 1.0 0 1 0 2.0 0a1.0 1.0 0 1 0 -2.0 0M1167.9 1328.1a0.7 0.7 0 1 0 1.4 0a0.7 0.7 0 1 0 -1.4 0M1162.3 1357.5a0.7 0.7 0 1 0 1.4 0a0.7 0.7 0 1 0 -1.4 0M1176.5 1348.5a0.6 0.6 0 1 0 1.2 0a0.6 0.6 0 1 0 -1.2 0M1167.8 1340.2a1.0 1.0 0 1 0 2.0 0a1.0 1.0 0 1 0 -2.0 0M1177.0 1354.4a1.2 1.2 0 1 0 2.4 0a1.2 1.2 0 1 0 -2.4 0M1172.0 1351.9a0.7 0.7 0 1 0 1.4 0a0.7 0.7 0 1 0 -1.4 0M1167.4 1345.7a1.0 1.0 0 1 0 2.0 0a1.0 1.0 0 1 0 -2.0 0M1170.9 1349.1a0.6 0.6 0 1 0 1.2 0a0.6 0.6 0 1 0 -1.2 0M1170.7 1327.4a0.6 0.6 0 1 0 1.2 0a0.6 0.6 0 1 0 -1.2 0M1160.2 1328.6a1.0 1.0 0 1 0 2.0 0a1.0 1.0 0 1 0 -2.0 0M1167.4 1329.3a1.0 1.0 0 1 0 2.0 0a1.0 1.0 0 1 0 -2.0 0M1177.4 1337.6a0.8 0.8 0 1 0 1.6 0a0.8 0.8 0 1 0 -1.6 0M1163.2 1341.7a0.8 0.8 0 1 0 1.6 0a0.8 0.8 0 1 0 -1.6 0M1168.5 1345.5a1.0 1.0 0 1 0 2.0 0a1.0 1.0 0 1 0 -2.0 0M1168.7 1340.1a0.7 0.7 0 1 0 1.4 0a0.7 0.7 0 1 0 -1.4 0M1159.8 1346.2a0.6 0.6 0 1 0 1.2 0a0.6 0.6 0 1 0 -1.2 0M1170.3 1341.1a0.6 0.6 0 1 0 1.2 0a0.6 0.6 0 1 0 -1.2 0M1161.5 1332.4a0.7 0.7 0 1 0 1.4 0a0.7 0.7 0 1 0 -1.4 0M1171.6 1331.0a0.6 0.6 0 1 0 1.2 0a0.6 0.6 0 1 0 -1.2 0M1176.7 1344.4a0.8 0.8 0 1 0 1.6 0a0.8 0.8 0 1 0 -1.6 0M1176.4 1354.9a0.7 0.7 0 1 0 1.4 0a0.7 0.7 0 1 0 -1.4 0M1167.7 1354.3a0.7 0.7 0 1 0 1.4 0a0.7 0.7 0 1 0 -1.4 0M1171.1 1333.8a0.6 0.6 0 1 0 1.2 0a0.6 0.6 0 1 0 -1.2 0M1171.8 1355.5a0.7 0.7 0 1 0 1.4 0a0.7 0.7 0 1 0 -1.4 0M1165.3 1346.1a1.0 1.0 0 1 0 2.0 0a1.0 1.0 0 1 0 -2.0 0M1212.6 1395.6a0.7 0.7 0 1 0 1.4 0a0.7 0.7 0 1 0 -1.4 0M1223.1 1400.6a0.7 0.7 0 1 0 1.4 0a0.7 0.7 0 1 0 -1.4 0M1222.5 1394.3a1.2 1.2 0 1 0 2.4 0a1.2 1.2 0 1 0 -2.4 0M1219.2 1402.4a0.7 0.7 0 1 0 1.4 0a0.7 0.7 0 1 0 -1.4 0M1219.1 1395.0a0.6 0.6 0 1 0 1.2 0a0.6 0.6 0 1 0 -1.2 0M1216.8 1403.1a0.7 0.7 0 1 0 1.4 0a0.7 0.7 0 1 0 -1.4 0M1219.3 1402.2a0.8 0.8 0 1 0 1.6 0a0.8 0.8 0 1 0 -1.6 0M1224.5 1400.6a0.6 0.6 0 1 0 1.2 0a0.6 0.6 0 1 0 -1.2 0M1221.7 1403.4a0.7 0.7 0 1 0 1.4 0a0.7 0.7 0 1 0 -1.4 0M1219.7 1395.3a0.7 0.7 0 1 0 1.4 0a0.7 0.7 0 1 0 -1.4 0M1227.3 1406.7a0.6 0.6 0 1 0 1.2 0a0.6 0.6 0 1 0 -1.2 0M1219.2 1389.7a0.7 0.7 0 1 0 1.4 0a0.7 0.7 0 1 0 -1.4 0M1224.9 1392.8a1.0 1.0 0 1 0 2.0 0a1.0 1.0 0 1 0 -2.0 0M1218.6 1402.1a1.2 1.2 0 1 0 2.4 0a1.2 1.2 0 1 0 -2.4 0M1215.0 1405.0a0.7 0.7 0 1 0 1.4 0a0.7 0.7 0 1 0 -1.4 0M1218.1 1398.1a0.7 0.7 0 1 0 1.4 0a0.7 0.7 0 1 0 -1.4 0M1216.6 1404.2a0.7 0.7 0 1 0 1.4 0a0.7 0.7 0 1 0 -1.4 0M1220.2 1402.6a0.6 0.6 0 1 0 1.2 0a0.6 0.6 0 1 0 -1.2 0M1215.6 1408.9a0.7 0.7 0 1 0 1.4 0a0.7 0.7 0 1 0 -1.4 0M1211.3 1392.5a0.8 0.8 0 1 0 1.6 0a0.8 0.8 0 1 0 -1.6 0M1287.2 1321.4a1.4 1.4 0 1 0 2.8 0a1.4 1.4 0 1 0 -2.8 0M1316.0 1381.9a1.6 1.6 0 1 0 3.2 0a1.6 1.6 0 1 0 -3.2 0M1171.8 1371.9a2.3 2.3 0 1 0 4.6 0a2.3 2.3 0 1 0 -4.6 0M1173.5 1368.9a1.6 1.6 0 1 0 3.2 0a1.6 1.6 0 1 0 -3.2 0" fill="#E000E0" fill-opacity="1.0"/>
<rect x="1083.50" y="1457.50" width="11.60" height="2.60" fill="#fff"/>
<rect x="1331.00" y="1220.90" width="242.50" height="242.50" fill="#000"/>
<g filter="url(#nt)">
<ellipse cx="1404.5" cy="1277.9" rx="6.7" ry="13.6" transform="rotate(14 1404.5 1277.9)" fill="#00FFFF"/>
<ellipse cx="1391.2" cy="1332.3" rx="7.6" ry="15.0" transform="rotate(-48 1391.2 1332.3)" fill="#00FFFF"/>
<ellipse cx="1416.2" cy="1341.3" rx="9.3" ry="21.3" transform="rotate(-17 1416.2 1341.3)" fill="#00FFFF"/>
<ellipse cx="1508.7" cy="1326.0" rx="8.0" ry="13.2" transform="rotate(-8 1508.7 1326.0)" fill="#00FFFF"/>
<ellipse cx="1470.7" cy="1397.1" rx="8.6" ry="17.6" transform="rotate(-30 1470.7 1397.1)" fill="#00FFFF"/>
</g>
<path d="M1509.7 1321.8a0.8 0.8 0 1 0 1.6 0a0.8 0.8 0 1 0 -1.6 0M1504.1 1337.4a0.6 0.6 0 1 0 1.2 0a0.6 0.6 0 1 0 -1.2 0M1504.0 1331.4a0.8 0.8 0 1 0 1.6 0a0.8 0.8 0 1 0 -1.6 0M1508.3 1325.1a1.2 1.2 0 1 0 2.4 0a1.2 1.2 0 1 0 -2.4 0M1510.6 1324.3a1.0 1.0 0 1 0 2.0 0a1.0 1.0 0 1 0 -2.0 0M1508.0 1325.9a0.7 0.7 0 1 0 1.4 0a0.7 0.7 0 1 0 -1.4 0M1508.0 1324.2a0.8 0.8 0 1 0 1.6 0a0.8 0.8 0 1 0 -1.6 0M1509.7 1327.3a0.6 0.6 0 1 0 1.2 0a0.6 0.6 0 1 0 -1.2 0M1505.4 1333.7a0.7 0.7 0 1 0 1.4 0a0.7 0.7 0 1 0 -1.4 0M1509.1 1329.6a1.2 1.2 0 1 0 2.4 0a1.2 1.2 0 1 0 -2.4 0M1504.5 1328.9a0.8 0.8 0 1 0 1.6 0a0.8 0.8 0 1 0 -1.6 0M1507.4 1327.0a0.7 0.7 0 1 0 1.4 0a0.7 0.7 0 1 0 -1.4 0M1514.0 1321.4a0.6 0.6 0 1 0 1.2 0a0.6 0.6 0 1 0 -1.2 0M1501.7 1319.4a1.0 1.0 0 1 0 2.0 0a1.0 1.0 0 1 0 -2.0 0M1505.1 1324.2a1.0 1.0 0 1 0 2.0 0a1.0 1.0 0 1 0 -2.0 0M1508.6 1328.2a1.2 1.2 0 1 0 2.4 0a1.2 1.2 0 1 0 -2.4 0M1409.0 1298.0a0.7 0.7 0 1 0 1.4 0a0.7 0.7 0 1 0 -1.4 0M1400.1 1317.1a1.2 1.2 0 1 0 2.4 0a1.2 1.2 0 1 0 -2.4 0M1402.9 1328.3a0.6 0.6 0 1 0 1.2 0a0.6 0.6 0 1 0 -1.2 0M1391.1 1296.2a1.2 1.2 0 1 0 2.4 0a1.2 1.2 0 1 0 -2.4 0M1391.9 1314.1a0.8 0.8 0 1 0 1.6 0a0.8 0.8 0 1 0 -1.6 0M1399.0 1308.9a0.6 0.6 0 1 0 1.2 0a0.6 0.6 0 1 0 -1.2 0M1404.3 1299.1a0.8 0.8 0 1 0 1.6 0a0.8 0.8 0 1 0 -1.6 0M1397.0 1311.7a0.8 0.8 0 1 0 1.6 0a0.8 0.8 0 1 0 -1.6 0M1418.0 1311.4a0.8 0.8 0 1 0 1.6 0a0.8 0.8 0 1 0 -1.6 0M1414.0 1305.0a0.7 0.7 0 1 0 1.4 0a0.7 0.7 0 1 0 -1.4 0M1413.2 1308.3a0.6 0.6 0 1 0 1.2 0a0.6 0.6 0 1 0 -1.2 0M1409.0 1285.9a0.7 0.7 0 1 0 1.4 0a0.7 0.7 0 1 0 -1.4 0M1394.3 1309.0a0.8 0.8 0 1 0 1.6 0a0.8 0.8 0 1 0 -1.6 0M1405.3 1291.5a1.2 1.2 0 1 0 2.4 0a1.2 1.2 0 1 0 -2.4 0M1413.1 1324.6a0.7 0.7 0 1 0 1.4 0a0.7 0.7 0 1 0 -1.4 0M1406.6 1298.5a0.6 0.6 0 1 0 1.2 0a0.6 0.6 0 1 0 -1.2 0M1391.5 1301.9a1.0 1.0 0 1 0 2.0 0a1.0 1.0 0 1 0 -2.0 0M1404.8 1298.6a1.0 1.0 0 1 0 2.0 0a1.0 1.0 0 1 0 -2.0 0M1400.7 1304.7a0.8 0.8 0 1 0 1.6 0a0.8 0.8 0 1 0 -1.6 0M1440.9 1364.3a0.7 0.7 0 1 0 1.4 0a0.7 0.7 0 1 0 -1.4 0M1440.2 1374.3a0.7 0.7 0 1 0 1.4 0a0.7 0.7 0 1 0 -1.4 0M1439.1 1365.1a0.6 0.6 0 1 0 1.2 0a0.6 0.6 0 1 0 -1.2 0M1442.0 1374.5a0.7 0.7 0 1 0 1.4 0a0.7 0.7 0 1 0 -1.4 0M1495.3 1410.6a0.8 0.8 0 1 0 1.6 0a0.8 0.8 0 1 0 -1.6 0M1500.5 1412.1a0.8 0.8 0 1 0 1.6 0a0.8 0.8 0 1 0 -1.6 0M1497.7 1410.8a0.8 0.8 0 1 0 1.6 0a0.8 0.8 0 1 0 -1.6 0M1404.0 1252.4a0.6 0.6 0 1 0 1.2 0a0.6 0.6 0 1 0 -1.2 0M1407.1 1252.4a0.8 0.8 0 1 0 1.6 0a0.8 0.8 0 1 0 -1.6 0M1406.9 1251.4a1.0 1.0 0 1 0 2.0 0a1.0 1.0 0 1 0 -2.0 0M1410.3 1258.7a0.6 0.6 0 1 0 1.2 0a0.6 0.6 0 1 0 -1.2 0M1408.7 1258.6a0.6 0.6 0 1 0 1.2 0a0.6 0.6 0 1 0 -1.2 0" fill="#E000E0" fill-opacity="0.2" style="mix-blend-mode:screen"/>
<path d="M1396.3 1288.4a0.8 0.8 0 1 0 1.6 0a0.8 0.8 0 1 0 -1.6 0M1398.9 1268.1a0.8 0.8 0 1 0 1.6 0a0.8 0.8 0 1 0 -1.6 0M1400.3 1276.4a0.8 0.8 0 1 0 1.6 0a0.8 0.8 0 1 0 -1.6 0M1398.7 1281.2a0.6 0.6 0 1 0 1.2 0a0.6 0.6 0 1 0 -1.2 0M1413.6 1271.0a0.7 0.7 0 1 0 1.4 0a0.7 0.7 0 1 0 -1.4 0M1405.0 1275.0a0.8 0.8 0 1 0 1.6 0a0.8 0.8 0 1 0 -1.6 0M1404.8 1280.3a0.6 0.6 0 1 0 1.2 0a0.6 0.6 0 1 0 -1.2 0M1402.3 1275.6a0.8 0.8 0 1 0 1.6 0a0.8 0.8 0 1 0 -1.6 0M1404.5 1279.1a1.2 1.2 0 1 0 2.4 0a1.2 1.2 0 1 0 -2.4 0M1396.7 1275.0a1.2 1.2 0 1 0 2.4 0a1.2 1.2 0 1 0 -2.4 0M1392.6 1289.2a1.0 1.0 0 1 0 2.0 0a1.0 1.0 0 1 0 -2.0 0M1401.0 1279.1a0.7 0.7 0 1 0 1.4 0a0.7 0.7 0 1 0 -1.4 0M1397.4 1275.3a0.6 0.6 0 1 0 1.2 0a0.6 0.6 0 1 0 -1.2 0M1399.4 1333.5a0.6 0.6 0 1 0 1.2 0a0.6 0.6 0 1 0 -1.2 0M1396.1 1336.8a0.6 0.6 0 1 0 1.2 0a0.6 0.6 0 1 0 -1.2 0M1394.6 1322.1a0.7 0.7 0 1 0 1.4 0a0.7 0.7 0 1 0 -1.4 0M1398.1 1333.7a0.6 0.6 0 1 0 1.2 0a0.6 0.6 0 1 0 -1.2 0M1395.2 1323.7a0.7 0.7 0 1 0 1.4 0a0.7 0.7 0 1 0 -1.4 0M1398.7 1328.3a1.0 1.0 0 1 0 2.0 0a1.0 1.0 0 1 0 -2.0 0M1400.8 1328.8a0.6 0.6 0 1 0 1.2 0a0.6 0.6 0 1 0 -1.2 0M1398.3 1326.7a0.8 0.8 0 1 0 1.6 0a0.8 0.8 0 1 0 -1.6 0M1390.4 1331.3a0.8 0.8 0 1 0 1.6 0a0.8 0.8 0 1 0 -1.6 0M1393.8 1327.3a1.2 1.2 0 1 0 2.4 0a1.2 1.2 0 1 0 -2.4 0M1388.7 1333.2a0.8 0.8 0 1 0 1.6 0a0.8 0.8 0 1 0 -1.6 0M1397.9 1336.2a0.6 0.6 0 1 0 1.2 0a0.6 0.6 0 1 0 -1.2 0M1463.8 1407.2a1.2 1.2 0 1 0 2.4 0a1.2 1.2 0 1 0 -2.4 0M1510.7 1324.1a1.2 1.2 0 1 0 2.4 0a1.2 1.2 0 1 0 -2.4 0M1511.3 1328.3a0.6 0.6 0 1 0 1.2 0a0.6 0.6 0 1 0 -1.2 0M1499.8 1323.4a0.6 0.6 0 1 0 1.2 0a0.6 0.6 0 1 0 -1.2 0M1512.9 1334.6a0.6 0.6 0 1 0 1.2 0a0.6 0.6 0 1 0 -1.2 0M1510.9 1323.1a0.6 0.6 0 1 0 1.2 0a0.6 0.6 0 1 0 -1.2 0M1507.7 1323.9a0.7 0.7 0 1 0 1.4 0a0.7 0.7 0 1 0 -1.4 0M1510.9 1325.7a0.6 0.6 0 1 0 1.2 0a0.6 0.6 0 1 0 -1.2 0M1508.5 1326.3a1.0 1.0 0 1 0 2.0 0a1.0 1.0 0 1 0 -2.0 0M1502.2 1327.1a0.7 0.7 0 1 0 1.4 0a0.7 0.7 0 1 0 -1.4 0M1417.4 1306.4a1.2 1.2 0 1 0 2.4 0a1.2 1.2 0 1 0 -2.4 0M1404.0 1295.7a1.0 1.0 0 1 0 2.0 0a1.0 1.0 0 1 0 -2.0 0M1413.9 1299.9a0.8 0.8 0 1 0 1.6 0a0.8 0.8 0 1 0 -1.6 0M1413.4 1335.5a0.7 0.7 0 1 0 1.4 0a0.7 0.7 0 1 0 -1.4 0M1407.9 1287.9a1.2 1.2 0 1 0 2.4 0a1.2 1.2 0 1 0 -2.4 0M1400.3 1321.2a0.8 0.8 0 1 0 1.6 0a0.8 0.8 0 1 0 -1.6 0M1406.0 1303.2a1.0 1.0 0 1 0 2.0 0a1.0 1.0 0 1 0 -2.0 0M1404.6 1305.0a1.2 1.2 0 1 0 2.4 0a1.2 1.2 0 1 0 -2.4 0M1409.9 1310.7a0.6 0.6 0 1 0 1.2 0a0.6 0.6 0 1 0 -1.2 0M1394.0 1322.2a1.2 1.2 0 1 0 2.4 0a1.2 1.2 0 1 0 -2.4 0M1409.6 1298.2a1.0 1.0 0 1 0 2.0 0a1.0 1.0 0 1 0 -2.0 0M1413.4 1290.0a0.8 0.8 0 1 0 1.6 0a0.8 0.8 0 1 0 -1.6 0M1409.4 1303.3a0.7 0.7 0 1 0 1.4 0a0.7 0.7 0 1 0 -1.4 0M1413.4 1298.3a0.6 0.6 0 1 0 1.2 0a0.6 0.6 0 1 0 -1.2 0M1398.4 1311.6a0.8 0.8 0 1 0 1.6 0a0.8 0.8 0 1 0 -1.6 0M1401.4 1294.3a1.0 1.0 0 1 0 2.0 0a1.0 1.0 0 1 0 -2.0 0M1457.1 1374.5a1.0 1.0 0 1 0 2.0 0a1.0 1.0 0 1 0 -2.0 0M1436.6 1374.5a1.2 1.2 0 1 0 2.4 0a1.2 1.2 0 1 0 -2.4 0M1422.3 1371.3a0.7 0.7 0 1 0 1.4 0a0.7 0.7 0 1 0 -1.4 0M1436.2 1373.9a1.2 1.2 0 1 0 2.4 0a1.2 1.2 0 1 0 -2.4 0M1439.0 1371.4a0.7 0.7 0 1 0 1.4 0a0.7 0.7 0 1 0 -1.4 0M1449.2 1374.4a0.8 0.8 0 1 0 1.6 0a0.8 0.8 0 1 0 -1.6 0M1452.6 1375.3a0.8 0.8 0 1 0 1.6 0a0.8 0.8 0 1 0 -1.6 0M1445.7 1372.4a0.7 0.7 0 1 0 1.4 0a0.7 0.7 0 1 0 -1.4 0M1436.4 1365.7a0.7 0.7 0 1 0 1.4 0a0.7 0.7 0 1 0 -1.4 0M1434.7 1364.5a0.7 0.7 0 1 0 1.4 0a0.7 0.7 0 1 0 -1.4 0M1440.1 1377.3a0.6 0.6 0 1 0 1.2 0a0.6 0.6 0 1 0 -1.2 0M1452.3 1377.3a0.6 0.6 0 1 0 1.2 0a0.6 0.6 0 1 0 -1.2 0M1443.7 1372.5a0.8 0.8 0 1 0 1.6 0a0.8 0.8 0 1 0 -1.6 0M1439.2 1370.1a1.0 1.0 0 1 0 2.0 0a1.0 1.0 0 1 0 -2.0 0M1457.2 1366.4a0.6 0.6 0 1 0 1.2 0a0.6 0.6 0 1 0 -1.2 0M1449.2 1371.9a1.0 1.0 0 1 0 2.0 0a1.0 1.0 0 1 0 -2.0 0M1434.7 1361.8a0.7 0.7 0 1 0 1.4 0a0.7 0.7 0 1 0 -1.4 0M1436.4 1371.0a0.8 0.8 0 1 0 1.6 0a0.8 0.8 0 1 0 -1.6 0M1442.6 1369.4a0.8 0.8 0 1 0 1.6 0a0.8 0.8 0 1 0 -1.6 0M1432.5 1363.2a1.0 1.0 0 1 0 2.0 0a1.0 1.0 0 1 0 -2.0 0M1444.3 1363.9a0.7 0.7 0 1 0 1.4 0a0.7 0.7 0 1 0 -1.4 0M1428.2 1371.9a1.0 1.0 0 1 0 2.0 0a1.0 1.0 0 1 0 -2.0 0M1431.2 1368.4a0.6 0.6 0 1 0 1.2 0a0.6 0.6 0 1 0 -1.2 0M1439.8 1372.2a0.7 0.7 0 1 0 1.4 0a0.7 0.7 0 1 0 -1.4 0M1435.3 1377.9a0.6 0.6 0 1 0 1.2 0a0.6 0.6 0 1 0 -1.2 0M1449.9 1381.0a0.6 0.6 0 1 0 1.2 0a0.6 0.6 0 1 0 -1.2 0M1446.4 1372.7a0.7 0.7 0 1 0 1.4 0a0.7 0.7 0 1 0 -1.4 0M1421.6 1365.6a0.6 0.6 0 1 0 1.2 0a0.6 0.6 0 1 0 -1.2 0M1435.5 1369.6a0.6 0.6 0 1 0 1.2 0a0.6 0.6 0 1 0 -1.2 0M1453.2 1377.8a0.7 0.7 0 1 0 1.4 0a0.7 0.7 0 1 0 -1.4 0M1460.9 1394.0a0.6 0.6 0 1 0 1.2 0a0.6 0.6 0 1 0 -1.2 0M1458.4 1390.0a0.6 0.6 0 1 0 1.2 0a0.6 0.6 0 1 0 -1.2 0M1449.2 1386.1a0.6 0.6 0 1 0 1.2 0a0.6 0.6 0 1 0 -1.2 0M1468.1 1399.2a0.8 0.8 0 1 0 1.6 0a0.8 0.8 0 1 0 -1.6 0M1431.5 1368.4a0.8 0.8 0 1 0 1.6 0a0.8 0.8 0 1 0 -1.6 0M1468.1 1396.9a0.6 0.6 0 1 0 1.2 0a0.6 0.6 0 1 0 -1.2 0M1471.8 1400.8a0.6 0.6 0 1 0 1.2 0a0.6 0.6 0 1 0 -1.2 0M1441.5 1377.9a1.0 1.0 0 1 0 2.0 0a1.0 1.0 0 1 0 -2.0 0M1433.7 1370.4a0.8 0.8 0 1 0 1.6 0a0.8 0.8 0 1 0 -1.6 0M1428.8 1371.6a0.6 0.6 0 1 0 1.2 0a0.6 0.6 0 1 0 -1.2 0M1465.5 1397.2a1.0 1.0 0 1 0 2.0 0a1.0 1.0 0 1 0 -2.0 0M1468.6 1396.3a1.0 1.0 0 1 0 2.0 0a1.0 1.0 0 1 0 -2.0 0M1447.1 1384.2a0.8 0.8 0 1 0 1.6 0a0.8 0.8 0 1 0 -1.6 0M1446.0 1384.7a0.6 0.6 0 1 0 1.2 0a0.6 0.6 0 1 0 -1.2 0M1436.3 1375.1a1.0 1.0 0 1 0 2.0 0a1.0 1.0 0 1 0 -2.0 0M1463.3 1399.0a0.8 0.8 0 1 0 1.6 0a0.8 0.8 0 1 0 -1.6 0M1430.8 1367.2a0.8 0.8 0 1 0 1.6 0a0.8 0.8 0 1 0 -1.6 0M1464.6 1394.3a0.8 0.8 0 1 0 1.6 0a0.8 0.8 0 1 0 -1.6 0M1430.5 1369.3a0.8 0.8 0 1 0 1.6 0a0.8 0.8 0 1 0 -1.6 0M1480.9 1421.0a1.0 1.0 0 1 0 2.0 0a1.0 1.0 0 1 0 -2.0 0M1474.0 1413.0a0.6 0.6 0 1 0 1.2 0a0.6 0.6 0 1 0 -1.2 0M1493.8 1437.2a0.8 0.8 0 1 0 1.6 0a0.8 0.8 0 1 0 -1.6 0M1479.2 1423.5a0.8 0.8 0 1 0 1.6 0a0.8 0.8 0 1 0 -1.6 0M1480.7 1422.0a0.6 0.6 0 1 0 1.2 0a0.6 0.6 0 1 0 -1.2 0M1468.7 1412.1a1.0 1.0 0 1 0 2.0 0a1.0 1.0 0 1 0 -2.0 0M1493.7 1439.8a0.6 0.6 0 1 0 1.2 0a0.6 0.6 0 1 0 -1.2 0M1490.4 1432.2a0.8 0.8 0 1 0 1.6 0a0.8 0.8 0 1 0 -1.6 0M1491.6 1436.4a1.0 1.0 0 1 0 2.0 0a1.0 1.0 0 1 0 -2.0 0M1502.4 1447.4a0.8 0.8 0 1 0 1.6 0a0.8 0.8 0 1 0 -1.6 0M1507.0 1452.2a0.6 0.6 0 1 0 1.2 0a0.6 0.6 0 1 0 -1.2 0M1513.9 1458.6a0.6 0.6 0 1 0 1.2 0a0.6 0.6 0 1 0 -1.2 0M1485.3 1424.2a1.0 1.0 0 1 0 2.0 0a1.0 1.0 0 1 0 -2.0 0M1508.5 1449.5a0.6 0.6 0 1 0 1.2 0a0.6 0.6 0 1 0 -1.2 0M1504.1 1448.6a1.0 1.0 0 1 0 2.0 0a1.0 1.0 0 1 0 -2.0 0M1497.2 1403.9a0.8 0.8 0 1 0 1.6 0a0.8 0.8 0 1 0 -1.6 0M1497.3 1416.8a1.0 1.0 0 1 0 2.0 0a1.0 1.0 0 1 0 -2.0 0M1503.6 1433.3a0.8 0.8 0 1 0 1.6 0a0.8 0.8 0 1 0 -1.6 0M1502.3 1431.6a0.6 0.6 0 1 0 1.2 0a0.6 0.6 0 1 0 -1.2 0M1498.9 1409.0a0.6 0.6 0 1 0 1.2 0a0.6 0.6 0 1 0 -1.2 0M1501.7 1429.7a1.0 1.0 0 1 0 2.0 0a1.0 1.0 0 1 0 -2.0 0M1503.7 1437.6a1.0 1.0 0 1 0 2.0 0a1.0 1.0 0 1 0 -2.0 0M1505.7 1434.5a0.6 0.6 0 1 0 1.2 0a0.6 0.6 0 1 0 -1.2 0M1504.5 1429.8a1.0 1.0 0 1 0 2.0 0a1.0 1.0 0 1 0 -2.0 0M1501.6 1419.8a0.6 0.6 0 1 0 1.2 0a0.6 0.6 0 1 0 -1.2 0M1496.2 1402.4a0.6 0.6 0 1 0 1.2 0a0.6 0.6 0 1 0 -1.2 0M1409.4 1259.9a1.0 1.0 0 1 0 2.0 0a1.0 1.0 0 1 0 -2.0 0M1406.1 1254.4a0.8 0.8 0 1 0 1.6 0a0.8 0.8 0 1 0 -1.6 0M1404.0 1243.3a0.6 0.6 0 1 0 1.2 0a0.6 0.6 0 1 0 -1.2 0" fill="#E000E0" fill-opacity="0.4" style="mix-blend-mode:screen"/>
<path d="M1406.2 1288.1a1.0 1.0 0 1 0 2.0 0a1.0 1.0 0 1 0 -2.0 0M1399.4 1273.0a1.2 1.2 0 1 0 2.4 0a1.2 1.2 0 1 0 -2.4 0M1396.0 1272.5a1.2 1.2 0 1 0 2.4 0a1.2 1.2 0 1 0 -2.4 0M1392.4 1272.6a0.7 0.7 0 1 0 1.4 0a0.7 0.7 0 1 0 -1.4 0M1400.6 1274.8a1.2 1.2 0 1 0 2.4 0a1.2 1.2 0 1 0 -2.4 0M1399.3 1275.7a1.2 1.2 0 1 0 2.4 0a1.2 1.2 0 1 0 -2.4 0M1402.4 1282.8a0.7 0.7 0 1 0 1.4 0a0.7 0.7 0 1 0 -1.4 0M1398.5 1282.5a1.0 1.0 0 1 0 2.0 0a1.0 1.0 0 1 0 -2.0 0M1408.2 1281.7a0.7 0.7 0 1 0 1.4 0a0.7 0.7 0 1 0 -1.4 0M1400.4 1292.0a0.8 0.8 0 1 0 1.6 0a0.8 0.8 0 1 0 -1.6 0M1403.0 1284.1a0.6 0.6 0 1 0 1.2 0a0.6 0.6 0 1 0 -1.2 0M1392.4 1277.3a0.7 0.7 0 1 0 1.4 0a0.7 0.7 0 1 0 -1.4 0M1397.0 1262.8a0.7 0.7 0 1 0 1.4 0a0.7 0.7 0 1 0 -1.4 0M1396.8 1278.9a1.0 1.0 0 1 0 2.0 0a1.0 1.0 0 1 0 -2.0 0M1406.8 1293.6a0.7 0.7 0 1 0 1.4 0a0.7 0.7 0 1 0 -1.4 0M1404.2 1268.4a0.6 0.6 0 1 0 1.2 0a0.6 0.6 0 1 0 -1.2 0M1412.5 1262.3a0.6 0.6 0 1 0 1.2 0a0.6 0.6 0 1 0 -1.2 0M1400.0 1283.2a0.8 0.8 0 1 0 1.6 0a0.8 0.8 0 1 0 -1.6 0M1405.1 1277.8a0.6 0.6 0 1 0 1.2 0a0.6 0.6 0 1 0 -1.2 0M1398.9 1274.4a0.6 0.6 0 1 0 1.2 0a0.6 0.6 0 1 0 -1.2 0M1405.8 1281.8a0.8 0.8 0 1 0 1.6 0a0.8 0.8 0 1 0 -1.6 0M1403.1 1255.3a0.8 0.8 0 1 0 1.6 0a0.8 0.8 0 1 0 -1.6 0M1397.9 1285.5a0.7 0.7 0 1 0 1.4 0a0.7 0.7 0 1 0 -1.4 0M1408.7 1261.2a0.6 0.6 0 1 0 1.2 0a0.6 0.6 0 1 0 -1.2 0M1396.6 1272.1a1.0 1.0 0 1 0 2.0 0a1.0 1.0 0 1 0 -2.0 0M1392.0 1297.0a0.6 0.6 0 1 0 1.2 0a0.6 0.6 0 1 0 -1.2 0M1400.8 1270.0a0.8 0.8 0 1 0 1.6 0a0.8 0.8 0 1 0 -1.6 0M1404.8 1278.9a1.0 1.0 0 1 0 2.0 0a1.0 1.0 0 1 0 -2.0 0M1410.4 1289.9a0.8 0.8 0 1 0 1.6 0a0.8 0.8 0 1 0 -1.6 0M1394.0 1278.6a1.2 1.2 0 1 0 2.4 0a1.2 1.2 0 1 0 -2.4 0M1395.2 1279.5a0.6 0.6 0 1 0 1.2 0a0.6 0.6 0 1 0 -1.2 0M1402.5 1283.8a0.6 0.6 0 1 0 1.2 0a0.6 0.6 0 1 0 -1.2 0M1401.3 1268.9a0.8 0.8 0 1 0 1.6 0a0.8 0.8 0 1 0 -1.6 0M1403.0 1289.3a0.8 0.8 0 1 0 1.6 0a0.8 0.8 0 1 0 -1.6 0M1400.8 1267.6a1.2 1.2 0 1 0 2.4 0a1.2 1.2 0 1 0 -2.4 0M1399.4 1285.2a0.7 0.7 0 1 0 1.4 0a0.7 0.7 0 1 0 -1.4 0M1401.0 1286.8a0.8 0.8 0 1 0 1.6 0a0.8 0.8 0 1 0 -1.6 0M1400.2 1279.7a1.0 1.0 0 1 0 2.0 0a1.0 1.0 0 1 0 -2.0 0M1407.7 1283.6a1.0 1.0 0 1 0 2.0 0a1.0 1.0 0 1 0 -2.0 0M1400.3 1273.5a0.7 0.7 0 1 0 1.4 0a0.7 0.7 0 1 0 -1.4 0M1400.1 1280.7a1.0 1.0 0 1 0 2.0 0a1.0 1.0 0 1 0 -2.0 0M1394.2 1268.2a1.0 1.0 0 1 0 2.0 0a1.0 1.0 0 1 0 -2.0 0M1391.8 1278.6a1.0 1.0 0 1 0 2.0 0a1.0 1.0 0 1 0 -2.0 0M1403.2 1282.7a0.6 0.6 0 1 0 1.2 0a0.6 0.6 0 1 0 -1.2 0M1395.2 1338.9a1.2 1.2 0 1 0 2.4 0a1.2 1.2 0 1 0 -2.4 0M1385.1 1330.4a0.6 0.6 0 1 0 1.2 0a0.6 0.6 0 1 0 -1.2 0M1392.2 1335.6a0.6 0.6 0 1 0 1.2 0a0.6 0.6 0 1 0 -1.2 0M1402.4 1343.4a0.8 0.8 0 1 0 1.6 0a0.8 0.8 0 1 0 -1.6 0M1396.8 1332.0a1.0 1.0 0 1 0 2.0 0a1.0 1.0 0 1 0 -2.0 0M1394.8 1334.0a1.0 1.0 0 1 0 2.0 0a1.0 1.0 0 1 0 -2.0 0M1391.0 1325.0a0.8 0.8 0 1 0 1.6 0a0.8 0.8 0 1 0 -1.6 0M1394.5 1327.5a0.7 0.7 0 1 0 1.4 0a0.7 0.7 0 1 0 -1.4 0M1398.9 1332.3a0.8 0.8 0 1 0 1.6 0a0.8 0.8 0 1 0 -1.6 0M1389.0 1330.0a1.0 1.0 0 1 0 2.0 0a1.0 1.0 0 1 0 -2.0 0M1394.5 1336.7a1.0 1.0 0 1 0 2.0 0a1.0 1.0 0 1 0 -2.0 0M1404.5 1332.3a0.6 0.6 0 1 0 1.2 0a0.6 0.6 0 1 0 -1.2 0M1401.7 1332.8a0.6 0.6 0 1 0 1.2 0a0.6 0.6 0 1 0 -1.2 0M1402.0 1327.4a0.6 0.6 0 1 0 1.2 0a0.6 0.6 0 1 0 -1.2 0M1390.5 1323.3a1.2 1.2 0 1 0 2.4 0a1.2 1.2 0 1 0 -2.4 0M1389.1 1330.6a0.7 0.7 0 1 0 1.4 0a0.7 0.7 0 1 0 -1.4 0M1393.8 1328.5a0.7 0.7 0 1 0 1.4 0a0.7 0.7 0 1 0 -1.4 0M1397.9 1325.2a0.7 0.7 0 1 0 1.4 0a0.7 0.7 0 1 0 -1.4 0M1388.6 1330.1a1.0 1.0 0 1 0 2.0 0a1.0 1.0 0 1 0 -2.0 0M1390.3 1330.0a0.8 0.8 0 1 0 1.6 0a0.8 0.8 0 1 0 -1.6 0M1398.8 1342.7a0.6 0.6 0 1 0 1.2 0a0.6 0.6 0 1 0 -1.2 0M1400.2 1335.6a0.7 0.7 0 1 0 1.4 0a0.7 0.7 0 1 0 -1.4 0M1384.3 1323.6a0.8 0.8 0 1 0 1.6 0a0.8 0.8 0 1 0 -1.6 0M1396.0 1336.1a0.7 0.7 0 1 0 1.4 0a0.7 0.7 0 1 0 -1.4 0M1394.7 1323.2a1.0 1.0 0 1 0 2.0 0a1.0 1.0 0 1 0 -2.0 0M1398.0 1320.0a1.2 1.2 0 1 0 2.4 0a1.2 1.2 0 1 0 -2.4 0M1384.3 1337.5a1.2 1.2 0 1 0 2.4 0a1.2 1.2 0 1 0 -2.4 0M1394.9 1318.6a0.7 0.7 0 1 0 1.4 0a0.7 0.7 0 1 0 -1.4 0M1405.8 1324.9a0.6 0.6 0 1 0 1.2 0a0.6 0.6 0 1 0 -1.2 0M1385.1 1332.0a0.8 0.8 0 1 0 1.6 0a0.8 0.8 0 1 0 -1.6 0M1389.7 1335.1a0.8 0.8 0 1 0 1.6 0a0.8 0.8 0 1 0 -1.6 0M1390.6 1341.7a1.0 1.0 0 1 0 2.0 0a1.0 1.0 0 1 0 -2.0 0M1404.9 1334.3a0.7 0.7 0 1 0 1.4 0a0.7 0.7 0 1 0 -1.4 0M1390.3 1334.4a0.7 0.7 0 1 0 1.4 0a0.7 0.7 0 1 0 -1.4 0M1399.4 1324.8a1.0 1.0 0 1 0 2.0 0a1.0 1.0 0 1 0 -2.0 0M1385.8 1343.9a1.2 1.2 0 1 0 2.4 0a1.2 1.2 0 1 0 -2.4 0M1394.3 1328.3a0.7 0.7 0 1 0 1.4 0a0.7 0.7 0 1 0 -1.4 0M1400.7 1335.4a1.0 1.0 0 1 0 2.0 0a1.0 1.0 0 1 0 -2.0 0M1408.6 1331.6a0.8 0.8 0 1 0 1.6 0a0.8 0.8 0 1 0 -1.6 0M1393.0 1342.9a0.6 0.6 0 1 0 1.2 0a0.6 0.6 0 1 0 -1.2 0M1398.7 1329.8a0.8 0.8 0 1 0 1.6 0a0.8 0.8 0 1 0 -1.6 0M1397.4 1333.2a1.2 1.2 0 1 0 2.4 0a1.2 1.2 0 1 0 -2.4 0M1393.4 1324.4a0.7 0.7 0 1 0 1.4 0a0.7 0.7 0 1 0 -1.4 0M1398.0 1325.9a1.2 1.2 0 1 0 2.4 0a1.2 1.2 0 1 0 -2.4 0M1389.1 1332.2a0.8 0.8 0 1 0 1.6 0a0.8 0.8 0 1 0 -1.6 0M1386.7 1342.2a1.0 1.0 0 1 0 2.0 0a1.0 1.0 0 1 0 -2.0 0M1389.6 1332.4a1.0 1.0 0 1 0 2.0 0a1.0 1.0 0 1 0 -2.0 0M1379.1 1341.1a0.8 0.8 0 1 0 1.6 0a0.8 0.8 0 1 0 -1.6 0M1410.9 1329.3a1.0 1.0 0 1 0 2.0 0a1.0 1.0 0 1 0 -2.0 0M1410.8 1322.2a0.7 0.7 0 1 0 1.4 0a0.7 0.7 0 1 0 -1.4 0M1408.3 1326.4a1.2 1.2 0 1 0 2.4 0a1.2 1.2 0 1 0 -2.4 0M1411.9 1341.9a0.7 0.7 0 1 0 1.4 0a0.7 0.7 0 1 0 -1.4 0M1417.8 1335.6a0.8 0.8 0 1 0 1.6 0a0.8 0.8 0 1 0 -1.6 0M1412.4 1347.9a1.0 1.0 0 1 0 2.0 0a1.0 1.0 0 1 0 -2.0 0M1428.3 1338.1a1.0 1.0 0 1 0 2.0 0a1.0 1.0 0 1 0 -2.0 0M1424.3 1334.4a0.8 0.8 0 1 0 1.6 0a0.8 0.8 0 1 0 -1.6 0M1407.7 1328.9a1.2 1.2 0 1 0 2.4 0a1.2 1.2 0 1 0 -2.4 0M1415.0 1339.6a1.0 1.0 0 1 0 2.0 0a1.0 1.0 0 1 0 -2.0 0M1416.7 1333.3a1.0 1.0 0 1 0 2.0 0a1.0 1.0 0 1 0 -2.0 0M1412.6 1344.2a0.7 0.7 0 1 0 1.4 0a0.7 0.7 0 1 0 -1.4 0M1426.1 1347.1a0.6 0.6 0 1 0 1.2 0a0.6 0.6 0 1 0 -1.2 0M1408.3 1336.1a1.0 1.0 0 1 0 2.0 0a1.0 1.0 0 1 0 -2.0 0M1409.7 1348.4a1.2 1.2 0 1 0 2.4 0a1.2 1.2 0 1 0 -2.4 0M1414.6 1319.6a0.6 0.6 0 1 0 1.2 0a0.6 0.6 0 1 0 -1.2 0M1422.0 1333.7a0.6 0.6 0 1 0 1.2 0a0.6 0.6 0 1 0 -1.2 0M1427.9 1329.9a0.6 0.6 0 1 0 1.2 0a0.6 0.6 0 1 0 -1.2 0M1418.4 1332.8a1.2 1.2 0 1 0 2.4 0a1.2 1.2 0 1 0 -2.4 0M1420.0 1334.4a0.8 0.8 0 1 0 1.6 0a0.8 0.8 0 1 0 -1.6 0M1429.3 1332.0a0.6 0.6 0 1 0 1.2 0a0.6 0.6 0 1 0 -1.2 0M1430.3 1339.0a1.2 1.2 0 1 0 2.4 0a1.2 1.2 0 1 0 -2.4 0M1436.6 1351.4a0.6 0.6 0 1 0 1.2 0a0.6 0.6 0 1 0 -1.2 0M1424.5 1332.3a0.7 0.7 0 1 0 1.4 0a0.7 0.7 0 1 0 -1.4 0M1417.3 1306.9a0.8 0.8 0 1 0 1.6 0a0.8 0.8 0 1 0 -1.6 0M1413.7 1338.8a0.8 0.8 0 1 0 1.6 0a0.8 0.8 0 1 0 -1.6 0M1428.5 1347.5a1.2 1.2 0 1 0 2.4 0a1.2 1.2 0 1 0 -2.4 0M1422.4 1336.9a0.7 0.7 0 1 0 1.4 0a0.7 0.7 0 1 0 -1.4 0M1424.0 1346.6a0.6 0.6 0 1 0 1.2 0a0.6 0.6 0 1 0 -1.2 0M1417.8 1339.1a0.6 0.6 0 1 0 1.2 0a0.6 0.6 0 1 0 -1.2 0M1420.0 1336.4a0.7 0.7 0 1 0 1.4 0a0.7 0.7 0 1 0 -1.4 0M1425.8 1347.2a0.8 0.8 0 1 0 1.6 0a0.8 0.8 0 1 0 -1.6 0M1424.4 1337.5a0.6 0.6 0 1 0 1.2 0a0.6 0.6 0 1 0 -1.2 0M1410.8 1329.7a0.8 0.8 0 1 0 1.6 0a0.8 0.8 0 1 0 -1.6 0M1411.0 1330.4a0.7 0.7 0 1 0 1.4 0a0.7 0.7 0 1 0 -1.4 0M1420.4 1350.8a0.7 0.7 0 1 0 1.4 0a0.7 0.7 0 1 0 -1.4 0M1417.8 1331.0a0.8 0.8 0 1 0 1.6 0a0.8 0.8 0 1 0 -1.6 0M1406.0 1324.5a0.7 0.7 0 1 0 1.4 0a0.7 0.7 0 1 0 -1.4 0M1422.6 1324.3a0.8 0.8 0 1 0 1.6 0a0.8 0.8 0 1 0 -1.6 0M1421.7 1332.4a0.6 0.6 0 1 0 1.2 0a0.6 0.6 0 1 0 -1.2 0M1406.9 1325.4a0.7 0.7 0 1 0 1.4 0a0.7 0.7 0 1 0 -1.4 0M1425.0 1347.8a0.6 0.6 0 1 0 1.2 0a0.6 0.6 0 1 0 -1.2 0M1433.5 1332.6a1.0 1.0 0 1 0 2.0 0a1.0 1.0 0 1 0 -2.0 0M1415.0 1340.7a0.6 0.6 0 1 0 1.2 0a0.6 0.6 0 1 0 -1.2 0M1433.6 1348.8a0.8 0.8 0 1 0 1.6 0a0.8 0.8 0 1 0 -1.6 0M1426.5 1357.1a0.6 0.6 0 1 0 1.2 0a0.6 0.6 0 1 0 -1.2 0M1416.4 1335.0a0.8 0.8 0 1 0 1.6 0a0.8 0.8 0 1 0 -1.6 0M1431.3 1356.3a0.7 0.7 0 1 0 1.4 0a0.7 0.7 0 1 0 -1.4 0M1417.6 1330.7a0.8 0.8 0 1 0 1.6 0a0.8 0.8 0 1 0 -1.6 0M1417.5 1331.3a0.6 0.6 0 1 0 1.2 0a0.6 0.6 0 1 0 -1.2 0M1426.9 1343.9a0.6 0.6 0 1 0 1.2 0a0.6 0.6 0 1 0 -1.2 0M1423.5 1334.7a1.0 1.0 0 1 0 2.0 0a1.0 1.0 0 1 0 -2.0 0M1424.0 1365.9a1.0 1.0 0 1 0 2.0 0a1.0 1.0 0 1 0 -2.0 0M1420.3 1334.6a1.2 1.2 0 1 0 2.4 0a1.2 1.2 0 1 0 -2.4 0M1412.1 1335.4a1.2 1.2 0 1 0 2.4 0a1.2 1.2 0 1 0 -2.4 0M1421.0 1339.1a0.7 0.7 0 1 0 1.4 0a0.7 0.7 0 1 0 -1.4 0M1423.2 1345.0a0.7 0.7 0 1 0 1.4 0a0.7 0.7 0 1 0 -1.4 0M1402.9 1312.3a0.6 0.6 0 1 0 1.2 0a0.6 0.6 0 1 0 -1.2 0M1423.5 1340.0a0.7 0.7 0 1 0 1.4 0a0.7 0.7 0 1 0 -1.4 0M1421.4 1351.0a0.8 0.8 0 1 0 1.6 0a0.8 0.8 0 1 0 -1.6 0M1410.5 1318.7a0.8 0.8 0 1 0 1.6 0a0.8 0.8 0 1 0 -1.6 0M1424.8 1340.5a0.6 0.6 0 1 0 1.2 0a0.6 0.6 0 1 0 -1.2 0M1415.1 1330.2a1.0 1.0 0 1 0 2.0 0a1.0 1.0 0 1 0 -2.0 0M1429.6 1355.9a1.0 1.0 0 1 0 2.0 0a1.0 1.0 0 1 0 -2.0 0M1415.1 1343.7a0.6 0.6 0 1 0 1.2 0a0.6 0.6 0 1 0 -1.2 0M1416.5 1337.7a1.0 1.0 0 1 0 2.0 0a1.0 1.0 0 1 0 -2.0 0M1424.3 1349.5a1.2 1.2 0 1 0 2.4 0a1.2 1.2 0 1 0 -2.4 0M1425.6 1339.6a0.6 0.6 0 1 0 1.2 0a0.6 0.6 0 1 0 -1.2 0M1421.4 1334.6a0.6 0.6 0 1 0 1.2 0a0.6 0.6 0 1 0 -1.2 0M1414.2 1340.0a1.2 1.2 0 1 0 2.4 0a1.2 1.2 0 1 0 -2.4 0M1422.9 1348.1a0.7 0.7 0 1 0 1.4 0a0.7 0.7 0 1 0 -1.4 0M1427.0 1325.3a1.0 1.0 0 1 0 2.0 0a1.0 1.0 0 1 0 -2.0 0M1432.9 1341.7a1.2 1.2 0 1 0 2.4 0a1.2 1.2 0 1 0 -2.4 0M1428.5 1343.2a0.8 0.8 0 1 0 1.6 0a0.8 0.8 0 1 0 -1.6 0M1420.0 1316.2a1.2 1.2 0 1 0 2.4 0a1.2 1.2 0 1 0 -2.4 0M1414.7 1345.5a0.6 0.6 0 1 0 1.2 0a0.6 0.6 0 1 0 -1.2 0M1471.9 1395.6a1.2 1.2 0 1 0 2.4 0a1.2 1.2 0 1 0 -2.4 0M1458.5 1389.6a1.2 1.2 0 1 0 2.4 0a1.2 1.2 0 1 0 -2.4 0M1473.6 1388.9a0.8 0.8 0 1 0 1.6 0a0.8 0.8 0 1 0 -1.6 0M1472.5 1412.6a0.8 0.8 0 1 0 1.6 0a0.8 0.8 0 1 0 -1.6 0M1465.3 1399.1a0.8 0.8 0 1 0 1.6 0a0.8 0.8 0 1 0 -1.6 0M1469.2 1396.6a0.8 0.8 0 1 0 1.6 0a0.8 0.8 0 1 0 -1.6 0M1470.5 1397.2a0.8 0.8 0 1 0 1.6 0a0.8 0.8 0 1 0 -1.6 0M1474.0 1399.6a1.2 1.2 0 1 0 2.4 0a1.2 1.2 0 1 0 -2.4 0M1471.5 1407.3a1.0 1.0 0 1 0 2.0 0a1.0 1.0 0 1 0 -2.0 0M1459.7 1396.0a1.0 1.0 0 1 0 2.0 0a1.0 1.0 0 1 0 -2.0 0M1476.3 1402.8a1.2 1.2 0 1 0 2.4 0a1.2 1.2 0 1 0 -2.4 0M1469.9 1401.5a0.7 0.7 0 1 0 1.4 0a0.7 0.7 0 1 0 -1.4 0M1466.5 1396.0a0.6 0.6 0 1 0 1.2 0a0.6 0.6 0 1 0 -1.2 0M1472.5 1407.6a0.8 0.8 0 1 0 1.6 0a0.8 0.8 0 1 0 -1.6 0M1467.9 1393.3a0.6 0.6 0 1 0 1.2 0a0.6 0.6 0 1 0 -1.2 0M1472.8 1384.8a1.0 1.0 0 1 0 2.0 0a1.0 1.0 0 1 0 -2.0 0M1468.1 1399.9a1.0 1.0 0 1 0 2.0 0a1.0 1.0 0 1 0 -2.0 0M1468.9 1410.8a0.7 0.7 0 1 0 1.4 0a0.7 0.7 0 1 0 -1.4 0M1473.3 1395.5a0.7 0.7 0 1 0 1.4 0a0.7 0.7 0 1 0 -1.4 0M1472.2 1405.2a1.0 1.0 0 1 0 2.0 0a1.0 1.0 0 1 0 -2.0 0M1474.4 1411.3a1.2 1.2 0 1 0 2.4 0a1.2 1.2 0 1 0 -2.4 0M1471.7 1394.6a1.0 1.0 0 1 0 2.0 0a1.0 1.0 0 1 0 -2.0 0M1465.5 1405.9a1.2 1.2 0 1 0 2.4 0a1.2 1.2 0 1 0 -2.4 0M1468.4 1396.8a0.7 0.7 0 1 0 1.4 0a0.7 0.7 0 1 0 -1.4 0M1470.4 1395.9a1.0 1.0 0 1 0 2.0 0a1.0 1.0 0 1 0 -2.0 0M1473.6 1403.2a0.6 0.6 0 1 0 1.2 0a0.6 0.6 0 1 0 -1.2 0M1467.7 1400.4a0.8 0.8 0 1 0 1.6 0a0.8 0.8 0 1 0 -1.6 0M1465.5 1403.2a0.7 0.7 0 1 0 1.4 0a0.7 0.7 0 1 0 -1.4 0M1459.5 1389.7a1.0 1.0 0 1 0 2.0 0a1.0 1.0 0 1 0 -2.0 0M1476.2 1404.8a0.7 0.7 0 1 0 1.4 0a0.7 0.7 0 1 0 -1.4 0M1447.4 1374.2a0.8 0.8 0 1 0 1.6 0a0.8 0.8 0 1 0 -1.6 0M1439.3 1373.2a0.8 0.8 0 1 0 1.6 0a0.8 0.8 0 1 0 -1.6 0M1446.2 1372.7a1.2 1.2 0 1 0 2.4 0a1.2 1.2 0 1 0 -2.4 0M1435.5 1355.9a0.6 0.6 0 1 0 1.2 0a0.6 0.6 0 1 0 -1.2 0M1437.2 1378.8a0.7 0.7 0 1 0 1.4 0a0.7 0.7 0 1 0 -1.4 0M1437.0 1359.6a1.0 1.0 0 1 0 2.0 0a1.0 1.0 0 1 0 -2.0 0M1425.8 1367.6a0.6 0.6 0 1 0 1.2 0a0.6 0.6 0 1 0 -1.2 0M1444.9 1380.9a0.6 0.6 0 1 0 1.2 0a0.6 0.6 0 1 0 -1.2 0M1445.1 1382.0a1.0 1.0 0 1 0 2.0 0a1.0 1.0 0 1 0 -2.0 0M1463.5 1395.5a0.8 0.8 0 1 0 1.6 0a0.8 0.8 0 1 0 -1.6 0M1466.6 1394.6a1.0 1.0 0 1 0 2.0 0a1.0 1.0 0 1 0 -2.0 0M1452.4 1385.3a1.0 1.0 0 1 0 2.0 0a1.0 1.0 0 1 0 -2.0 0M1440.0 1377.7a0.8 0.8 0 1 0 1.6 0a0.8 0.8 0 1 0 -1.6 0M1448.3 1387.7a1.0 1.0 0 1 0 2.0 0a1.0 1.0 0 1 0 -2.0 0M1449.1 1387.8a0.6 0.6 0 1 0 1.2 0a0.6 0.6 0 1 0 -1.2 0M1456.5 1390.9a0.8 0.8 0 1 0 1.6 0a0.8 0.8 0 1 0 -1.6 0M1434.6 1375.9a1.0 1.0 0 1 0 2.0 0a1.0 1.0 0 1 0 -2.0 0M1445.4 1383.4a0.8 0.8 0 1 0 1.6 0a0.8 0.8 0 1 0 -1.6 0M1469.0 1401.1a0.6 0.6 0 1 0 1.2 0a0.6 0.6 0 1 0 -1.2 0M1475.2 1417.6a0.6 0.6 0 1 0 1.2 0a0.6 0.6 0 1 0 -1.2 0M1495.5 1440.7a0.6 0.6 0 1 0 1.2 0a0.6 0.6 0 1 0 -1.2 0M1480.0 1422.8a0.6 0.6 0 1 0 1.2 0a0.6 0.6 0 1 0 -1.2 0M1494.2 1441.2a1.0 1.0 0 1 0 2.0 0a1.0 1.0 0 1 0 -2.0 0M1478.5 1420.8a0.8 0.8 0 1 0 1.6 0a0.8 0.8 0 1 0 -1.6 0M1487.9 1430.3a0.8 0.8 0 1 0 1.6 0a0.8 0.8 0 1 0 -1.6 0M1506.9 1448.6a0.8 0.8 0 1 0 1.6 0a0.8 0.8 0 1 0 -1.6 0M1486.4 1429.3a1.0 1.0 0 1 0 2.0 0a1.0 1.0 0 1 0 -2.0 0M1487.6 1429.4a0.8 0.8 0 1 0 1.6 0a0.8 0.8 0 1 0 -1.6 0M1483.7 1427.0a0.8 0.8 0 1 0 1.6 0a0.8 0.8 0 1 0 -1.6 0M1497.4 1440.0a0.8 0.8 0 1 0 1.6 0a0.8 0.8 0 1 0 -1.6 0M1486.2 1430.6a1.0 1.0 0 1 0 2.0 0a1.0 1.0 0 1 0 -2.0 0M1506.0 1456.0a0.6 0.6 0 1 0 1.2 0a0.6 0.6 0 1 0 -1.2 0M1509.6 1458.5a0.6 0.6 0 1 0 1.2 0a0.6 0.6 0 1 0 -1.2 0M1479.1 1418.8a1.0 1.0 0 1 0 2.0 0a1.0 1.0 0 1 0 -2.0 0M1476.3 1419.7a1.0 1.0 0 1 0 2.0 0a1.0 1.0 0 1 0 -2.0 0M1500.6 1444.4a0.6 0.6 0 1 0 1.2 0a0.6 0.6 0 1 0 -1.2 0M1482.8 1431.2a0.6 0.6 0 1 0 1.2 0a0.6 0.6 0 1 0 -1.2 0M1515.3 1460.6a0.6 0.6 0 1 0 1.2 0a0.6 0.6 0 1 0 -1.2 0M1510.4 1457.9a0.8 0.8 0 1 0 1.6 0a0.8 0.8 0 1 0 -1.6 0M1486.3 1426.2a0.8 0.8 0 1 0 1.6 0a0.8 0.8 0 1 0 -1.6 0M1510.5 1457.7a0.8 0.8 0 1 0 1.6 0a0.8 0.8 0 1 0 -1.6 0M1345.0 1248.9a1 1 0 1 0 2 0a1 1 0 1 0 -2 0" fill="#E000E0" fill-opacity="0.6" style="mix-blend-mode:screen"/>
<path d="M1404.2 1279.7a1.2 1.2 0 1 0 2.4 0a1.2 1.2 0 1 0 -2.4 0M1402.2 1262.3a0.7 0.7 0 1 0 1.4 0a0.7 0.7 0 1 0 -1.4 0M1403.7 1264.2a0.8 0.8 0 1 0 1.6 0a0.8 0.8 0 1 0 -1.6 0M1400.6 1271.4a0.6 0.6 0 1 0 1.2 0a0.6 0.6 0 1 0 -1.2 0M1394.8 1287.5a1.0 1.0 0 1 0 2.0 0a1.0 1.0 0 1 0 -2.0 0M1395.6 1276.6a0.8 0.8 0 1 0 1.6 0a0.8 0.8 0 1 0 -1.6 0M1402.2 1275.2a1.0 1.0 0 1 0 2.0 0a1.0 1.0 0 1 0 -2.0 0M1404.5 1278.8a1.2 1.2 0 1 0 2.4 0a1.2 1.2 0 1 0 -2.4 0M1391.0 1278.2a0.8 0.8 0 1 0 1.6 0a0.8 0.8 0 1 0 -1.6 0M1404.6 1269.7a1.0 1.0 0 1 0 2.0 0a1.0 1.0 0 1 0 -2.0 0M1405.7 1279.0a0.6 0.6 0 1 0 1.2 0a0.6 0.6 0 1 0 -1.2 0M1403.5 1294.5a0.7 0.7 0 1 0 1.4 0a0.7 0.7 0 1 0 -1.4 0M1403.2 1290.2a0.6 0.6 0 1 0 1.2 0a0.6 0.6 0 1 0 -1.2 0M1409.5 1273.4a0.8 0.8 0 1 0 1.6 0a0.8 0.8 0 1 0 -1.6 0M1398.5 1277.2a1.0 1.0 0 1 0 2.0 0a1.0 1.0 0 1 0 -2.0 0M1398.8 1299.8a0.7 0.7 0 1 0 1.4 0a0.7 0.7 0 1 0 -1.4 0M1397.1 1282.9a0.7 0.7 0 1 0 1.4 0a0.7 0.7 0 1 0 -1.4 0M1400.5 1273.1a1.2 1.2 0 1 0 2.4 0a1.2 1.2 0 1 0 -2.4 0M1398.4 1289.4a1.0 1.0 0 1 0 2.0 0a1.0 1.0 0 1 0 -2.0 0M1407.8 1268.2a0.6 0.6 0 1 0 1.2 0a0.6 0.6 0 1 0 -1.2 0M1401.4 1271.3a1.2 1.2 0 1 0 2.4 0a1.2 1.2 0 1 0 -2.4 0M1410.1 1273.5a0.8 0.8 0 1 0 1.6 0a0.8 0.8 0 1 0 -1.6 0M1390.5 1260.5a0.6 0.6 0 1 0 1.2 0a0.6 0.6 0 1 0 -1.2 0M1395.1 1286.2a0.7 0.7 0 1 0 1.4 0a0.7 0.7 0 1 0 -1.4 0M1404.2 1283.5a1.0 1.0 0 1 0 2.0 0a1.0 1.0 0 1 0 -2.0 0M1396.4 1279.9a0.7 0.7 0 1 0 1.4 0a0.7 0.7 0 1 0 -1.4 0M1398.5 1289.1a0.8 0.8 0 1 0 1.6 0a0.8 0.8 0 1 0 -1.6 0M1395.7 1280.7a1.0 1.0 0 1 0 2.0 0a1.0 1.0 0 1 0 -2.0 0M1395.6 1267.0a0.7 0.7 0 1 0 1.4 0a0.7 0.7 0 1 0 -1.4 0M1407.7 1270.4a0.6 0.6 0 1 0 1.2 0a0.6 0.6 0 1 0 -1.2 0M1404.0 1289.8a0.6 0.6 0 1 0 1.2 0a0.6 0.6 0 1 0 -1.2 0M1404.0 1269.8a0.6 0.6 0 1 0 1.2 0a0.6 0.6 0 1 0 -1.2 0M1398.6 1285.0a1.0 1.0 0 1 0 2.0 0a1.0 1.0 0 1 0 -2.0 0M1400.5 1331.7a0.7 0.7 0 1 0 1.4 0a0.7 0.7 0 1 0 -1.4 0M1402.2 1334.5a0.8 0.8 0 1 0 1.6 0a0.8 0.8 0 1 0 -1.6 0M1390.1 1335.9a0.8 0.8 0 1 0 1.6 0a0.8 0.8 0 1 0 -1.6 0M1382.6 1317.6a1.0 1.0 0 1 0 2.0 0a1.0 1.0 0 1 0 -2.0 0M1400.2 1326.6a0.6 0.6 0 1 0 1.2 0a0.6 0.6 0 1 0 -1.2 0M1394.4 1331.0a1.2 1.2 0 1 0 2.4 0a1.2 1.2 0 1 0 -2.4 0M1388.7 1318.7a1.2 1.2 0 1 0 2.4 0a1.2 1.2 0 1 0 -2.4 0M1393.6 1328.8a1.2 1.2 0 1 0 2.4 0a1.2 1.2 0 1 0 -2.4 0M1403.4 1331.9a0.7 0.7 0 1 0 1.4 0a0.7 0.7 0 1 0 -1.4 0M1387.4 1321.6a0.8 0.8 0 1 0 1.6 0a0.8 0.8 0 1 0 -1.6 0M1388.3 1330.0a0.7 0.7 0 1 0 1.4 0a0.7 0.7 0 1 0 -1.4 0M1383.4 1336.1a0.8 0.8 0 1 0 1.6 0a0.8 0.8 0 1 0 -1.6 0M1393.2 1340.1a0.8 0.8 0 1 0 1.6 0a0.8 0.8 0 1 0 -1.6 0M1400.1 1327.7a0.8 0.8 0 1 0 1.6 0a0.8 0.8 0 1 0 -1.6 0M1390.7 1336.7a1.2 1.2 0 1 0 2.4 0a1.2 1.2 0 1 0 -2.4 0M1395.5 1332.9a0.8 0.8 0 1 0 1.6 0a0.8 0.8 0 1 0 -1.6 0M1387.5 1337.4a0.8 0.8 0 1 0 1.6 0a0.8 0.8 0 1 0 -1.6 0M1397.5 1342.0a0.8 0.8 0 1 0 1.6 0a0.8 0.8 0 1 0 -1.6 0M1396.4 1334.1a0.7 0.7 0 1 0 1.4 0a0.7 0.7 0 1 0 -1.4 0M1401.3 1324.8a1.2 1.2 0 1 0 2.4 0a1.2 1.2 0 1 0 -2.4 0M1393.3 1330.1a0.6 0.6 0 1 0 1.2 0a0.6 0.6 0 1 0 -1.2 0M1393.7 1322.6a0.6 0.6 0 1 0 1.2 0a0.6 0.6 0 1 0 -1.2 0M1392.8 1327.1a1.2 1.2 0 1 0 2.4 0a1.2 1.2 0 1 0 -2.4 0M1394.1 1323.2a1.0 1.0 0 1 0 2.0 0a1.0 1.0 0 1 0 -2.0 0M1390.5 1333.2a1.2 1.2 0 1 0 2.4 0a1.2 1.2 0 1 0 -2.4 0M1395.3 1340.2a0.8 0.8 0 1 0 1.6 0a0.8 0.8 0 1 0 -1.6 0M1401.5 1337.0a0.8 0.8 0 1 0 1.6 0a0.8 0.8 0 1 0 -1.6 0M1400.2 1316.4a0.6 0.6 0 1 0 1.2 0a0.6 0.6 0 1 0 -1.2 0M1384.3 1326.2a1.0 1.0 0 1 0 2.0 0a1.0 1.0 0 1 0 -2.0 0M1394.8 1318.7a0.8 0.8 0 1 0 1.6 0a0.8 0.8 0 1 0 -1.6 0M1389.7 1332.6a0.8 0.8 0 1 0 1.6 0a0.8 0.8 0 1 0 -1.6 0M1387.2 1329.7a0.7 0.7 0 1 0 1.4 0a0.7 0.7 0 1 0 -1.4 0M1394.1 1325.9a0.8 0.8 0 1 0 1.6 0a0.8 0.8 0 1 0 -1.6 0M1403.1 1329.8a1.2 1.2 0 1 0 2.4 0a1.2 1.2 0 1 0 -2.4 0M1399.9 1339.7a0.8 0.8 0 1 0 1.6 0a0.8 0.8 0 1 0 -1.6 0M1392.9 1328.6a1.0 1.0 0 1 0 2.0 0a1.0 1.0 0 1 0 -2.0 0M1391.9 1329.7a0.6 0.6 0 1 0 1.2 0a0.6 0.6 0 1 0 -1.2 0M1381.3 1334.7a0.7 0.7 0 1 0 1.4 0a0.7 0.7 0 1 0 -1.4 0M1392.2 1329.0a0.8 0.8 0 1 0 1.6 0a0.8 0.8 0 1 0 -1.6 0M1396.5 1339.2a0.8 0.8 0 1 0 1.6 0a0.8 0.8 0 1 0 -1.6 0M1402.0 1329.5a1.0 1.0 0 1 0 2.0 0a1.0 1.0 0 1 0 -2.0 0M1396.5 1323.8a0.6 0.6 0 1 0 1.2 0a0.6 0.6 0 1 0 -1.2 0M1389.6 1334.0a1.2 1.2 0 1 0 2.4 0a1.2 1.2 0 1 0 -2.4 0M1396.4 1345.6a1.0 1.0 0 1 0 2.0 0a1.0 1.0 0 1 0 -2.0 0M1396.4 1322.9a0.8 0.8 0 1 0 1.6 0a0.8 0.8 0 1 0 -1.6 0M1388.5 1315.2a0.7 0.7 0 1 0 1.4 0a0.7 0.7 0 1 0 -1.4 0M1402.1 1328.9a0.6 0.6 0 1 0 1.2 0a0.6 0.6 0 1 0 -1.2 0M1386.0 1330.9a0.7 0.7 0 1 0 1.4 0a0.7 0.7 0 1 0 -1.4 0M1399.1 1339.9a1.0 1.0 0 1 0 2.0 0a1.0 1.0 0 1 0 -2.0 0M1431.6 1347.4a1.0 1.0 0 1 0 2.0 0a1.0 1.0 0 1 0 -2.0 0M1421.2 1342.7a1.2 1.2 0 1 0 2.4 0a1.2 1.2 0 1 0 -2.4 0M1420.2 1351.1a0.6 0.6 0 1 0 1.2 0a0.6 0.6 0 1 0 -1.2 0M1427.6 1340.0a1.2 1.2 0 1 0 2.4 0a1.2 1.2 0 1 0 -2.4 0M1431.3 1356.0a1.2 1.2 0 1 0 2.4 0a1.2 1.2 0 1 0 -2.4 0M1421.9 1326.7a0.7 0.7 0 1 0 1.4 0a0.7 0.7 0 1 0 -1.4 0M1436.1 1343.5a0.6 0.6 0 1 0 1.2 0a0.6 0.6 0 1 0 -1.2 0M1424.1 1337.6a1.2 1.2 0 1 0 2.4 0a1.2 1.2 0 1 0 -2.4 0M1432.5 1337.1a0.6 0.6 0 1 0 1.2 0a0.6 0.6 0 1 0 -1.2 0M1422.4 1317.5a1.0 1.0 0 1 0 2.0 0a1.0 1.0 0 1 0 -2.0 0M1414.9 1317.2a0.6 0.6 0 1 0 1.2 0a0.6 0.6 0 1 0 -1.2 0M1422.8 1344.8a0.6 0.6 0 1 0 1.2 0a0.6 0.6 0 1 0 -1.2 0M1431.4 1333.8a1.2 1.2 0 1 0 2.4 0a1.2 1.2 0 1 0 -2.4 0M1429.4 1342.4a1.2 1.2 0 1 0 2.4 0a1.2 1.2 0 1 0 -2.4 0M1419.3 1334.7a0.6 0.6 0 1 0 1.2 0a0.6 0.6 0 1 0 -1.2 0M1412.1 1333.9a0.6 0.6 0 1 0 1.2 0a0.6 0.6 0 1 0 -1.2 0M1427.8 1333.7a0.6 0.6 0 1 0 1.2 0a0.6 0.6 0 1 0 -1.2 0M1421.8 1347.5a1.0 1.0 0 1 0 2.0 0a1.0 1.0 0 1 0 -2.0 0M1415.9 1363.7a1.2 1.2 0 1 0 2.4 0a1.2 1.2 0 1 0 -2.4 0M1422.6 1348.5a0.8 0.8 0 1 0 1.6 0a0.8 0.8 0 1 0 -1.6 0M1425.2 1349.2a0.6 0.6 0 1 0 1.2 0a0.6 0.6 0 1 0 -1.2 0M1417.0 1339.2a0.8 0.8 0 1 0 1.6 0a0.8 0.8 0 1 0 -1.6 0M1410.9 1318.0a0.8 0.8 0 1 0 1.6 0a0.8 0.8 0 1 0 -1.6 0M1438.0 1350.4a1.2 1.2 0 1 0 2.4 0a1.2 1.2 0 1 0 -2.4 0M1410.6 1330.7a0.6 0.6 0 1 0 1.2 0a0.6 0.6 0 1 0 -1.2 0M1424.8 1349.0a0.7 0.7 0 1 0 1.4 0a0.7 0.7 0 1 0 -1.4 0M1417.6 1334.7a1.0 1.0 0 1 0 2.0 0a1.0 1.0 0 1 0 -2.0 0M1423.7 1341.7a0.6 0.6 0 1 0 1.2 0a0.6 0.6 0 1 0 -1.2 0M1418.3 1353.9a0.7 0.7 0 1 0 1.4 0a0.7 0.7 0 1 0 -1.4 0M1414.6 1344.0a0.6 0.6 0 1 0 1.2 0a0.6 0.6 0 1 0 -1.2 0M1417.8 1334.9a0.6 0.6 0 1 0 1.2 0a0.6 0.6 0 1 0 -1.2 0M1426.7 1323.4a1.0 1.0 0 1 0 2.0 0a1.0 1.0 0 1 0 -2.0 0M1423.0 1340.7a0.8 0.8 0 1 0 1.6 0a0.8 0.8 0 1 0 -1.6 0M1429.0 1354.3a1.2 1.2 0 1 0 2.4 0a1.2 1.2 0 1 0 -2.4 0M1425.1 1331.5a0.7 0.7 0 1 0 1.4 0a0.7 0.7 0 1 0 -1.4 0M1426.5 1334.6a0.7 0.7 0 1 0 1.4 0a0.7 0.7 0 1 0 -1.4 0M1406.8 1329.3a0.6 0.6 0 1 0 1.2 0a0.6 0.6 0 1 0 -1.2 0M1427.4 1337.0a0.6 0.6 0 1 0 1.2 0a0.6 0.6 0 1 0 -1.2 0M1417.2 1351.0a0.6 0.6 0 1 0 1.2 0a0.6 0.6 0 1 0 -1.2 0M1418.2 1340.3a0.8 0.8 0 1 0 1.6 0a0.8 0.8 0 1 0 -1.6 0M1425.1 1332.2a0.7 0.7 0 1 0 1.4 0a0.7 0.7 0 1 0 -1.4 0M1427.4 1346.9a0.6 0.6 0 1 0 1.2 0a0.6 0.6 0 1 0 -1.2 0M1417.2 1324.9a1.0 1.0 0 1 0 2.0 0a1.0 1.0 0 1 0 -2.0 0M1417.1 1334.0a0.7 0.7 0 1 0 1.4 0a0.7 0.7 0 1 0 -1.4 0M1411.8 1331.0a0.6 0.6 0 1 0 1.2 0a0.6 0.6 0 1 0 -1.2 0M1423.4 1335.6a0.6 0.6 0 1 0 1.2 0a0.6 0.6 0 1 0 -1.2 0M1424.6 1348.7a0.8 0.8 0 1 0 1.6 0a0.8 0.8 0 1 0 -1.6 0M1425.7 1347.0a0.6 0.6 0 1 0 1.2 0a0.6 0.6 0 1 0 -1.2 0M1421.6 1355.6a0.7 0.7 0 1 0 1.4 0a0.7 0.7 0 1 0 -1.4 0M1421.7 1333.0a0.8 0.8 0 1 0 1.6 0a0.8 0.8 0 1 0 -1.6 0M1414.8 1341.9a0.7 0.7 0 1 0 1.4 0a0.7 0.7 0 1 0 -1.4 0M1418.0 1347.1a0.6 0.6 0 1 0 1.2 0a0.6 0.6 0 1 0 -1.2 0M1415.9 1343.8a1.2 1.2 0 1 0 2.4 0a1.2 1.2 0 1 0 -2.4 0M1410.7 1326.3a0.7 0.7 0 1 0 1.4 0a0.7 0.7 0 1 0 -1.4 0M1431.0 1353.4a0.8 0.8 0 1 0 1.6 0a0.8 0.8 0 1 0 -1.6 0M1424.3 1353.7a1.0 1.0 0 1 0 2.0 0a1.0 1.0 0 1 0 -2.0 0M1413.0 1319.7a0.8 0.8 0 1 0 1.6 0a0.8 0.8 0 1 0 -1.6 0M1422.9 1340.4a1.0 1.0 0 1 0 2.0 0a1.0 1.0 0 1 0 -2.0 0M1419.4 1348.8a0.8 0.8 0 1 0 1.6 0a0.8 0.8 0 1 0 -1.6 0M1413.6 1345.6a0.8 0.8 0 1 0 1.6 0a0.8 0.8 0 1 0 -1.6 0M1419.9 1324.8a0.8 0.8 0 1 0 1.6 0a0.8 0.8 0 1 0 -1.6 0M1419.0 1336.4a0.7 0.7 0 1 0 1.4 0a0.7 0.7 0 1 0 -1.4 0M1414.4 1331.4a1.2 1.2 0 1 0 2.4 0a1.2 1.2 0 1 0 -2.4 0M1409.5 1318.3a1.0 1.0 0 1 0 2.0 0a1.0 1.0 0 1 0 -2.0 0M1477.6 1406.8a0.8 0.8 0 1 0 1.6 0a0.8 0.8 0 1 0 -1.6 0M1469.5 1400.8a0.8 0.8 0 1 0 1.6 0a0.8 0.8 0 1 0 -1.6 0M1469.6 1397.9a1.2 1.2 0 1 0 2.4 0a1.2 1.2 0 1 0 -2.4 0M1470.2 1398.0a1.2 1.2 0 1 0 2.4 0a1.2 1.2 0 1 0 -2.4 0M1467.9 1397.5a1.0 1.0 0 1 0 2.0 0a1.0 1.0 0 1 0 -2.0 0M1470.8 1411.5a0.8 0.8 0 1 0 1.6 0a0.8 0.8 0 1 0 -1.6 0M1470.2 1406.0a0.6 0.6 0 1 0 1.2 0a0.6 0.6 0 1 0 -1.2 0M1464.5 1400.8a1.2 1.2 0 1 0 2.4 0a1.2 1.2 0 1 0 -2.4 0M1471.7 1405.9a0.7 0.7 0 1 0 1.4 0a0.7 0.7 0 1 0 -1.4 0M1469.9 1400.1a0.7 0.7 0 1 0 1.4 0a0.7 0.7 0 1 0 -1.4 0M1469.8 1413.2a0.7 0.7 0 1 0 1.4 0a0.7 0.7 0 1 0 -1.4 0M1473.1 1391.4a0.7 0.7 0 1 0 1.4 0a0.7 0.7 0 1 0 -1.4 0M1469.7 1401.9a0.7 0.7 0 1 0 1.4 0a0.7 0.7 0 1 0 -1.4 0M1471.2 1398.0a0.7 0.7 0 1 0 1.4 0a0.7 0.7 0 1 0 -1.4 0M1476.7 1410.0a0.7 0.7 0 1 0 1.4 0a0.7 0.7 0 1 0 -1.4 0M1470.8 1397.7a1.2 1.2 0 1 0 2.4 0a1.2 1.2 0 1 0 -2.4 0M1475.3 1402.7a1.2 1.2 0 1 0 2.4 0a1.2 1.2 0 1 0 -2.4 0M1466.0 1404.0a1.2 1.2 0 1 0 2.4 0a1.2 1.2 0 1 0 -2.4 0M1473.3 1396.5a0.7 0.7 0 1 0 1.4 0a0.7 0.7 0 1 0 -1.4 0M1466.9 1396.4a1.0 1.0 0 1 0 2.0 0a1.0 1.0 0 1 0 -2.0 0M1470.0 1392.0a0.8 0.8 0 1 0 1.6 0a0.8 0.8 0 1 0 -1.6 0M1464.2 1394.1a1.0 1.0 0 1 0 2.0 0a1.0 1.0 0 1 0 -2.0 0M1480.8 1406.2a0.6 0.6 0 1 0 1.2 0a0.6 0.6 0 1 0 -1.2 0M1434.7 1375.0a0.6 0.6 0 1 0 1.2 0a0.6 0.6 0 1 0 -1.2 0M1455.5 1391.0a1.0 1.0 0 1 0 2.0 0a1.0 1.0 0 1 0 -2.0 0M1429.0 1368.6a0.6 0.6 0 1 0 1.2 0a0.6 0.6 0 1 0 -1.2 0M1446.8 1381.7a0.8 0.8 0 1 0 1.6 0a0.8 0.8 0 1 0 -1.6 0M1445.2 1379.3a1.0 1.0 0 1 0 2.0 0a1.0 1.0 0 1 0 -2.0 0M1434.6 1372.5a0.6 0.6 0 1 0 1.2 0a0.6 0.6 0 1 0 -1.2 0M1467.8 1397.0a0.6 0.6 0 1 0 1.2 0a0.6 0.6 0 1 0 -1.2 0M1429.8 1371.7a1.0 1.0 0 1 0 2.0 0a1.0 1.0 0 1 0 -2.0 0M1479.5 1424.2a1.0 1.0 0 1 0 2.0 0a1.0 1.0 0 1 0 -2.0 0M1498.4 1445.6a1.0 1.0 0 1 0 2.0 0a1.0 1.0 0 1 0 -2.0 0M1474.5 1416.2a1.0 1.0 0 1 0 2.0 0a1.0 1.0 0 1 0 -2.0 0M1502.8 1451.8a0.6 0.6 0 1 0 1.2 0a0.6 0.6 0 1 0 -1.2 0M1482.9 1429.7a0.6 0.6 0 1 0 1.2 0a0.6 0.6 0 1 0 -1.2 0M1529.4 1373.9a1.1 1.1 0 1 0 2.2 0a1.1 1.1 0 1 0 -2.2 0M1511.5 1460.9a1.5 1.5 0 1 0 3.0 0a1.5 1.5 0 1 0 -3.0 0" fill="#E000E0" fill-opacity="0.8" style="mix-blend-mode:screen"/>
<path d="M1402.1 1334.5a1.0 1.0 0 1 0 2.0 0a1.0 1.0 0 1 0 -2.0 0M1397.0 1336.4a0.6 0.6 0 1 0 1.2 0a0.6 0.6 0 1 0 -1.2 0M1395.7 1335.9a1.2 1.2 0 1 0 2.4 0a1.2 1.2 0 1 0 -2.4 0M1392.1 1337.7a1.0 1.0 0 1 0 2.0 0a1.0 1.0 0 1 0 -2.0 0M1382.9 1337.2a0.7 0.7 0 1 0 1.4 0a0.7 0.7 0 1 0 -1.4 0M1387.8 1331.9a0.6 0.6 0 1 0 1.2 0a0.6 0.6 0 1 0 -1.2 0M1385.5 1333.5a0.6 0.6 0 1 0 1.2 0a0.6 0.6 0 1 0 -1.2 0M1394.0 1327.8a0.7 0.7 0 1 0 1.4 0a0.7 0.7 0 1 0 -1.4 0M1393.2 1315.8a1.2 1.2 0 1 0 2.4 0a1.2 1.2 0 1 0 -2.4 0M1390.8 1328.3a0.6 0.6 0 1 0 1.2 0a0.6 0.6 0 1 0 -1.2 0M1394.6 1337.6a0.7 0.7 0 1 0 1.4 0a0.7 0.7 0 1 0 -1.4 0M1389.4 1328.5a1.2 1.2 0 1 0 2.4 0a1.2 1.2 0 1 0 -2.4 0M1401.9 1326.1a0.6 0.6 0 1 0 1.2 0a0.6 0.6 0 1 0 -1.2 0M1391.1 1331.0a0.6 0.6 0 1 0 1.2 0a0.6 0.6 0 1 0 -1.2 0M1390.3 1336.6a1.0 1.0 0 1 0 2.0 0a1.0 1.0 0 1 0 -2.0 0M1384.6 1326.1a0.6 0.6 0 1 0 1.2 0a0.6 0.6 0 1 0 -1.2 0M1391.3 1333.0a0.8 0.8 0 1 0 1.6 0a0.8 0.8 0 1 0 -1.6 0M1390.2 1339.4a1.2 1.2 0 1 0 2.4 0a1.2 1.2 0 1 0 -2.4 0M1399.7 1326.6a0.8 0.8 0 1 0 1.6 0a0.8 0.8 0 1 0 -1.6 0M1379.9 1346.0a0.6 0.6 0 1 0 1.2 0a0.6 0.6 0 1 0 -1.2 0M1399.8 1336.3a1.0 1.0 0 1 0 2.0 0a1.0 1.0 0 1 0 -2.0 0M1421.3 1334.6a0.8 0.8 0 1 0 1.6 0a0.8 0.8 0 1 0 -1.6 0M1421.6 1336.3a0.6 0.6 0 1 0 1.2 0a0.6 0.6 0 1 0 -1.2 0M1420.9 1341.6a1.0 1.0 0 1 0 2.0 0a1.0 1.0 0 1 0 -2.0 0M1428.0 1352.1a0.8 0.8 0 1 0 1.6 0a0.8 0.8 0 1 0 -1.6 0M1415.0 1339.5a1.2 1.2 0 1 0 2.4 0a1.2 1.2 0 1 0 -2.4 0M1432.0 1337.5a0.6 0.6 0 1 0 1.2 0a0.6 0.6 0 1 0 -1.2 0M1424.0 1348.8a0.8 0.8 0 1 0 1.6 0a0.8 0.8 0 1 0 -1.6 0M1412.3 1336.2a1.2 1.2 0 1 0 2.4 0a1.2 1.2 0 1 0 -2.4 0M1416.8 1350.3a0.6 0.6 0 1 0 1.2 0a0.6 0.6 0 1 0 -1.2 0M1417.2 1341.1a1.0 1.0 0 1 0 2.0 0a1.0 1.0 0 1 0 -2.0 0M1426.8 1347.3a0.8 0.8 0 1 0 1.6 0a0.8 0.8 0 1 0 -1.6 0M1430.1 1352.2a0.7 0.7 0 1 0 1.4 0a0.7 0.7 0 1 0 -1.4 0M1430.6 1353.5a0.8 0.8 0 1 0 1.6 0a0.8 0.8 0 1 0 -1.6 0M1429.0 1325.9a1.2 1.2 0 1 0 2.4 0a1.2 1.2 0 1 0 -2.4 0M1425.3 1339.8a0.6 0.6 0 1 0 1.2 0a0.6 0.6 0 1 0 -1.2 0M1420.2 1344.6a0.8 0.8 0 1 0 1.6 0a0.8 0.8 0 1 0 -1.6 0M1421.0 1342.0a0.7 0.7 0 1 0 1.4 0a0.7 0.7 0 1 0 -1.4 0M1419.3 1340.6a1.0 1.0 0 1 0 2.0 0a1.0 1.0 0 1 0 -2.0 0M1421.4 1358.3a0.8 0.8 0 1 0 1.6 0a0.8 0.8 0 1 0 -1.6 0M1405.1 1352.6a0.8 0.8 0 1 0 1.6 0a0.8 0.8 0 1 0 -1.6 0M1410.8 1346.7a0.7 0.7 0 1 0 1.4 0a0.7 0.7 0 1 0 -1.4 0M1421.2 1341.0a0.7 0.7 0 1 0 1.4 0a0.7 0.7 0 1 0 -1.4 0M1431.2 1322.2a1.0 1.0 0 1 0 2.0 0a1.0 1.0 0 1 0 -2.0 0M1434.3 1339.0a1.2 1.2 0 1 0 2.4 0a1.2 1.2 0 1 0 -2.4 0M1419.9 1330.3a1.2 1.2 0 1 0 2.4 0a1.2 1.2 0 1 0 -2.4 0M1409.4 1335.0a1.0 1.0 0 1 0 2.0 0a1.0 1.0 0 1 0 -2.0 0M1406.0 1325.9a0.7 0.7 0 1 0 1.4 0a0.7 0.7 0 1 0 -1.4 0M1423.7 1328.5a0.6 0.6 0 1 0 1.2 0a0.6 0.6 0 1 0 -1.2 0M1425.5 1339.2a0.7 0.7 0 1 0 1.4 0a0.7 0.7 0 1 0 -1.4 0M1428.6 1339.0a1.2 1.2 0 1 0 2.4 0a1.2 1.2 0 1 0 -2.4 0M1404.5 1344.2a1.0 1.0 0 1 0 2.0 0a1.0 1.0 0 1 0 -2.0 0M1423.7 1344.6a1.2 1.2 0 1 0 2.4 0a1.2 1.2 0 1 0 -2.4 0M1418.0 1341.6a0.7 0.7 0 1 0 1.4 0a0.7 0.7 0 1 0 -1.4 0M1420.4 1343.2a0.7 0.7 0 1 0 1.4 0a0.7 0.7 0 1 0 -1.4 0M1430.4 1354.1a0.6 0.6 0 1 0 1.2 0a0.6 0.6 0 1 0 -1.2 0M1419.0 1323.1a0.6 0.6 0 1 0 1.2 0a0.6 0.6 0 1 0 -1.2 0M1424.2 1343.1a1.0 1.0 0 1 0 2.0 0a1.0 1.0 0 1 0 -2.0 0M1417.4 1331.3a0.8 0.8 0 1 0 1.6 0a0.8 0.8 0 1 0 -1.6 0M1420.7 1342.5a0.6 0.6 0 1 0 1.2 0a0.6 0.6 0 1 0 -1.2 0M1426.3 1321.9a1.2 1.2 0 1 0 2.4 0a1.2 1.2 0 1 0 -2.4 0M1410.1 1326.4a0.8 0.8 0 1 0 1.6 0a0.8 0.8 0 1 0 -1.6 0M1420.5 1325.6a1.2 1.2 0 1 0 2.4 0a1.2 1.2 0 1 0 -2.4 0M1415.0 1331.7a0.6 0.6 0 1 0 1.2 0a0.6 0.6 0 1 0 -1.2 0M1428.5 1344.0a1.2 1.2 0 1 0 2.4 0a1.2 1.2 0 1 0 -2.4 0M1426.7 1356.5a0.7 0.7 0 1 0 1.4 0a0.7 0.7 0 1 0 -1.4 0M1422.5 1347.1a0.7 0.7 0 1 0 1.4 0a0.7 0.7 0 1 0 -1.4 0M1429.2 1362.0a1.0 1.0 0 1 0 2.0 0a1.0 1.0 0 1 0 -2.0 0M1418.6 1336.8a0.7 0.7 0 1 0 1.4 0a0.7 0.7 0 1 0 -1.4 0M1414.5 1314.0a0.6 0.6 0 1 0 1.2 0a0.6 0.6 0 1 0 -1.2 0M1419.1 1358.8a0.7 0.7 0 1 0 1.4 0a0.7 0.7 0 1 0 -1.4 0M1420.1 1331.0a0.7 0.7 0 1 0 1.4 0a0.7 0.7 0 1 0 -1.4 0M1422.4 1347.9a0.7 0.7 0 1 0 1.4 0a0.7 0.7 0 1 0 -1.4 0M1424.2 1349.6a0.7 0.7 0 1 0 1.4 0a0.7 0.7 0 1 0 -1.4 0M1418.8 1341.8a1.0 1.0 0 1 0 2.0 0a1.0 1.0 0 1 0 -2.0 0M1426.2 1351.9a0.7 0.7 0 1 0 1.4 0a0.7 0.7 0 1 0 -1.4 0M1413.8 1350.8a0.6 0.6 0 1 0 1.2 0a0.6 0.6 0 1 0 -1.2 0M1432.5 1341.9a0.7 0.7 0 1 0 1.4 0a0.7 0.7 0 1 0 -1.4 0M1416.6 1347.7a0.8 0.8 0 1 0 1.6 0a0.8 0.8 0 1 0 -1.6 0M1413.0 1342.3a0.8 0.8 0 1 0 1.6 0a0.8 0.8 0 1 0 -1.6 0M1413.8 1357.8a0.8 0.8 0 1 0 1.6 0a0.8 0.8 0 1 0 -1.6 0M1431.9 1342.2a1.2 1.2 0 1 0 2.4 0a1.2 1.2 0 1 0 -2.4 0M1426.2 1333.3a1.0 1.0 0 1 0 2.0 0a1.0 1.0 0 1 0 -2.0 0M1413.7 1329.5a0.7 0.7 0 1 0 1.4 0a0.7 0.7 0 1 0 -1.4 0M1430.7 1345.5a0.8 0.8 0 1 0 1.6 0a0.8 0.8 0 1 0 -1.6 0M1409.4 1330.3a1.2 1.2 0 1 0 2.4 0a1.2 1.2 0 1 0 -2.4 0M1422.6 1341.5a1.0 1.0 0 1 0 2.0 0a1.0 1.0 0 1 0 -2.0 0M1421.5 1326.9a0.7 0.7 0 1 0 1.4 0a0.7 0.7 0 1 0 -1.4 0M1439.4 1340.6a0.7 0.7 0 1 0 1.4 0a0.7 0.7 0 1 0 -1.4 0M1397.7 1327.0a0.6 0.6 0 1 0 1.2 0a0.6 0.6 0 1 0 -1.2 0M1419.3 1328.5a0.8 0.8 0 1 0 1.6 0a0.8 0.8 0 1 0 -1.6 0M1415.1 1337.1a1.0 1.0 0 1 0 2.0 0a1.0 1.0 0 1 0 -2.0 0M1418.2 1331.4a0.6 0.6 0 1 0 1.2 0a0.6 0.6 0 1 0 -1.2 0M1421.6 1333.5a0.8 0.8 0 1 0 1.6 0a0.8 0.8 0 1 0 -1.6 0M1422.7 1356.8a1.2 1.2 0 1 0 2.4 0a1.2 1.2 0 1 0 -2.4 0M1412.7 1329.7a0.8 0.8 0 1 0 1.6 0a0.8 0.8 0 1 0 -1.6 0M1422.0 1350.5a1.0 1.0 0 1 0 2.0 0a1.0 1.0 0 1 0 -2.0 0M1427.8 1341.7a0.6 0.6 0 1 0 1.2 0a0.6 0.6 0 1 0 -1.2 0M1418.3 1344.7a1.0 1.0 0 1 0 2.0 0a1.0 1.0 0 1 0 -2.0 0M1417.5 1345.2a0.6 0.6 0 1 0 1.2 0a0.6 0.6 0 1 0 -1.2 0M1426.2 1331.6a0.8 0.8 0 1 0 1.6 0a0.8 0.8 0 1 0 -1.6 0M1469.5 1404.3a0.7 0.7 0 1 0 1.4 0a0.7 0.7 0 1 0 -1.4 0M1472.3 1404.9a1.0 1.0 0 1 0 2.0 0a1.0 1.0 0 1 0 -2.0 0M1468.8 1399.8a0.6 0.6 0 1 0 1.2 0a0.6 0.6 0 1 0 -1.2 0M1477.7 1411.5a1.0 1.0 0 1 0 2.0 0a1.0 1.0 0 1 0 -2.0 0M1467.1 1393.9a0.7 0.7 0 1 0 1.4 0a0.7 0.7 0 1 0 -1.4 0M1468.7 1400.0a0.7 0.7 0 1 0 1.4 0a0.7 0.7 0 1 0 -1.4 0M1468.8 1399.7a0.7 0.7 0 1 0 1.4 0a0.7 0.7 0 1 0 -1.4 0M1479.1 1399.7a1.2 1.2 0 1 0 2.4 0a1.2 1.2 0 1 0 -2.4 0M1473.0 1396.6a1.0 1.0 0 1 0 2.0 0a1.0 1.0 0 1 0 -2.0 0M1472.8 1400.9a0.6 0.6 0 1 0 1.2 0a0.6 0.6 0 1 0 -1.2 0M1472.5 1395.0a0.6 0.6 0 1 0 1.2 0a0.6 0.6 0 1 0 -1.2 0M1468.8 1400.2a0.6 0.6 0 1 0 1.2 0a0.6 0.6 0 1 0 -1.2 0M1473.2 1396.7a0.6 0.6 0 1 0 1.2 0a0.6 0.6 0 1 0 -1.2 0M1477.2 1405.4a0.6 0.6 0 1 0 1.2 0a0.6 0.6 0 1 0 -1.2 0M1474.5 1403.5a1.0 1.0 0 1 0 2.0 0a1.0 1.0 0 1 0 -2.0 0M1462.8 1399.6a0.8 0.8 0 1 0 1.6 0a0.8 0.8 0 1 0 -1.6 0M1539.1 1321.4a1.4 1.4 0 1 0 2.8 0a1.4 1.4 0 1 0 -2.8 0M1567.9 1381.9a1.6 1.6 0 1 0 3.2 0a1.6 1.6 0 1 0 -3.2 0M1423.7 1371.9a2.3 2.3 0 1 0 4.6 0a2.3 2.3 0 1 0 -4.6 0M1425.4 1368.9a1.6 1.6 0 1 0 3.2 0a1.6 1.6 0 1 0 -3.2 0" fill="#E000E0" fill-opacity="1.0" style="mix-blend-mode:screen"/>
<rect x="1335.40" y="1457.50" width="11.60" height="2.60" fill="#fff"/>
<rect x="826.40" y="1471.60" width="242.50" height="242.50" fill="#000"/>
<g filter="url(#nt)">
<ellipse cx="986.9" cy="1549.1" rx="17.0" ry="9.6" transform="rotate(37 986.9 1549.1)" fill="#00FFFF"/>
<ellipse cx="950.9" cy="1612.2" rx="6.0" ry="8.0" transform="rotate(-25 950.9 1612.2)" fill="#00FFFF"/>
<ellipse cx="954.9" cy="1621.2" rx="5.5" ry="7.5" transform="rotate(-25 954.9 1621.2)" fill="#00FFFF"/>
</g>
<rect x="830.80" y="1708.20" width="11.60" height="2.60" fill="#fff"/>
<rect x="1079.10" y="1471.60" width="242.50" height="242.50" fill="#000"/>
<path d="M1225.6 1555.4a1.0 1.0 0 1 0 2.0 0a1.0 1.0 0 1 0 -2.0 0M1233.7 1555.7a1.0 1.0 0 1 0 2.0 0a1.0 1.0 0 1 0 -2.0 0M1224.6 1548.6a1.0 1.0 0 1 0 2.0 0a1.0 1.0 0 1 0 -2.0 0M1241.3 1538.3a1.0 1.0 0 1 0 2.0 0a1.0 1.0 0 1 0 -2.0 0M1243.0 1553.3a0.6 0.6 0 1 0 1.2 0a0.6 0.6 0 1 0 -1.2 0M1222.3 1565.7a0.6 0.6 0 1 0 1.2 0a0.6 0.6 0 1 0 -1.2 0M1238.0 1558.6a0.7 0.7 0 1 0 1.4 0a0.7 0.7 0 1 0 -1.4 0M1232.9 1554.0a0.8 0.8 0 1 0 1.6 0a0.8 0.8 0 1 0 -1.6 0M1226.3 1556.1a1.2 1.2 0 1 0 2.4 0a1.2 1.2 0 1 0 -2.4 0M1235.8 1554.6a0.6 0.6 0 1 0 1.2 0a0.6 0.6 0 1 0 -1.2 0M1227.1 1559.3a0.7 0.7 0 1 0 1.4 0a0.7 0.7 0 1 0 -1.4 0M1235.9 1562.3a1.0 1.0 0 1 0 2.0 0a1.0 1.0 0 1 0 -2.0 0M1229.8 1548.5a0.7 0.7 0 1 0 1.4 0a0.7 0.7 0 1 0 -1.4 0M1224.9 1560.6a0.8 0.8 0 1 0 1.6 0a0.8 0.8 0 1 0 -1.6 0M1233.9 1563.8a1.0 1.0 0 1 0 2.0 0a1.0 1.0 0 1 0 -2.0 0M1224.1 1564.4a0.6 0.6 0 1 0 1.2 0a0.6 0.6 0 1 0 -1.2 0M1223.2 1550.1a0.6 0.6 0 1 0 1.2 0a0.6 0.6 0 1 0 -1.2 0M1248.8 1564.7a1.0 1.0 0 1 0 2.0 0a1.0 1.0 0 1 0 -2.0 0M1236.7 1555.0a1.0 1.0 0 1 0 2.0 0a1.0 1.0 0 1 0 -2.0 0M1230.9 1563.7a0.6 0.6 0 1 0 1.2 0a0.6 0.6 0 1 0 -1.2 0M1231.6 1560.2a0.7 0.7 0 1 0 1.4 0a0.7 0.7 0 1 0 -1.4 0M1224.2 1541.9a1.2 1.2 0 1 0 2.4 0a1.2 1.2 0 1 0 -2.4 0M1232.7 1566.1a0.8 0.8 0 1 0 1.6 0a0.8 0.8 0 1 0 -1.6 0M1229.2 1550.1a1.0 1.0 0 1 0 2.0 0a1.0 1.0 0 1 0 -2.0 0M1199.8 1609.6a0.6 0.6 0 1 0 1.2 0a0.6 0.6 0 1 0 -1.2 0M1198.0 1608.0a1.0 1.0 0 1 0 2.0 0a1.0 1.0 0 1 0 -2.0 0M1198.6 1608.8a1.2 1.2 0 1 0 2.4 0a1.2 1.2 0 1 0 -2.4 0M1200.7 1593.5a1.0 1.0 0 1 0 2.0 0a1.0 1.0 0 1 0 -2.0 0M1198.7 1615.7a1.2 1.2 0 1 0 2.4 0a1.2 1.2 0 1 0 -2.4 0M1194.4 1616.7a1.2 1.2 0 1 0 2.4 0a1.2 1.2 0 1 0 -2.4 0M1202.5 1616.2a0.7 0.7 0 1 0 1.4 0a0.7 0.7 0 1 0 -1.4 0M1197.9 1617.8a0.6 0.6 0 1 0 1.2 0a0.6 0.6 0 1 0 -1.2 0M1205.8 1610.7a0.7 0.7 0 1 0 1.4 0a0.7 0.7 0 1 0 -1.4 0M1199.1 1606.3a1.0 1.0 0 1 0 2.0 0a1.0 1.0 0 1 0 -2.0 0M1198.9 1612.9a1.0 1.0 0 1 0 2.0 0a1.0 1.0 0 1 0 -2.0 0M1206.7 1615.0a1.2 1.2 0 1 0 2.4 0a1.2 1.2 0 1 0 -2.4 0M1203.8 1616.2a0.7 0.7 0 1 0 1.4 0a0.7 0.7 0 1 0 -1.4 0M1201.9 1605.1a0.7 0.7 0 1 0 1.4 0a0.7 0.7 0 1 0 -1.4 0M1200.3 1615.9a0.6 0.6 0 1 0 1.2 0a0.6 0.6 0 1 0 -1.2 0" fill="#E000E0" fill-opacity="0.2"/>
<path d="M1233.5 1554.6a0.8 0.8 0 1 0 1.6 0a0.8 0.8 0 1 0 -1.6 0M1224.6 1556.3a0.6 0.6 0 1 0 1.2 0a0.6 0.6 0 1 0 -1.2 0M1240.5 1550.2a0.8 0.8 0 1 0 1.6 0a0.8 0.8 0 1 0 -1.6 0M1222.4 1543.7a1.0 1.0 0 1 0 2.0 0a1.0 1.0 0 1 0 -2.0 0M1238.2 1555.3a1.2 1.2 0 1 0 2.4 0a1.2 1.2 0 1 0 -2.4 0M1225.5 1545.5a0.7 0.7 0 1 0 1.4 0a0.7 0.7 0 1 0 -1.4 0M1234.6 1547.0a1.2 1.2 0 1 0 2.4 0a1.2 1.2 0 1 0 -2.4 0M1235.3 1556.6a0.6 0.6 0 1 0 1.2 0a0.6 0.6 0 1 0 -1.2 0M1229.1 1566.9a0.8 0.8 0 1 0 1.6 0a0.8 0.8 0 1 0 -1.6 0M1224.6 1546.0a1.0 1.0 0 1 0 2.0 0a1.0 1.0 0 1 0 -2.0 0M1239.7 1559.6a1.0 1.0 0 1 0 2.0 0a1.0 1.0 0 1 0 -2.0 0M1233.7 1547.1a0.6 0.6 0 1 0 1.2 0a0.6 0.6 0 1 0 -1.2 0M1224.9 1552.6a0.8 0.8 0 1 0 1.6 0a0.8 0.8 0 1 0 -1.6 0M1224.4 1545.9a0.8 0.8 0 1 0 1.6 0a0.8 0.8 0 1 0 -1.6 0M1220.9 1558.6a0.6 0.6 0 1 0 1.2 0a0.6 0.6 0 1 0 -1.2 0M1238.7 1557.9a0.6 0.6 0 1 0 1.2 0a0.6 0.6 0 1 0 -1.2 0M1236.8 1558.2a0.6 0.6 0 1 0 1.2 0a0.6 0.6 0 1 0 -1.2 0M1236.9 1546.1a0.8 0.8 0 1 0 1.6 0a0.8 0.8 0 1 0 -1.6 0M1225.0 1572.7a1.2 1.2 0 1 0 2.4 0a1.2 1.2 0 1 0 -2.4 0M1229.6 1543.6a0.8 0.8 0 1 0 1.6 0a0.8 0.8 0 1 0 -1.6 0M1227.5 1550.1a0.8 0.8 0 1 0 1.6 0a0.8 0.8 0 1 0 -1.6 0M1229.3 1553.4a1.2 1.2 0 1 0 2.4 0a1.2 1.2 0 1 0 -2.4 0M1233.4 1557.5a1.2 1.2 0 1 0 2.4 0a1.2 1.2 0 1 0 -2.4 0M1237.9 1549.6a1.2 1.2 0 1 0 2.4 0a1.2 1.2 0 1 0 -2.4 0M1252.4 1552.4a0.8 0.8 0 1 0 1.6 0a0.8 0.8 0 1 0 -1.6 0M1242.3 1542.3a0.7 0.7 0 1 0 1.4 0a0.7 0.7 0 1 0 -1.4 0M1208.4 1628.1a1.0 1.0 0 1 0 2.0 0a1.0 1.0 0 1 0 -2.0 0M1205.4 1622.2a1.2 1.2 0 1 0 2.4 0a1.2 1.2 0 1 0 -2.4 0M1200.0 1618.0a0.7 0.7 0 1 0 1.4 0a0.7 0.7 0 1 0 -1.4 0M1208.5 1617.4a0.6 0.6 0 1 0 1.2 0a0.6 0.6 0 1 0 -1.2 0M1208.4 1607.8a0.8 0.8 0 1 0 1.6 0a0.8 0.8 0 1 0 -1.6 0M1202.1 1601.5a1.2 1.2 0 1 0 2.4 0a1.2 1.2 0 1 0 -2.4 0M1203.6 1616.7a1.2 1.2 0 1 0 2.4 0a1.2 1.2 0 1 0 -2.4 0M1200.9 1609.2a0.8 0.8 0 1 0 1.6 0a0.8 0.8 0 1 0 -1.6 0M1206.4 1613.4a1.0 1.0 0 1 0 2.0 0a1.0 1.0 0 1 0 -2.0 0M1208.0 1618.6a1.2 1.2 0 1 0 2.4 0a1.2 1.2 0 1 0 -2.4 0M1206.7 1616.7a0.7 0.7 0 1 0 1.4 0a0.7 0.7 0 1 0 -1.4 0M1196.7 1628.9a0.6 0.6 0 1 0 1.2 0a0.6 0.6 0 1 0 -1.2 0M1196.4 1609.6a1.2 1.2 0 1 0 2.4 0a1.2 1.2 0 1 0 -2.4 0M1213.6 1621.8a0.8 0.8 0 1 0 1.6 0a0.8 0.8 0 1 0 -1.6 0M1207.3 1607.0a1.2 1.2 0 1 0 2.4 0a1.2 1.2 0 1 0 -2.4 0M1200.7 1622.8a0.8 0.8 0 1 0 1.6 0a0.8 0.8 0 1 0 -1.6 0M1207.7 1608.2a1.0 1.0 0 1 0 2.0 0a1.0 1.0 0 1 0 -2.0 0M1197.8 1616.2a0.6 0.6 0 1 0 1.2 0a0.6 0.6 0 1 0 -1.2 0M1205.5 1622.5a0.7 0.7 0 1 0 1.4 0a0.7 0.7 0 1 0 -1.4 0M1206.8 1612.7a0.6 0.6 0 1 0 1.2 0a0.6 0.6 0 1 0 -1.2 0M1209.9 1627.9a0.7 0.7 0 1 0 1.4 0a0.7 0.7 0 1 0 -1.4 0M1203.1 1614.1a1.0 1.0 0 1 0 2.0 0a1.0 1.0 0 1 0 -2.0 0M1200.7 1613.8a0.7 0.7 0 1 0 1.4 0a0.7 0.7 0 1 0 -1.4 0M1198.9 1609.2a0.6 0.6 0 1 0 1.2 0a0.6 0.6 0 1 0 -1.2 0M1198.4 1614.0a1.2 1.2 0 1 0 2.4 0a1.2 1.2 0 1 0 -2.4 0M1212.3 1501.6a0.8 0.8 0 1 0 1.6 0a0.8 0.8 0 1 0 -1.6 0" fill="#E000E0" fill-opacity="0.4"/>
<path d="M1268.9 1510.6a1.2 1.2 0 1 0 2.4 0a1.2 1.2 0 1 0 -2.4 0M1271.1 1512.1a1 1 0 1 0 2 0a1 1 0 1 0 -2 0M1211.0 1535.6a1.1 1.1 0 1 0 2.2 0a1.1 1.1 0 1 0 -2.2 0" fill="#E000E0" fill-opacity="0.8"/>
<rect x="1083.50" y="1708.20" width="11.60" height="2.60" fill="#fff"/>
<rect x="1331.00" y="1471.60" width="242.50" height="242.50" fill="#000"/>
<g filter="url(#nt)">
<ellipse cx="1491.5" cy="1549.1" rx="17.0" ry="9.6" transform="rotate(37 1491.5 1549.1)" fill="#00FFFF"/>
<ellipse cx="1455.5" cy="1612.2" rx="6.0" ry="8.0" transform="rotate(-25 1455.5 1612.2)" fill="#00FFFF"/>
<ellipse cx="1459.5" cy="1621.2" rx="5.5" ry="7.5" transform="rotate(-25 1459.5 1621.2)" fill="#00FFFF"/>
</g>
<path d="M1499.7 1550.4a1.2 1.2 0 1 0 2.4 0a1.2 1.2 0 1 0 -2.4 0M1477.1 1572.1a0.8 0.8 0 1 0 1.6 0a0.8 0.8 0 1 0 -1.6 0M1493.9 1551.2a1.2 1.2 0 1 0 2.4 0a1.2 1.2 0 1 0 -2.4 0M1476.8 1557.5a0.6 0.6 0 1 0 1.2 0a0.6 0.6 0 1 0 -1.2 0M1472.1 1544.2a0.8 0.8 0 1 0 1.6 0a0.8 0.8 0 1 0 -1.6 0M1494.4 1553.8a0.7 0.7 0 1 0 1.4 0a0.7 0.7 0 1 0 -1.4 0M1479.9 1562.3a1.2 1.2 0 1 0 2.4 0a1.2 1.2 0 1 0 -2.4 0M1478.3 1547.2a1.2 1.2 0 1 0 2.4 0a1.2 1.2 0 1 0 -2.4 0M1482.4 1565.1a0.7 0.7 0 1 0 1.4 0a0.7 0.7 0 1 0 -1.4 0M1487.3 1551.6a0.7 0.7 0 1 0 1.4 0a0.7 0.7 0 1 0 -1.4 0M1491.3 1554.3a1.0 1.0 0 1 0 2.0 0a1.0 1.0 0 1 0 -2.0 0M1496.4 1564.2a0.6 0.6 0 1 0 1.2 0a0.6 0.6 0 1 0 -1.2 0M1467.9 1548.2a0.6 0.6 0 1 0 1.2 0a0.6 0.6 0 1 0 -1.2 0M1494.6 1565.2a0.6 0.6 0 1 0 1.2 0a0.6 0.6 0 1 0 -1.2 0M1501.8 1559.5a0.8 0.8 0 1 0 1.6 0a0.8 0.8 0 1 0 -1.6 0M1486.0 1566.0a0.6 0.6 0 1 0 1.2 0a0.6 0.6 0 1 0 -1.2 0M1484.9 1554.4a0.8 0.8 0 1 0 1.6 0a0.8 0.8 0 1 0 -1.6 0M1477.0 1551.4a0.6 0.6 0 1 0 1.2 0a0.6 0.6 0 1 0 -1.2 0M1502.5 1554.3a1.0 1.0 0 1 0 2.0 0a1.0 1.0 0 1 0 -2.0 0M1491.3 1559.0a0.7 0.7 0 1 0 1.4 0a0.7 0.7 0 1 0 -1.4 0M1483.7 1549.6a1.0 1.0 0 1 0 2.0 0a1.0 1.0 0 1 0 -2.0 0M1479.6 1556.9a0.6 0.6 0 1 0 1.2 0a0.6 0.6 0 1 0 -1.2 0M1482.0 1559.4a1.0 1.0 0 1 0 2.0 0a1.0 1.0 0 1 0 -2.0 0M1453.8 1621.1a0.8 0.8 0 1 0 1.6 0a0.8 0.8 0 1 0 -1.6 0M1456.4 1608.4a0.6 0.6 0 1 0 1.2 0a0.6 0.6 0 1 0 -1.2 0M1453.1 1611.2a0.7 0.7 0 1 0 1.4 0a0.7 0.7 0 1 0 -1.4 0M1453.6 1616.1a0.6 0.6 0 1 0 1.2 0a0.6 0.6 0 1 0 -1.2 0M1449.1 1610.0a1.0 1.0 0 1 0 2.0 0a1.0 1.0 0 1 0 -2.0 0M1445.4 1632.0a1.0 1.0 0 1 0 2.0 0a1.0 1.0 0 1 0 -2.0 0M1453.3 1615.2a0.6 0.6 0 1 0 1.2 0a0.6 0.6 0 1 0 -1.2 0M1455.0 1608.4a0.6 0.6 0 1 0 1.2 0a0.6 0.6 0 1 0 -1.2 0M1453.6 1620.0a0.6 0.6 0 1 0 1.2 0a0.6 0.6 0 1 0 -1.2 0M1454.7 1620.6a0.7 0.7 0 1 0 1.4 0a0.7 0.7 0 1 0 -1.4 0M1450.6 1608.7a1.2 1.2 0 1 0 2.4 0a1.2 1.2 0 1 0 -2.4 0M1452.6 1611.6a0.8 0.8 0 1 0 1.6 0a0.8 0.8 0 1 0 -1.6 0M1457.4 1604.6a0.8 0.8 0 1 0 1.6 0a0.8 0.8 0 1 0 -1.6 0M1456.6 1623.4a0.8 0.8 0 1 0 1.6 0a0.8 0.8 0 1 0 -1.6 0M1455.6 1595.7a1.0 1.0 0 1 0 2.0 0a1.0 1.0 0 1 0 -2.0 0M1453.2 1613.9a0.7 0.7 0 1 0 1.4 0a0.7 0.7 0 1 0 -1.4 0" fill="#E000E0" fill-opacity="0.2" style="mix-blend-mode:screen"/>
<path d="M1493.6 1540.5a1.0 1.0 0 1 0 2.0 0a1.0 1.0 0 1 0 -2.0 0M1477.3 1554.0a0.6 0.6 0 1 0 1.2 0a0.6 0.6 0 1 0 -1.2 0M1493.7 1545.4a0.8 0.8 0 1 0 1.6 0a0.8 0.8 0 1 0 -1.6 0M1481.1 1554.3a1.2 1.2 0 1 0 2.4 0a1.2 1.2 0 1 0 -2.4 0M1496.3 1544.3a0.6 0.6 0 1 0 1.2 0a0.6 0.6 0 1 0 -1.2 0M1493.2 1546.0a1.2 1.2 0 1 0 2.4 0a1.2 1.2 0 1 0 -2.4 0M1476.7 1542.1a0.7 0.7 0 1 0 1.4 0a0.7 0.7 0 1 0 -1.4 0M1491.7 1542.3a1.2 1.2 0 1 0 2.4 0a1.2 1.2 0 1 0 -2.4 0M1486.7 1542.6a0.7 0.7 0 1 0 1.4 0a0.7 0.7 0 1 0 -1.4 0M1488.9 1534.2a0.7 0.7 0 1 0 1.4 0a0.7 0.7 0 1 0 -1.4 0M1500.2 1540.7a0.7 0.7 0 1 0 1.4 0a0.7 0.7 0 1 0 -1.4 0M1489.8 1562.7a0.8 0.8 0 1 0 1.6 0a0.8 0.8 0 1 0 -1.6 0M1492.3 1557.0a0.8 0.8 0 1 0 1.6 0a0.8 0.8 0 1 0 -1.6 0M1500.9 1557.7a1.0 1.0 0 1 0 2.0 0a1.0 1.0 0 1 0 -2.0 0M1498.8 1548.2a0.7 0.7 0 1 0 1.4 0a0.7 0.7 0 1 0 -1.4 0M1486.2 1539.9a1.2 1.2 0 1 0 2.4 0a1.2 1.2 0 1 0 -2.4 0M1492.4 1552.9a0.7 0.7 0 1 0 1.4 0a0.7 0.7 0 1 0 -1.4 0M1480.6 1564.8a0.7 0.7 0 1 0 1.4 0a0.7 0.7 0 1 0 -1.4 0M1479.3 1551.0a0.8 0.8 0 1 0 1.6 0a0.8 0.8 0 1 0 -1.6 0M1489.7 1563.7a0.8 0.8 0 1 0 1.6 0a0.8 0.8 0 1 0 -1.6 0M1482.3 1567.1a1.0 1.0 0 1 0 2.0 0a1.0 1.0 0 1 0 -2.0 0M1488.9 1550.3a0.6 0.6 0 1 0 1.2 0a0.6 0.6 0 1 0 -1.2 0M1485.2 1565.4a1.0 1.0 0 1 0 2.0 0a1.0 1.0 0 1 0 -2.0 0M1488.0 1541.3a1.0 1.0 0 1 0 2.0 0a1.0 1.0 0 1 0 -2.0 0M1482.9 1551.2a0.6 0.6 0 1 0 1.2 0a0.6 0.6 0 1 0 -1.2 0M1470.6 1547.1a0.8 0.8 0 1 0 1.6 0a0.8 0.8 0 1 0 -1.6 0M1480.7 1557.2a0.7 0.7 0 1 0 1.4 0a0.7 0.7 0 1 0 -1.4 0M1454.3 1614.2a1.0 1.0 0 1 0 2.0 0a1.0 1.0 0 1 0 -2.0 0M1457.7 1611.7a0.6 0.6 0 1 0 1.2 0a0.6 0.6 0 1 0 -1.2 0M1453.3 1611.0a1.0 1.0 0 1 0 2.0 0a1.0 1.0 0 1 0 -2.0 0M1454.6 1608.7a1.2 1.2 0 1 0 2.4 0a1.2 1.2 0 1 0 -2.4 0M1456.2 1612.5a0.8 0.8 0 1 0 1.6 0a0.8 0.8 0 1 0 -1.6 0M1449.5 1612.7a0.7 0.7 0 1 0 1.4 0a0.7 0.7 0 1 0 -1.4 0M1467.6 1614.0a0.7 0.7 0 1 0 1.4 0a0.7 0.7 0 1 0 -1.4 0M1456.2 1619.3a1.0 1.0 0 1 0 2.0 0a1.0 1.0 0 1 0 -2.0 0M1460.2 1619.8a1.0 1.0 0 1 0 2.0 0a1.0 1.0 0 1 0 -2.0 0M1448.6 1610.6a0.7 0.7 0 1 0 1.4 0a0.7 0.7 0 1 0 -1.4 0M1449.7 1614.5a0.6 0.6 0 1 0 1.2 0a0.6 0.6 0 1 0 -1.2 0M1457.8 1614.9a0.6 0.6 0 1 0 1.2 0a0.6 0.6 0 1 0 -1.2 0M1456.5 1624.6a1.0 1.0 0 1 0 2.0 0a1.0 1.0 0 1 0 -2.0 0M1455.2 1616.2a0.7 0.7 0 1 0 1.4 0a0.7 0.7 0 1 0 -1.4 0M1453.0 1613.9a1.0 1.0 0 1 0 2.0 0a1.0 1.0 0 1 0 -2.0 0M1451.9 1614.8a1.0 1.0 0 1 0 2.0 0a1.0 1.0 0 1 0 -2.0 0M1458.6 1606.4a0.7 0.7 0 1 0 1.4 0a0.7 0.7 0 1 0 -1.4 0M1454.0 1619.6a0.8 0.8 0 1 0 1.6 0a0.8 0.8 0 1 0 -1.6 0M1451.2 1610.2a0.6 0.6 0 1 0 1.2 0a0.6 0.6 0 1 0 -1.2 0M1449.5 1608.1a1.0 1.0 0 1 0 2.0 0a1.0 1.0 0 1 0 -2.0 0M1456.7 1606.7a0.6 0.6 0 1 0 1.2 0a0.6 0.6 0 1 0 -1.2 0M1450.7 1605.5a0.8 0.8 0 1 0 1.6 0a0.8 0.8 0 1 0 -1.6 0M1449.2 1618.2a1.2 1.2 0 1 0 2.4 0a1.2 1.2 0 1 0 -2.4 0M1453.5 1603.7a0.8 0.8 0 1 0 1.6 0a0.8 0.8 0 1 0 -1.6 0M1464.2 1501.6a0.8 0.8 0 1 0 1.6 0a0.8 0.8 0 1 0 -1.6 0" fill="#E000E0" fill-opacity="0.4" style="mix-blend-mode:screen"/>
<path d="M1520.8 1510.6a1.2 1.2 0 1 0 2.4 0a1.2 1.2 0 1 0 -2.4 0M1523.0 1512.1a1 1 0 1 0 2 0a1 1 0 1 0 -2 0M1462.9 1535.6a1.1 1.1 0 1 0 2.2 0a1.1 1.1 0 1 0 -2.2 0" fill="#E000E0" fill-opacity="0.8" style="mix-blend-mode:screen"/>
<rect x="1335.40" y="1708.20" width="11.60" height="2.60" fill="#fff"/>
<text x="828.20" y="1745.00" font-size="25" fill="#00E5E5">Hoechst</text>
<text x="1078.50" y="1745.00" font-size="25" fill="#F000F0">non-P β-catenin</text>
<text x="1331.00" y="1745.00" font-size="25">Overlay</text>
<text x="1580.40" y="1216.00" font-size="50.5">g</text>
<line x1="1725.00" y1="1254.30" x2="1725.00" y2="1711.90" stroke="#000" stroke-width="3.4"/>
<line x1="1725.00" y1="1710.20" x2="1954.00" y2="1710.20" stroke="#000" stroke-width="3.4"/>
<line x1="1712.00" y1="1256.00" x2="1725.00" y2="1256.00" stroke="#000" stroke-width="3.4"/>
<text x="1705.30" y="1268.90" font-size="32.3" text-anchor="end">35000</text>
<line x1="1712.00" y1="1348.00" x2="1725.00" y2="1348.00" stroke="#000" stroke-width="3.4"/>
<text x="1705.30" y="1360.90" font-size="32.3" text-anchor="end">28000</text>
<line x1="1712.00" y1="1438.20" x2="1725.00" y2="1438.20" stroke="#000" stroke-width="3.4"/>
<text x="1705.30" y="1451.10" font-size="32.3" text-anchor="end">21000</text>
<line x1="1712.00" y1="1529.10" x2="1725.00" y2="1529.10" stroke="#000" stroke-width="3.4"/>
<text x="1705.30" y="1542.00" font-size="32.3" text-anchor="end">14000</text>
<line x1="1712.00" y1="1619.40" x2="1725.00" y2="1619.40" stroke="#000" stroke-width="3.4"/>
<text x="1705.30" y="1632.30" font-size="32.3" text-anchor="end">7000</text>
<line x1="1712.00" y1="1710.20" x2="1725.00" y2="1710.20" stroke="#000" stroke-width="3.4"/>
<text x="1705.30" y="1723.10" font-size="32.3" text-anchor="end">0</text>
<line x1="1794.50" y1="1710.20" x2="1794.50" y2="1724.40" stroke="#000" stroke-width="3.4"/>
<line x1="1882.20" y1="1710.20" x2="1882.20" y2="1724.40" stroke="#000" stroke-width="3.4"/>
<line x1="1794.50" y1="1276.70" x2="1882.20" y2="1276.70" stroke="#000" stroke-width="3.4"/>
<text x="1837.85" y="1276.72" font-size="36.5" text-anchor="middle" font-weight="bold" letter-spacing="6.5" stroke="#000" stroke-width="0.9" font-family="DejaVu Sans, Liberation Sans, sans-serif">****</text>
<path d="M1794.5 1302.7 Q1793.9 1343.1 1793.1 1350.3 Q1792.2 1357.5 1790.2 1364.7 Q1788.2 1371.9 1786.3 1379.1 Q1784.4 1386.3 1783.0 1393.5 Q1781.5 1400.7 1780.1 1415.2 Q1778.6 1429.6 1777.2 1444.0 Q1775.8 1458.4 1775.6 1465.6 Q1775.5 1472.9 1776.3 1480.1 Q1777.2 1487.3 1778.9 1494.5 Q1780.7 1501.7 1782.2 1508.9 Q1783.8 1516.1 1784.3 1523.3 Q1784.7 1530.5 1784.4 1537.8 Q1784.1 1545.0 1783.0 1552.2 Q1781.8 1559.4 1780.2 1566.6 Q1778.6 1573.8 1776.9 1588.2 Q1775.2 1602.7 1773.6 1617.1 Q1772.0 1631.5 1769.6 1645.9 Q1767.1 1660.3 1765.2 1667.5 Q1763.3 1674.8 1762.5 1682.0 Q1761.6 1689.2 1762.2 1693.5 Q1762.8 1697.8 1764.2 1700.7 Q1765.7 1703.6 1767.5 1706.9 L1769.4 1710.2" fill="none" stroke="#A2A2A5" stroke-width="2.9" stroke-linejoin="round"/>
<path d="M1794.5 1302.7 Q1795.1 1343.1 1795.9 1350.3 Q1796.8 1357.5 1798.8 1364.7 Q1800.8 1371.9 1802.7 1379.1 Q1804.6 1386.3 1806.0 1393.5 Q1807.5 1400.7 1808.9 1415.2 Q1810.4 1429.6 1811.8 1444.0 Q1813.2 1458.4 1813.4 1465.6 Q1813.5 1472.9 1812.7 1480.1 Q1811.8 1487.3 1810.1 1494.5 Q1808.3 1501.7 1806.8 1508.9 Q1805.2 1516.1 1804.7 1523.3 Q1804.3 1530.5 1804.6 1537.8 Q1804.9 1545.0 1806.0 1552.2 Q1807.2 1559.4 1808.8 1566.6 Q1810.4 1573.8 1812.1 1588.2 Q1813.8 1602.7 1815.4 1617.1 Q1817.0 1631.5 1819.4 1645.9 Q1821.9 1660.3 1823.8 1667.5 Q1825.7 1674.8 1826.5 1682.0 Q1827.4 1689.2 1826.8 1693.5 Q1826.2 1697.8 1824.8 1700.7 Q1823.3 1703.6 1821.5 1706.9 L1819.6 1710.2" fill="none" stroke="#A2A2A5" stroke-width="2.9" stroke-linejoin="round"/>
<line x1="1778.34" y1="1478.05" x2="1809.78" y2="1478.05" stroke="#A2A2A5" stroke-width="2.2" stroke-dasharray="2.2 4.7"/>
<line x1="1775.70" y1="1603.52" x2="1812.90" y2="1603.52" stroke="#A2A2A5" stroke-width="2.5" stroke-dasharray="9.5 4.5"/>
<line x1="1763.80" y1="1686.30" x2="1822.60" y2="1686.30" stroke="#A2A2A5" stroke-width="2.2" stroke-dasharray="2.2 4.7"/>
<path d="M1882.2 1607.0 Q1881.5 1615.6 1880.5 1617.5 Q1879.6 1619.4 1878.7 1621.4 Q1877.9 1623.4 1878.7 1625.4 Q1879.6 1627.5 1880.5 1629.5 Q1881.3 1631.5 1881.4 1633.4 Q1881.5 1635.2 1881.5 1644.9 Q1881.5 1654.6 1880.4 1656.0 Q1879.3 1657.5 1877.0 1658.3 Q1874.7 1659.2 1870.4 1661.1 Q1866.0 1662.9 1862.3 1664.8 Q1858.5 1666.7 1859.0 1669.7 Q1859.4 1672.7 1861.3 1676.5 Q1863.2 1680.2 1862.0 1682.8 Q1860.9 1685.4 1858.8 1687.9 Q1856.8 1690.3 1856.2 1693.2 Q1855.7 1696.1 1852.3 1699.6 Q1849.0 1703.0 1850.3 1704.9 Q1851.6 1706.8 1854.7 1707.8 Q1857.7 1708.8 1862.2 1709.7 L1866.6 1710.5" fill="none" stroke="#000080" stroke-width="2.9" stroke-linejoin="round"/>
<path d="M1882.2 1607.0 Q1882.9 1615.6 1883.9 1617.5 Q1884.8 1619.4 1885.7 1621.4 Q1886.5 1623.4 1885.7 1625.4 Q1884.8 1627.5 1883.9 1629.5 Q1883.1 1631.5 1883.0 1633.4 Q1882.9 1635.2 1882.9 1644.9 Q1882.9 1654.6 1884.0 1656.0 Q1885.1 1657.5 1887.4 1658.3 Q1889.7 1659.2 1894.0 1661.1 Q1898.4 1662.9 1902.1 1664.8 Q1905.9 1666.7 1905.4 1669.7 Q1905.0 1672.7 1903.1 1676.5 Q1901.2 1680.2 1902.4 1682.8 Q1903.5 1685.4 1905.6 1687.9 Q1907.6 1690.3 1908.2 1693.2 Q1908.7 1696.1 1912.1 1699.6 Q1915.4 1703.0 1914.1 1704.9 Q1912.8 1706.8 1909.7 1707.8 Q1906.7 1708.8 1902.2 1709.7 L1897.8 1710.5" fill="none" stroke="#000080" stroke-width="2.9" stroke-linejoin="round"/>
<line x1="1861.00" y1="1672.45" x2="1898.60" y2="1672.45" stroke="#000080" stroke-width="2.5" stroke-dasharray="2.5 4.4"/>
<line x1="1858.50" y1="1689.18" x2="1899.40" y2="1689.18" stroke="#000080" stroke-width="2.8" stroke-dasharray="11.5 5"/>
<line x1="1857.80" y1="1702.74" x2="1911.00" y2="1702.74" stroke="#000080" stroke-width="2.5" stroke-dasharray="2.5 4.4"/>
<line x1="1725.00" y1="1710.20" x2="1954.00" y2="1710.20" stroke="#000" stroke-width="3.4"/>
<text x="1742.00" y="1761.90" font-size="32">MME<tspan dy="-17.4" font-weight="bold">-</tspan></text>
<text x="1847.30" y="1761.90" font-size="32">MME<tspan dy="-17.4">+</tspan></text>
<text font-size="32" text-anchor="middle" transform="translate(1603.80 1481.50) rotate(-90)">Corrected total fluorescence (a.u)</text>
<text x="-1.50" y="1830.00" font-size="50.5">h</text>
<line x1="151.50" y1="1947.20" x2="151.50" y2="2405.30" stroke="#000" stroke-width="3.0"/>
<line x1="131.80" y1="1948.70" x2="151.50" y2="1948.70" stroke="#000" stroke-width="3.0"/>
<text x="127.30" y="1959.70" font-size="31.5" text-anchor="end">5</text>
<line x1="131.80" y1="2040.30" x2="151.50" y2="2040.30" stroke="#000" stroke-width="3.0"/>
<text x="127.30" y="2051.30" font-size="31.5" text-anchor="end">4</text>
<line x1="131.80" y1="2131.40" x2="151.50" y2="2131.40" stroke="#000" stroke-width="3.0"/>
<text x="127.30" y="2142.40" font-size="31.5" text-anchor="end">3</text>
<line x1="131.80" y1="2222.20" x2="151.50" y2="2222.20" stroke="#000" stroke-width="3.0"/>
<text x="127.30" y="2233.20" font-size="31.5" text-anchor="end">2</text>
<line x1="131.80" y1="2313.00" x2="151.50" y2="2313.00" stroke="#000" stroke-width="3.0"/>
<text x="127.30" y="2324.00" font-size="31.5" text-anchor="end">1</text>
<line x1="131.80" y1="2403.80" x2="151.50" y2="2403.80" stroke="#000" stroke-width="3.0"/>
<text x="127.30" y="2414.80" font-size="31.5" text-anchor="end">0</text>
<line x1="261.50" y1="2403.80" x2="261.50" y2="2417.30" stroke="#000" stroke-width="3.0"/>
<line x1="449.30" y1="2403.80" x2="449.30" y2="2417.30" stroke="#000" stroke-width="3.0"/>
<rect x="187.80" y="2305.00" width="65.00" height="98.80" fill="none" stroke="#808080" stroke-width="3.0"/>
<rect x="273.10" y="2120.20" width="64.70" height="283.60" fill="url(#dotg)" stroke="#808080" stroke-width="3.0"/>
<rect x="374.50" y="2324.30" width="65.00" height="79.50" fill="none" stroke="#000080" stroke-width="3.0"/>
<rect x="459.80" y="2145.20" width="65.00" height="258.60" fill="url(#dotn)" stroke="#000080" stroke-width="3.0"/>
<line x1="131.80" y1="2403.80" x2="562.30" y2="2403.80" stroke="#000" stroke-width="3.0"/>
<line x1="220.50" y1="2273.00" x2="220.50" y2="2333.00" stroke="#808080" stroke-width="2.7"/>
<line x1="212.50" y1="2273.00" x2="228.50" y2="2273.00" stroke="#808080" stroke-width="2.7"/>
<line x1="212.50" y1="2333.00" x2="228.50" y2="2333.00" stroke="#808080" stroke-width="2.7"/>
<line x1="304.40" y1="2086.00" x2="304.40" y2="2148.90" stroke="#808080" stroke-width="2.7"/>
<line x1="296.40" y1="2086.00" x2="312.40" y2="2086.00" stroke="#808080" stroke-width="2.7"/>
<line x1="296.40" y1="2148.90" x2="312.40" y2="2148.90" stroke="#808080" stroke-width="2.7"/>
<line x1="406.80" y1="2310.10" x2="406.80" y2="2334.80" stroke="#000080" stroke-width="2.7"/>
<line x1="398.80" y1="2310.10" x2="414.80" y2="2310.10" stroke="#000080" stroke-width="2.7"/>
<line x1="398.80" y1="2334.80" x2="414.80" y2="2334.80" stroke="#000080" stroke-width="2.7"/>
<line x1="492.20" y1="2082.80" x2="492.20" y2="2203.30" stroke="#000080" stroke-width="2.7"/>
<line x1="484.20" y1="2082.80" x2="500.20" y2="2082.80" stroke="#000080" stroke-width="2.7"/>
<line x1="484.20" y1="2203.30" x2="500.20" y2="2203.30" stroke="#000080" stroke-width="2.7"/>
<circle cx="220.50" cy="2213.10" r="4.90" fill="none" stroke="#808080" stroke-width="2.8"/>
<circle cx="210.70" cy="2325.70" r="4.90" fill="none" stroke="#808080" stroke-width="2.8"/>
<circle cx="210.70" cy="2336.60" r="4.90" fill="none" stroke="#808080" stroke-width="2.8"/>
<circle cx="228.80" cy="2334.80" r="4.90" fill="none" stroke="#808080" stroke-width="2.8"/>
<circle cx="296.00" cy="2084.20" r="4.90" fill="none" stroke="#808080" stroke-width="2.8"/>
<circle cx="314.20" cy="2080.60" r="4.90" fill="none" stroke="#808080" stroke-width="2.8"/>
<circle cx="304.40" cy="2096.20" r="4.90" fill="none" stroke="#808080" stroke-width="2.8"/>
<circle cx="304.40" cy="2211.30" r="4.90" fill="none" stroke="#808080" stroke-width="2.8"/>
<circle cx="397.70" cy="2305.80" r="4.90" fill="none" stroke="#000080" stroke-width="2.8"/>
<circle cx="415.90" cy="2314.10" r="4.90" fill="none" stroke="#000080" stroke-width="2.8"/>
<circle cx="406.80" cy="2347.50" r="4.90" fill="none" stroke="#000080" stroke-width="2.8"/>
<circle cx="492.20" cy="2030.80" r="4.90" fill="none" stroke="#000080" stroke-width="2.8"/>
<circle cx="492.20" cy="2161.60" r="4.90" fill="none" stroke="#000080" stroke-width="2.8"/>
<circle cx="492.20" cy="2237.80" r="4.90" fill="none" stroke="#000080" stroke-width="2.8"/>
<line x1="217.20" y1="2008.30" x2="301.80" y2="2008.30" stroke="#000" stroke-width="3.0"/>
<line x1="404.30" y1="2008.30" x2="488.90" y2="2008.30" stroke="#000" stroke-width="3.0"/>
<line x1="301.80" y1="1944.40" x2="488.90" y2="1944.40" stroke="#000" stroke-width="3.0"/>
<text x="257.90" y="1996.94" font-size="30.5" text-anchor="middle" font-weight="bold" stroke="#000" stroke-width="0.9" font-family="DejaVu Sans, Liberation Sans, sans-serif">*</text>
<text x="444.90" y="1996.94" font-size="30.5" text-anchor="middle" font-weight="bold" stroke="#000" stroke-width="0.9" font-family="DejaVu Sans, Liberation Sans, sans-serif">*</text>
<text x="398.40" y="1929.80" font-size="30" text-anchor="middle">ns</text>
<text x="126.30" y="2443.80" font-size="32">MME</text>
<text x="36.30" y="2491.00" font-size="31.9" font-style="italic">CHIR99021</text>
<line x1="212.70" y1="2434.70" x2="221.30" y2="2434.70" stroke="#000" stroke-width="2.6"/>
<line x1="298.00" y1="2434.70" x2="306.60" y2="2434.70" stroke="#000" stroke-width="2.6"/>
<line x1="396.70" y1="2432.20" x2="411.90" y2="2432.20" stroke="#000" stroke-width="2.5"/>
<line x1="404.30" y1="2424.60" x2="404.30" y2="2439.80" stroke="#000" stroke-width="2.5"/>
<line x1="481.60" y1="2432.20" x2="496.80" y2="2432.20" stroke="#000" stroke-width="2.5"/>
<line x1="489.20" y1="2424.60" x2="489.20" y2="2439.80" stroke="#000" stroke-width="2.5"/>
<line x1="212.70" y1="2481.50" x2="221.30" y2="2481.50" stroke="#000" stroke-width="2.6"/>
<line x1="294.70" y1="2479.00" x2="309.90" y2="2479.00" stroke="#000" stroke-width="2.5"/>
<line x1="302.30" y1="2471.40" x2="302.30" y2="2486.60" stroke="#000" stroke-width="2.5"/>
<line x1="400.00" y1="2481.50" x2="408.60" y2="2481.50" stroke="#000" stroke-width="2.6"/>
<line x1="481.60" y1="2479.00" x2="496.80" y2="2479.00" stroke="#000" stroke-width="2.5"/>
<line x1="489.20" y1="2471.40" x2="489.20" y2="2486.60" stroke="#000" stroke-width="2.5"/>
<text font-size="31.3" text-anchor="middle" font-style="italic" transform="translate(47.20 2178.50) rotate(-90)">Axin2</text>
<text font-size="32.6" text-anchor="middle" transform="translate(86.70 2178.00) rotate(-90)">Relative Gene Expression</text>
<text x="577.40" y="1829.50" font-size="50.5">i</text>
<defs><filter id="bl" x="0" y="0" width="100%" height="100%" color-interpolation-filters="sRGB"><feTurbulence type="fractalNoise" baseFrequency="0.11" numOctaves="2" seed="4" result="n"/><feDisplacementMap in="SourceGraphic" in2="n" scale="11" xChannelSelector="R" yChannelSelector="G" result="d"/><feTurbulence type="fractalNoise" baseFrequency="0.42" numOctaves="1" seed="9" result="t"/><feColorMatrix in="t" type="matrix" values="0 0 0 0 1  0 0 0 0 1  0 0 0 0 1  2.6 0 0 0 -0.8" result="ta"/><feComposite in="d" in2="ta" operator="arithmetic" k1="0.75" k2="0.55" k3="0" k4="0" result="m"/><feGaussianBlur in="m" stdDeviation="0.8"/></filter><filter id="bl2" x="-5%" y="-5%" width="110%" height="110%"><feGaussianBlur stdDeviation="1.1"/></filter></defs>
<rect x="684.78" y="1857.15" width="318.20" height="43.04" fill="none" stroke="#000" stroke-width="3.5"/>
<text x="843.88" y="1889.00" font-size="34.3" text-anchor="middle">Vehicle</text>
<rect x="1014.95" y="1857.15" width="318.20" height="43.04" fill="none" stroke="#000" stroke-width="3.5"/>
<text x="1174.05" y="1889.00" font-size="34.3" text-anchor="middle">CHIR99021</text>
<rect x="629.50" y="1912.70" width="42.70" height="238.60" fill="none" stroke="#000" stroke-width="3.3"/>
<rect x="629.50" y="2165.55" width="42.70" height="238.20" fill="none" stroke="#000" stroke-width="3.3"/>
<text font-size="35" transform="translate(662.20 2076.60) rotate(-90)">MME<tspan font-size="22" dy="-11.1">-</tspan></text>
<text font-size="35" transform="translate(662.20 2323.40) rotate(-90)">MME<tspan font-size="20.4" dy="-12.2">+</tspan></text>
<clipPath id="ic1"><rect x="683.0" y="1911.1" width="321.7" height="242.7"/></clipPath>
<rect x="683.00" y="1911.10" width="321.70" height="242.70" fill="#000"/>
<g clip-path="url(#ic1)"><g filter="url(#bl)">
<ellipse cx="727.8" cy="1983.7" rx="9.1" ry="7.1" fill="#F00" fill-opacity="1.0"/>
<ellipse cx="720.1" cy="1997.2" rx="4.4" ry="4.4" fill="#F00" fill-opacity="1.0"/>
<ellipse cx="879.6" cy="1969.3" rx="8.1" ry="9.1" fill="#F00" fill-opacity="1.0"/>
<ellipse cx="896.9" cy="1977.0" rx="18.2" ry="10.1" fill="#F00" fill-opacity="0.45"/>
<ellipse cx="818.1" cy="2017.4" rx="15.1" ry="10.1" fill="#F00" fill-opacity="0.95"/>
<ellipse cx="798.9" cy="1998.1" rx="7.1" ry="16.1" fill="#F00" fill-opacity="0.6" transform="rotate(-25 798.9 1998.1)"/>
<ellipse cx="859.4" cy="2011.6" rx="7.1" ry="9.1" fill="#F00" fill-opacity="1.0"/>
<ellipse cx="865.2" cy="2025.1" rx="6.1" ry="8.1" fill="#F00" fill-opacity="1.0"/>
<ellipse cx="753.7" cy="2051.0" rx="5.0" ry="3.6" fill="#F00" fill-opacity="1.0"/>
<ellipse cx="810.4" cy="2049.1" rx="11.1" ry="10.1" fill="#F00" fill-opacity="0.7"/>
<ellipse cx="849.8" cy="2061.6" rx="7.7" ry="7.7" fill="#F00" fill-opacity="1.0"/>
<ellipse cx="856.5" cy="2076.5" rx="6.1" ry="5.0" fill="#F00" fill-opacity="1.0"/>
<ellipse cx="898.8" cy="2064.4" rx="8.1" ry="11.1" fill="#F00" fill-opacity="1.0" transform="rotate(15 898.8 2064.4)"/>
<ellipse cx="987.2" cy="2069.2" rx="9.1" ry="12.1" fill="#F00" fill-opacity="0.9"/>
<ellipse cx="861.3" cy="2118.2" rx="10.1" ry="9.1" fill="#F00" fill-opacity="0.9"/>
<ellipse cx="909.4" cy="2113.4" rx="8.1" ry="6.1" fill="#F00" fill-opacity="1.0"/>
<ellipse cx="793.1" cy="2134.6" rx="16.1" ry="9.1" fill="#F00" fill-opacity="0.8"/>
<ellipse cx="718.2" cy="2138.4" rx="18.2" ry="12.1" fill="#F00" fill-opacity="0.6"/>
<ellipse cx="700.9" cy="2144.2" rx="7.1" ry="10.1" fill="#F00" fill-opacity="0.9"/>
<ellipse cx="767.2" cy="2136.5" rx="8.1" ry="7.1" fill="#F00" fill-opacity="0.7"/>
<ellipse cx="979.5" cy="2115.4" rx="10.1" ry="8.1" fill="#F00" fill-opacity="0.8"/>
<ellipse cx="994.9" cy="2115.4" rx="4.0" ry="4.0" fill="#F00" fill-opacity="1"/>
<ellipse cx="975.7" cy="2092.3" rx="14.1" ry="8.1" fill="#F00" fill-opacity="0.6"/>
<ellipse cx="943.0" cy="2117.3" rx="12.1" ry="6.1" fill="#F00" fill-opacity="0.6"/>
<ellipse cx="915.1" cy="2142.3" rx="10.1" ry="8.1" fill="#F00" fill-opacity="0.5"/>
<ellipse cx="871.9" cy="2138.4" rx="6.1" ry="4.0" fill="#F00" fill-opacity="0.9"/>
<ellipse cx="871.9" cy="2150.0" rx="6.1" ry="4.0" fill="#F00" fill-opacity="0.9"/>
<ellipse cx="900.7" cy="2148.0" rx="6.1" ry="6.1" fill="#F00" fill-opacity="0.8"/>
<ellipse cx="889.2" cy="2115.4" rx="6.1" ry="14.1" fill="#F00" fill-opacity="0.5"/>
<ellipse cx="996.8" cy="2053.9" rx="8.1" ry="8.1" fill="#F00" fill-opacity="0.5"/>
<ellipse cx="810.4" cy="1923.2" rx="12.1" ry="12.1" fill="#F00" fill-opacity="0.65"/>
<ellipse cx="781.6" cy="1954.0" rx="10.1" ry="10.1" fill="#F00" fill-opacity="0.55"/>
<ellipse cx="772.0" cy="1926.1" rx="10.1" ry="6.1" fill="#F00" fill-opacity="0.6"/>
<ellipse cx="750.8" cy="1946.3" rx="10.1" ry="7.1" fill="#F00" fill-opacity="0.55"/>
<ellipse cx="700.9" cy="1919.4" rx="10.1" ry="8.1" fill="#F00" fill-opacity="0.4"/>
<ellipse cx="737.4" cy="1925.1" rx="8.1" ry="8.1" fill="#F00" fill-opacity="0.4"/>
<ellipse cx="737.4" cy="1963.6" rx="7.1" ry="5.0" fill="#F00" fill-opacity="0.7"/>
<ellipse cx="804.6" cy="1961.6" rx="9.1" ry="8.1" fill="#F00" fill-opacity="0.35"/>
<ellipse cx="831.5" cy="1965.5" rx="8.1" ry="5.0" fill="#F00" fill-opacity="0.5"/>
<ellipse cx="853.6" cy="1961.6" rx="7.1" ry="7.1" fill="#F00" fill-opacity="0.45"/>
<ellipse cx="848.8" cy="1919.4" rx="8.1" ry="8.1" fill="#F00" fill-opacity="0.4"/>
<ellipse cx="879.6" cy="1917.4" rx="8.1" ry="8.1" fill="#F00" fill-opacity="0.5"/>
<ellipse cx="914.2" cy="1929.0" rx="8.1" ry="9.1" fill="#F00" fill-opacity="0.6"/>
<ellipse cx="915.1" cy="1961.6" rx="7.1" ry="7.1" fill="#F00" fill-opacity="0.75"/>
<ellipse cx="937.2" cy="1969.3" rx="6.1" ry="10.1" fill="#F00" fill-opacity="0.55"/>
<ellipse cx="964.1" cy="1959.7" rx="8.1" ry="8.1" fill="#F00" fill-opacity="0.7"/>
<ellipse cx="966.1" cy="1969.3" rx="10.1" ry="5.0" fill="#F00" fill-opacity="0.7"/>
<ellipse cx="981.4" cy="1938.6" rx="8.1" ry="10.1" fill="#F00" fill-opacity="0.6"/>
<ellipse cx="994.9" cy="1917.4" rx="8.1" ry="8.1" fill="#F00" fill-opacity="0.5"/>
<ellipse cx="956.4" cy="1937.6" rx="8.1" ry="4.0" fill="#F00" fill-opacity="0.6"/>
<ellipse cx="996.8" cy="1978.9" rx="7.1" ry="10.1" fill="#F00" fill-opacity="0.6"/>
<ellipse cx="973.7" cy="1982.8" rx="6.1" ry="8.1" fill="#F00" fill-opacity="0.6"/>
<ellipse cx="987.2" cy="1961.6" rx="5.0" ry="12.1" fill="#F00" fill-opacity="0.4"/>
<ellipse cx="820.0" cy="1948.2" rx="5.0" ry="10.1" fill="#F00" fill-opacity="0.4"/>
<ellipse cx="687.4" cy="1959.7" rx="5.0" ry="6.1" fill="#F00" fill-opacity="0.6"/>
<ellipse cx="706.6" cy="1978.9" rx="10.1" ry="4.0" fill="#F00" fill-opacity="0.5"/>
<ellipse cx="814.2" cy="1988.5" rx="8.1" ry="6.1" fill="#F00" fill-opacity="0.45"/>
<ellipse cx="862.3" cy="1992.4" rx="4.0" ry="10.1" fill="#F00" fill-opacity="0.5"/>
<ellipse cx="839.2" cy="2025.1" rx="7.1" ry="6.1" fill="#F00" fill-opacity="0.7"/>
<ellipse cx="790.2" cy="2014.5" rx="3.0" ry="6.1" fill="#F00" fill-opacity="0.6"/>
<ellipse cx="958.4" cy="2007.8" rx="8.1" ry="3.0" fill="#F00" fill-opacity="0.6"/>
<ellipse cx="918.0" cy="2084.6" rx="2.0" ry="5.0" fill="#F00" fill-opacity="0.5"/>
</g><g filter="url(#bl2)">
<circle cx="698.0" cy="1922.2" r="3.8" fill="rgb(150,150,150)"/>
<circle cx="717.2" cy="1942.4" r="5.8" fill="rgb(172,172,172)"/>
<circle cx="746.0" cy="1947.2" r="3.8" fill="rgb(150,150,150)"/>
<circle cx="750.8" cy="1930.9" r="3.5" fill="rgb(128,128,128)"/>
<circle cx="775.8" cy="1919.4" r="4.2" fill="rgb(116,116,116)"/>
<circle cx="795.0" cy="1915.5" r="3.8" fill="rgb(172,172,172)"/>
<circle cx="790.8" cy="1932.8" r="3.8" fill="rgb(150,150,150)"/>
<circle cx="831.5" cy="1943.4" r="5.4" fill="rgb(206,206,206)"/>
<circle cx="824.8" cy="1929.9" r="3.8" fill="rgb(150,150,150)"/>
<circle cx="855.6" cy="1925.1" r="3.8" fill="rgb(161,161,161)"/>
<circle cx="884.4" cy="1932.8" r="3.8" fill="rgb(105,105,105)"/>
<circle cx="900.7" cy="1940.5" r="4.8" fill="rgb(150,150,150)"/>
<circle cx="917.1" cy="1937.6" r="3.8" fill="rgb(161,161,161)"/>
<circle cx="947.8" cy="1929.0" r="4.2" fill="rgb(139,139,139)"/>
<circle cx="965.7" cy="1926.5" r="3.8" fill="rgb(150,150,150)"/>
<circle cx="980.5" cy="1914.6" r="3.5" fill="rgb(150,150,150)"/>
<circle cx="995.8" cy="1940.5" r="5.4" fill="rgb(172,172,172)"/>
<circle cx="938.2" cy="1954.9" r="3.8" fill="rgb(150,150,150)"/>
<circle cx="959.3" cy="1961.6" r="4.2" fill="rgb(139,139,139)"/>
<circle cx="981.4" cy="1958.2" r="3.5" fill="rgb(139,139,139)"/>
<circle cx="899.8" cy="1962.6" r="3.8" fill="rgb(139,139,139)"/>
<circle cx="874.2" cy="1959.7" r="4.2" fill="rgb(128,128,128)"/>
<circle cx="915.1" cy="1972.2" r="3.8" fill="rgb(161,161,161)"/>
<circle cx="844.0" cy="1964.1" r="3.8" fill="rgb(139,139,139)"/>
<circle cx="822.9" cy="1967.4" r="2.9" fill="rgb(116,116,116)"/>
<circle cx="808.9" cy="1974.7" r="4.2" fill="rgb(150,150,150)"/>
<circle cx="782.0" cy="1970.9" r="4.2" fill="rgb(139,139,139)"/>
<circle cx="757.9" cy="1969.3" r="4.2" fill="rgb(105,105,105)"/>
<circle cx="728.7" cy="1964.9" r="3.5" fill="rgb(161,161,161)"/>
<circle cx="712.4" cy="1967.8" r="2.3" fill="rgb(217,217,217)"/>
<circle cx="694.1" cy="1955.9" r="3.8" fill="rgb(184,184,184)"/>
<circle cx="691.3" cy="1986.2" r="4.2" fill="rgb(128,128,128)"/>
<circle cx="700.9" cy="1985.3" r="3.8" fill="rgb(139,139,139)"/>
<circle cx="725.9" cy="1993.3" r="3.8" fill="rgb(172,172,172)"/>
<circle cx="741.8" cy="2004.9" r="3.8" fill="rgb(105,105,105)"/>
<circle cx="692.2" cy="2016.4" r="4.8" fill="rgb(94,94,94)"/>
<circle cx="744.1" cy="2032.4" r="5.4" fill="rgb(195,195,195)"/>
<circle cx="755.6" cy="2042.3" r="3.8" fill="rgb(128,128,128)"/>
<circle cx="703.8" cy="2055.8" r="3.8" fill="rgb(116,116,116)"/>
<circle cx="775.4" cy="2017.7" r="4.2" fill="rgb(105,105,105)"/>
<circle cx="787.3" cy="1983.7" r="4.2" fill="rgb(150,150,150)"/>
<circle cx="794.6" cy="2006.2" r="4.2" fill="rgb(161,161,161)"/>
<circle cx="821.9" cy="1999.1" r="4.2" fill="rgb(139,139,139)"/>
<circle cx="839.2" cy="2014.1" r="4.2" fill="rgb(161,161,161)"/>
<circle cx="853.6" cy="1989.5" r="4.2" fill="rgb(139,139,139)"/>
<circle cx="859.4" cy="2023.1" r="3.5" fill="rgb(195,195,195)"/>
<circle cx="827.3" cy="2032.4" r="3.8" fill="rgb(150,150,150)"/>
<circle cx="850.8" cy="2048.1" r="4.6" fill="rgb(105,105,105)"/>
<circle cx="806.0" cy="2058.1" r="4.2" fill="rgb(139,139,139)"/>
<circle cx="853.6" cy="2067.3" r="3.5" fill="rgb(150,150,150)"/>
<circle cx="838.8" cy="2079.4" r="4.8" fill="rgb(105,105,105)"/>
<circle cx="870.5" cy="2078.9" r="4.8" fill="rgb(94,94,94)"/>
<circle cx="904.6" cy="2052.0" r="3.8" fill="rgb(150,150,150)"/>
<circle cx="919.9" cy="2031.2" r="7.3" fill="rgb(206,206,206)"/>
<circle cx="916.1" cy="1995.3" r="2.3" fill="rgb(195,195,195)"/>
<circle cx="938.2" cy="1986.6" r="4.8" fill="rgb(116,116,116)"/>
<circle cx="966.1" cy="1982.4" r="3.8" fill="rgb(128,128,128)"/>
<circle cx="983.3" cy="1993.3" r="3.8" fill="rgb(128,128,128)"/>
<circle cx="1004.5" cy="1994.3" r="2.9" fill="rgb(128,128,128)"/>
<circle cx="952.6" cy="2015.4" r="4.8" fill="rgb(105,105,105)"/>
<circle cx="957.4" cy="2026.6" r="2.9" fill="rgb(217,217,217)"/>
<circle cx="968.5" cy="2027.4" r="2.3" fill="rgb(195,195,195)"/>
<circle cx="971.4" cy="2005.8" r="1.9" fill="rgb(217,217,217)"/>
<circle cx="960.3" cy="2000.1" r="2.9" fill="rgb(105,105,105)"/>
<circle cx="973.7" cy="2058.7" r="4.2" fill="rgb(116,116,116)"/>
<circle cx="996.8" cy="2059.6" r="4.2" fill="rgb(150,150,150)"/>
<circle cx="957.0" cy="2068.9" r="1.5" fill="rgb(240,240,240)"/>
<circle cx="926.7" cy="2078.9" r="4.8" fill="rgb(105,105,105)"/>
<circle cx="1004.5" cy="2079.8" r="2.9" fill="rgb(128,128,128)"/>
<circle cx="904.6" cy="2099.0" r="3.8" fill="rgb(116,116,116)"/>
<circle cx="929.5" cy="2103.5" r="3.8" fill="rgb(139,139,139)"/>
<circle cx="879.6" cy="2089.4" r="1.5" fill="rgb(150,150,150)"/>
<circle cx="877.3" cy="2115.4" r="4.2" fill="rgb(139,139,139)"/>
<circle cx="914.2" cy="2120.2" r="3.8" fill="rgb(150,150,150)"/>
<circle cx="922.8" cy="2120.2" r="1.9" fill="rgb(172,172,172)"/>
<circle cx="973.7" cy="2100.6" r="4.2" fill="rgb(150,150,150)"/>
<circle cx="959.3" cy="2104.8" r="3.5" fill="rgb(83,83,83)"/>
<circle cx="1003.5" cy="2104.8" r="2.9" fill="rgb(128,128,128)"/>
<circle cx="988.1" cy="2121.1" r="3.8" fill="rgb(161,161,161)"/>
<circle cx="985.3" cy="2133.0" r="3.8" fill="rgb(150,150,150)"/>
<circle cx="948.4" cy="2128.8" r="4.2" fill="rgb(139,139,139)"/>
<circle cx="930.5" cy="2135.5" r="2.9" fill="rgb(128,128,128)"/>
<circle cx="911.3" cy="2134.6" r="4.2" fill="rgb(150,150,150)"/>
<circle cx="892.6" cy="2146.1" r="4.2" fill="rgb(139,139,139)"/>
<circle cx="873.8" cy="2143.2" r="3.8" fill="rgb(150,150,150)"/>
<circle cx="860.4" cy="2133.6" r="3.8" fill="rgb(150,150,150)"/>
<circle cx="938.2" cy="2149.0" r="5.4" fill="rgb(206,206,206)"/>
<circle cx="832.5" cy="2124.6" r="2.3" fill="rgb(228,228,228)"/>
<circle cx="820.6" cy="2133.6" r="3.8" fill="rgb(116,116,116)"/>
<circle cx="792.1" cy="2127.9" r="4.2" fill="rgb(139,139,139)"/>
<circle cx="772.5" cy="2141.3" r="3.8" fill="rgb(150,150,150)"/>
<circle cx="718.2" cy="2147.1" r="4.8" fill="rgb(105,105,105)"/>
<circle cx="692.8" cy="2146.7" r="3.8" fill="rgb(161,161,161)"/>
<circle cx="684.5" cy="2114.4" r="2.3" fill="rgb(150,150,150)"/>
<circle cx="709.5" cy="2112.5" r="4.2" fill="rgb(116,116,116)"/>
<circle cx="723.0" cy="2104.8" r="4.2" fill="rgb(139,139,139)"/>
<circle cx="751.8" cy="2096.1" r="4.8" fill="rgb(116,116,116)"/>
<circle cx="760.4" cy="2097.5" r="1.9" fill="rgb(172,172,172)"/>
<circle cx="689.3" cy="2079.8" r="4.2" fill="rgb(128,128,128)"/>
<circle cx="811.0" cy="2089.4" r="4.2" fill="rgb(128,128,128)"/>
</g></g>
<rect x="948.40" y="2138.90" width="45.50" height="3.00" fill="#fff"/>
<clipPath id="ic2"><rect x="1013.2" y="1911.1" width="321.7" height="242.7"/></clipPath>
<rect x="1013.20" y="1911.10" width="321.70" height="242.70" fill="#000"/>
<g clip-path="url(#ic2)"><g filter="url(#bl)">
<ellipse cx="1092.6" cy="1927.0" rx="11.5" ry="9.6" fill="#F00" fill-opacity="1"/>
<ellipse cx="1106.0" cy="1932.8" rx="9.6" ry="4.8" fill="#F00" fill-opacity="1"/>
<ellipse cx="1125.2" cy="1916.5" rx="6.7" ry="6.7" fill="#F00" fill-opacity="1"/>
<ellipse cx="1123.3" cy="1934.7" rx="3.8" ry="3.8" fill="#F00" fill-opacity="1"/>
<ellipse cx="1153.1" cy="1929.0" rx="5.8" ry="7.7" fill="#F00" fill-opacity="1" transform="rotate(-20 1153.1 1929.0)"/>
<ellipse cx="1284.7" cy="1925.1" rx="5.8" ry="5.8" fill="#F00" fill-opacity="1"/>
<ellipse cx="1317.4" cy="1921.3" rx="13.5" ry="9.6" fill="#F00" fill-opacity="0.85"/>
<ellipse cx="1329.9" cy="1940.5" rx="6.7" ry="13.5" fill="#F00" fill-opacity="1"/>
<ellipse cx="1298.2" cy="1939.5" rx="3.8" ry="5.8" fill="#F00" fill-opacity="1"/>
<ellipse cx="1202.1" cy="2003.0" rx="10.6" ry="9.6" fill="#F00" fill-opacity="1"/>
<ellipse cx="1207.9" cy="1992.4" rx="3.8" ry="4.8" fill="#F00" fill-opacity="1"/>
<ellipse cx="1196.3" cy="1992.4" rx="2.9" ry="2.9" fill="#F00" fill-opacity="1"/>
<ellipse cx="1220.3" cy="2001.0" rx="5.8" ry="5.8" fill="#F00" fill-opacity="1"/>
<ellipse cx="1217.5" cy="2021.2" rx="5.8" ry="4.2" fill="#F00" fill-opacity="1"/>
<ellipse cx="1074.9" cy="2026.0" rx="3.5" ry="8.6" fill="#F00" fill-opacity="1"/>
<ellipse cx="1091.6" cy="2027.9" rx="5.8" ry="2.9" fill="#F00" fill-opacity="1"/>
<ellipse cx="1061.8" cy="2047.1" rx="5.4" ry="4.8" fill="#F00" fill-opacity="1"/>
<ellipse cx="1083.0" cy="2046.2" rx="6.7" ry="5.4" fill="#F00" fill-opacity="1"/>
<ellipse cx="1095.4" cy="2046.2" rx="5.4" ry="5.8" fill="#F00" fill-opacity="1"/>
<ellipse cx="1105.4" cy="2037.0" rx="4.2" ry="5.4" fill="#F00" fill-opacity="1"/>
<ellipse cx="1181.0" cy="2069.8" rx="6.7" ry="3.5" fill="#F00" fill-opacity="1"/>
<ellipse cx="1282.8" cy="2059.6" rx="8.6" ry="6.7" fill="#F00" fill-opacity="1"/>
<ellipse cx="1279.0" cy="2069.2" rx="3.8" ry="5.8" fill="#F00" fill-opacity="1"/>
<ellipse cx="1289.5" cy="2076.0" rx="5.8" ry="5.8" fill="#F00" fill-opacity="1"/>
<ellipse cx="1328.9" cy="2080.8" rx="4.8" ry="7.7" fill="#F00" fill-opacity="1"/>
<ellipse cx="1317.4" cy="2092.3" rx="7.7" ry="3.5" fill="#F00" fill-opacity="0.9"/>
<ellipse cx="1298.2" cy="2107.7" rx="5.8" ry="11.5" fill="#F00" fill-opacity="1" transform="rotate(-20 1298.2 2107.7)"/>
<ellipse cx="1307.8" cy="2120.2" rx="6.7" ry="4.8" fill="#F00" fill-opacity="1"/>
<ellipse cx="1060.3" cy="2133.6" rx="5.8" ry="11.5" fill="#F00" fill-opacity="1"/>
<ellipse cx="1146.4" cy="2145.2" rx="7.7" ry="9.6" fill="#F00" fill-opacity="1"/>
<ellipse cx="1156.0" cy="2146.1" rx="3.8" ry="2.9" fill="#F00" fill-opacity="1"/>
<ellipse cx="1186.7" cy="2151.9" rx="5.8" ry="2.3" fill="#F00" fill-opacity="1"/>
<circle cx="1038.8" cy="2133.6" r="11.5" fill="none" stroke="#F00" stroke-width="10.1" stroke-opacity="1"/>
</g><g filter="url(#bl2)">
<circle cx="1018.6" cy="1918.4" r="2.9" fill="rgb(240,240,240)"/>
<circle cx="1022.4" cy="1923.6" r="2.3" fill="rgb(240,240,240)"/>
<circle cx="1037.4" cy="1922.8" r="3.8" fill="rgb(94,94,94)"/>
<circle cx="1017.6" cy="1935.3" r="4.2" fill="rgb(105,105,105)"/>
<circle cx="1058.0" cy="1927.0" r="5.8" fill="rgb(94,94,94)"/>
<circle cx="1053.2" cy="1944.0" r="4.8" fill="rgb(116,116,116)"/>
<circle cx="1106.0" cy="1915.5" r="4.8" fill="rgb(128,128,128)"/>
<circle cx="1112.7" cy="1925.1" r="4.8" fill="rgb(195,195,195)"/>
<circle cx="1129.1" cy="1926.1" r="3.8" fill="rgb(128,128,128)"/>
<circle cx="1141.6" cy="1924.2" r="4.2" fill="rgb(139,139,139)"/>
<circle cx="1156.0" cy="1915.5" r="4.2" fill="rgb(105,105,105)"/>
<circle cx="1094.5" cy="1944.3" r="3.8" fill="rgb(105,105,105)"/>
<circle cx="1103.1" cy="1952.4" r="4.8" fill="rgb(128,128,128)"/>
<circle cx="1085.5" cy="1953.6" r="3.8" fill="rgb(71,71,71)"/>
<circle cx="1066.6" cy="1958.2" r="4.8" fill="rgb(83,83,83)"/>
<circle cx="1063.7" cy="1971.2" r="4.8" fill="rgb(105,105,105)"/>
<circle cx="1014.7" cy="1974.1" r="3.8" fill="rgb(195,195,195)"/>
<circle cx="1133.9" cy="1943.4" r="4.8" fill="rgb(105,105,105)"/>
<circle cx="1154.4" cy="1955.9" r="4.2" fill="rgb(116,116,116)"/>
<circle cx="1138.3" cy="1975.1" r="4.8" fill="rgb(128,128,128)"/>
<circle cx="1118.1" cy="1980.5" r="2.9" fill="rgb(240,240,240)"/>
<circle cx="1115.6" cy="1993.3" r="4.8" fill="rgb(116,116,116)"/>
<circle cx="1069.5" cy="1996.6" r="6.7" fill="rgb(116,116,116)"/>
<circle cx="1050.3" cy="2018.9" r="4.2" fill="rgb(240,240,240)"/>
<circle cx="1142.5" cy="2007.8" r="4.8" fill="rgb(71,71,71)"/>
<circle cx="1179.0" cy="2000.5" r="4.8" fill="rgb(128,128,128)"/>
<circle cx="1172.9" cy="2020.2" r="4.8" fill="rgb(94,94,94)"/>
<circle cx="1161.7" cy="2027.4" r="4.8" fill="rgb(94,94,94)"/>
<circle cx="1186.3" cy="2027.0" r="4.8" fill="rgb(94,94,94)"/>
<circle cx="1176.7" cy="2038.1" r="4.2" fill="rgb(116,116,116)"/>
<circle cx="1118.5" cy="2044.7" r="4.2" fill="rgb(105,105,105)"/>
<circle cx="1132.0" cy="2055.4" r="4.8" fill="rgb(105,105,105)"/>
<circle cx="1094.5" cy="2034.7" r="5.8" fill="rgb(150,150,150)"/>
<circle cx="1071.0" cy="2040.8" r="4.2" fill="rgb(150,150,150)"/>
<circle cx="1086.8" cy="2054.8" r="3.8" fill="rgb(161,161,161)"/>
<circle cx="1042.2" cy="2050.0" r="4.2" fill="rgb(83,83,83)"/>
<circle cx="1022.4" cy="2072.5" r="4.2" fill="rgb(105,105,105)"/>
<circle cx="1030.7" cy="2082.1" r="4.8" fill="rgb(105,105,105)"/>
<circle cx="1052.2" cy="2078.9" r="4.8" fill="rgb(94,94,94)"/>
<circle cx="1119.5" cy="2068.3" r="4.8" fill="rgb(128,128,128)"/>
<circle cx="1106.0" cy="2092.3" r="4.8" fill="rgb(116,116,116)"/>
<circle cx="1029.7" cy="2097.7" r="2.9" fill="rgb(240,240,240)"/>
<circle cx="1015.7" cy="2109.6" r="2.9" fill="rgb(128,128,128)"/>
<circle cx="1080.6" cy="2109.6" r="4.8" fill="rgb(94,94,94)"/>
<circle cx="1034.3" cy="2133.0" r="4.2" fill="rgb(150,150,150)"/>
<circle cx="1056.6" cy="2129.8" r="4.2" fill="rgb(139,139,139)"/>
<circle cx="1068.2" cy="2148.0" r="4.8" fill="rgb(105,105,105)"/>
<circle cx="1031.1" cy="2151.9" r="4.8" fill="rgb(94,94,94)"/>
<circle cx="1124.7" cy="2141.3" r="4.8" fill="rgb(105,105,105)"/>
<circle cx="1157.9" cy="2074.1" r="4.8" fill="rgb(105,105,105)"/>
<circle cx="1185.8" cy="2071.2" r="3.8" fill="rgb(217,217,217)"/>
<circle cx="1163.7" cy="2099.0" r="5.4" fill="rgb(94,94,94)"/>
<circle cx="1158.9" cy="2115.4" r="4.8" fill="rgb(105,105,105)"/>
<circle cx="1163.1" cy="2134.6" r="4.2" fill="rgb(105,105,105)"/>
<circle cx="1169.4" cy="2140.3" r="4.2" fill="rgb(105,105,105)"/>
<circle cx="1191.5" cy="2106.1" r="4.2" fill="rgb(150,150,150)"/>
<circle cx="1166.2" cy="2150.9" r="3.8" fill="rgb(83,83,83)"/>
<circle cx="1202.1" cy="1923.2" r="4.2" fill="rgb(83,83,83)"/>
<circle cx="1239.9" cy="1923.6" r="4.2" fill="rgb(116,116,116)"/>
<circle cx="1187.7" cy="1938.6" r="5.4" fill="rgb(139,139,139)"/>
<circle cx="1181.9" cy="1944.3" r="4.2" fill="rgb(128,128,128)"/>
<circle cx="1204.0" cy="1944.3" r="4.2" fill="rgb(105,105,105)"/>
<circle cx="1197.3" cy="1958.8" r="6.7" fill="rgb(184,184,184)"/>
<circle cx="1189.6" cy="1961.6" r="3.8" fill="rgb(128,128,128)"/>
<circle cx="1230.9" cy="1932.8" r="2.3" fill="rgb(195,195,195)"/>
<circle cx="1229.0" cy="1956.8" r="4.8" fill="rgb(83,83,83)"/>
<circle cx="1244.0" cy="1963.6" r="4.8" fill="rgb(105,105,105)"/>
<circle cx="1227.1" cy="1975.1" r="4.2" fill="rgb(83,83,83)"/>
<circle cx="1262.6" cy="1936.7" r="5.4" fill="rgb(116,116,116)"/>
<circle cx="1263.6" cy="1944.3" r="4.2" fill="rgb(105,105,105)"/>
<circle cx="1271.3" cy="1913.6" r="3.5" fill="rgb(105,105,105)"/>
<circle cx="1288.6" cy="1915.5" r="4.2" fill="rgb(128,128,128)"/>
<circle cx="1294.9" cy="1954.0" r="4.8" fill="rgb(105,105,105)"/>
<circle cx="1315.5" cy="1949.1" r="5.8" fill="rgb(139,139,139)"/>
<circle cx="1277.6" cy="1965.5" r="4.2" fill="rgb(105,105,105)"/>
<circle cx="1317.0" cy="1977.4" r="4.8" fill="rgb(105,105,105)"/>
<circle cx="1288.2" cy="1997.2" r="4.8" fill="rgb(94,94,94)"/>
<circle cx="1317.0" cy="2000.5" r="4.2" fill="rgb(94,94,94)"/>
<circle cx="1280.5" cy="2006.8" r="5.4" fill="rgb(83,83,83)"/>
<circle cx="1250.7" cy="2015.1" r="4.2" fill="rgb(105,105,105)"/>
<circle cx="1235.1" cy="2026.0" r="6.1" fill="rgb(128,128,128)"/>
<circle cx="1219.0" cy="2013.1" r="3.8" fill="rgb(150,150,150)"/>
<circle cx="1202.1" cy="2001.6" r="3.8" fill="rgb(206,206,206)"/>
<circle cx="1278.0" cy="2032.7" r="5.4" fill="rgb(105,105,105)"/>
<circle cx="1309.7" cy="2049.1" r="4.2" fill="rgb(116,116,116)"/>
<circle cx="1315.1" cy="2056.8" r="5.4" fill="rgb(105,105,105)"/>
<circle cx="1220.9" cy="2051.0" r="5.4" fill="rgb(94,94,94)"/>
<circle cx="1239.0" cy="2058.1" r="4.2" fill="rgb(116,116,116)"/>
<circle cx="1211.7" cy="2060.6" r="4.8" fill="rgb(94,94,94)"/>
<circle cx="1290.1" cy="2066.4" r="3.8" fill="rgb(128,128,128)"/>
<circle cx="1265.5" cy="2076.0" r="4.8" fill="rgb(94,94,94)"/>
<circle cx="1226.5" cy="2083.1" r="4.2" fill="rgb(105,105,105)"/>
<circle cx="1230.0" cy="2099.0" r="4.8" fill="rgb(105,105,105)"/>
<circle cx="1226.7" cy="2106.7" r="4.2" fill="rgb(94,94,94)"/>
<circle cx="1265.1" cy="2104.2" r="4.2" fill="rgb(105,105,105)"/>
<circle cx="1294.3" cy="2093.3" r="4.8" fill="rgb(116,116,116)"/>
<circle cx="1322.2" cy="2087.5" r="3.8" fill="rgb(150,150,150)"/>
<circle cx="1307.4" cy="2111.1" r="4.8" fill="rgb(228,228,228)"/>
<circle cx="1334.3" cy="2110.6" r="2.3" fill="rgb(195,195,195)"/>
<circle cx="1222.8" cy="2124.6" r="4.2" fill="rgb(83,83,83)"/>
<circle cx="1287.6" cy="2130.4" r="4.2" fill="rgb(94,94,94)"/>
<circle cx="1315.5" cy="2134.6" r="3.5" fill="rgb(105,105,105)"/>
<circle cx="1248.8" cy="2143.2" r="5.8" fill="rgb(116,116,116)"/>
</g></g>
<rect x="1278.60" y="2138.90" width="45.50" height="3.00" fill="#fff"/>
<clipPath id="ic3"><rect x="683.0" y="2163.4" width="321.7" height="242.7"/></clipPath>
<rect x="683.00" y="2163.40" width="321.70" height="242.70" fill="#000"/>
<g clip-path="url(#ic3)"><g filter="url(#bl)">
<ellipse cx="731.6" cy="2171.7" rx="10.8" ry="8.6" fill="#F00" fill-opacity="0.9"/>
<ellipse cx="756.6" cy="2170.7" rx="12.9" ry="7.5" fill="#F00" fill-opacity="0.55"/>
<ellipse cx="772.9" cy="2201.4" rx="14.0" ry="15.1" fill="#F00" fill-opacity="0.8"/>
<ellipse cx="821.9" cy="2189.0" rx="8.6" ry="9.7" fill="#F00" fill-opacity="0.8"/>
<ellipse cx="843.1" cy="2181.3" rx="10.8" ry="15.1" fill="#F00" fill-opacity="0.7"/>
<ellipse cx="883.4" cy="2177.4" rx="17.2" ry="16.1" fill="#F00" fill-opacity="0.65"/>
<ellipse cx="896.9" cy="2204.3" rx="14.0" ry="19.4" fill="#F00" fill-opacity="0.75"/>
<ellipse cx="979.5" cy="2173.6" rx="8.6" ry="12.9" fill="#F00" fill-opacity="0.7"/>
<ellipse cx="956.4" cy="2206.3" rx="23.7" ry="9.7" fill="#F00" fill-opacity="0.7" transform="rotate(-25 956.4 2206.3)"/>
<ellipse cx="994.9" cy="2198.6" rx="10.8" ry="21.5" fill="#F00" fill-opacity="0.6"/>
<ellipse cx="705.7" cy="2221.6" rx="12.9" ry="14.0" fill="#F00" fill-opacity="0.9"/>
<ellipse cx="702.8" cy="2262.0" rx="19.4" ry="23.7" fill="#F00" fill-opacity="0.65"/>
<ellipse cx="735.5" cy="2260.1" rx="10.8" ry="7.5" fill="#F00" fill-opacity="0.75"/>
<ellipse cx="777.7" cy="2233.2" rx="12.9" ry="12.9" fill="#F00" fill-opacity="0.45"/>
<ellipse cx="795.0" cy="2228.4" rx="8.6" ry="10.8" fill="#F00" fill-opacity="0.6"/>
<ellipse cx="777.7" cy="2250.4" rx="8.6" ry="10.8" fill="#F00" fill-opacity="0.95"/>
<ellipse cx="817.1" cy="2235.1" rx="7.5" ry="17.2" fill="#F00" fill-opacity="0.4"/>
<ellipse cx="831.5" cy="2231.2" rx="10.8" ry="9.7" fill="#F00" fill-opacity="0.95"/>
<ellipse cx="848.8" cy="2212.0" rx="8.6" ry="15.1" fill="#F00" fill-opacity="0.7"/>
<ellipse cx="881.5" cy="2265.8" rx="19.4" ry="17.2" fill="#F00" fill-opacity="0.6"/>
<ellipse cx="910.3" cy="2262.0" rx="12.9" ry="10.8" fill="#F00" fill-opacity="0.7"/>
<ellipse cx="927.6" cy="2275.4" rx="12.9" ry="12.9" fill="#F00" fill-opacity="0.5"/>
<ellipse cx="971.8" cy="2244.7" rx="15.1" ry="7.5" fill="#F00" fill-opacity="0.8"/>
<ellipse cx="969.9" cy="2263.9" rx="15.1" ry="7.5" fill="#F00" fill-opacity="0.6"/>
<ellipse cx="983.3" cy="2283.1" rx="12.9" ry="15.1" fill="#F00" fill-opacity="0.7"/>
<ellipse cx="964.1" cy="2290.8" rx="8.6" ry="8.6" fill="#F00" fill-opacity="0.7"/>
<ellipse cx="741.2" cy="2302.3" rx="17.2" ry="12.9" fill="#F00" fill-opacity="0.95"/>
<ellipse cx="754.7" cy="2285.0" rx="5.4" ry="5.4" fill="#F00" fill-opacity="1"/>
<ellipse cx="743.1" cy="2321.5" rx="15.1" ry="8.6" fill="#F00" fill-opacity="0.6"/>
<ellipse cx="789.3" cy="2294.6" rx="9.7" ry="8.6" fill="#F00" fill-opacity="0.95"/>
<ellipse cx="812.3" cy="2296.6" rx="10.8" ry="8.6" fill="#F00" fill-opacity="1"/>
<ellipse cx="829.6" cy="2281.2" rx="7.5" ry="7.5" fill="#F00" fill-opacity="0.9"/>
<ellipse cx="770.0" cy="2298.5" rx="6.5" ry="4.3" fill="#F00" fill-opacity="0.7"/>
<ellipse cx="856.5" cy="2313.9" rx="12.9" ry="23.7" fill="#F00" fill-opacity="0.65" transform="rotate(20 856.5 2313.9)"/>
<ellipse cx="908.4" cy="2325.4" rx="17.2" ry="21.5" fill="#F00" fill-opacity="0.6"/>
<ellipse cx="923.8" cy="2294.6" rx="12.9" ry="10.8" fill="#F00" fill-opacity="0.4"/>
<ellipse cx="885.3" cy="2308.1" rx="8.6" ry="10.8" fill="#F00" fill-opacity="0.4"/>
<ellipse cx="698.9" cy="2338.8" rx="16.1" ry="10.8" fill="#F00" fill-opacity="0.85"/>
<ellipse cx="727.8" cy="2361.9" rx="10.8" ry="12.9" fill="#F00" fill-opacity="0.8"/>
<ellipse cx="708.6" cy="2373.4" rx="10.8" ry="8.6" fill="#F00" fill-opacity="0.8"/>
<ellipse cx="791.2" cy="2340.8" rx="8.6" ry="25.8" fill="#F00" fill-opacity="0.75" transform="rotate(15 791.2 2340.8)"/>
<ellipse cx="777.7" cy="2369.6" rx="10.8" ry="15.1" fill="#F00" fill-opacity="0.6"/>
<ellipse cx="810.4" cy="2371.5" rx="17.2" ry="17.2" fill="#F00" fill-opacity="0.6"/>
<ellipse cx="766.2" cy="2390.7" rx="12.9" ry="10.8" fill="#F00" fill-opacity="0.85"/>
<ellipse cx="827.7" cy="2390.7" rx="8.6" ry="8.6" fill="#F00" fill-opacity="1"/>
<ellipse cx="814.2" cy="2400.3" rx="12.9" ry="6.5" fill="#F00" fill-opacity="0.6"/>
<ellipse cx="833.5" cy="2367.7" rx="6.5" ry="10.8" fill="#F00" fill-opacity="0.6"/>
<ellipse cx="854.6" cy="2381.1" rx="5.4" ry="6.5" fill="#F00" fill-opacity="0.8"/>
<ellipse cx="879.6" cy="2346.5" rx="9.7" ry="7.5" fill="#F00" fill-opacity="0.9"/>
<ellipse cx="871.9" cy="2367.7" rx="10.8" ry="4.3" fill="#F00" fill-opacity="0.5"/>
<ellipse cx="991.0" cy="2361.9" rx="12.9" ry="10.8" fill="#F00" fill-opacity="1"/>
<ellipse cx="929.5" cy="2377.3" rx="11.8" ry="11.8" fill="#F00" fill-opacity="0.8"/>
<ellipse cx="927.6" cy="2398.4" rx="12.9" ry="8.6" fill="#F00" fill-opacity="0.8"/>
<ellipse cx="948.8" cy="2377.3" rx="6.5" ry="10.8" fill="#F00" fill-opacity="0.6"/>
<ellipse cx="966.1" cy="2381.1" rx="7.5" ry="10.8" fill="#F00" fill-opacity="0.7"/>
<ellipse cx="968.0" cy="2400.3" rx="8.6" ry="6.5" fill="#F00" fill-opacity="0.6"/>
<ellipse cx="691.3" cy="2381.1" rx="8.6" ry="10.8" fill="#F00" fill-opacity="0.6"/>
<ellipse cx="687.4" cy="2396.5" rx="6.5" ry="8.6" fill="#F00" fill-opacity="0.6"/>
<ellipse cx="833.5" cy="2348.4" rx="5.4" ry="10.8" fill="#F00" fill-opacity="0.4"/>
<ellipse cx="937.2" cy="2344.6" rx="6.5" ry="6.5" fill="#F00" fill-opacity="0.5"/>
<ellipse cx="935.3" cy="2265.8" rx="8.6" ry="4.3" fill="#F00" fill-opacity="0.4"/>
</g><g filter="url(#bl2)">
<circle cx="744.1" cy="2170.7" r="3.8" fill="rgb(172,172,172)"/>
<circle cx="825.8" cy="2171.7" r="4.2" fill="rgb(150,150,150)"/>
<circle cx="865.2" cy="2185.5" r="4.2" fill="rgb(161,161,161)"/>
<circle cx="808.1" cy="2197.6" r="6.1" fill="rgb(195,195,195)"/>
<circle cx="820.4" cy="2197.6" r="3.8" fill="rgb(206,206,206)"/>
<circle cx="891.1" cy="2196.6" r="3.8" fill="rgb(240,240,240)"/>
<circle cx="769.1" cy="2201.4" r="3.8" fill="rgb(206,206,206)"/>
<circle cx="714.9" cy="2205.7" r="4.2" fill="rgb(150,150,150)"/>
<circle cx="854.6" cy="2209.7" r="3.8" fill="rgb(172,172,172)"/>
<circle cx="968.5" cy="2204.7" r="4.2" fill="rgb(150,150,150)"/>
<circle cx="801.2" cy="2218.7" r="4.2" fill="rgb(161,161,161)"/>
<circle cx="842.1" cy="2223.5" r="3.8" fill="rgb(172,172,172)"/>
<circle cx="874.4" cy="2228.9" r="4.2" fill="rgb(172,172,172)"/>
<circle cx="893.6" cy="2227.4" r="4.2" fill="rgb(161,161,161)"/>
<circle cx="978.5" cy="2224.5" r="3.8" fill="rgb(105,105,105)"/>
<circle cx="784.1" cy="2233.5" r="4.2" fill="rgb(139,139,139)"/>
<circle cx="708.6" cy="2236.4" r="4.2" fill="rgb(172,172,172)"/>
<circle cx="839.6" cy="2241.8" r="4.2" fill="rgb(206,206,206)"/>
<circle cx="687.0" cy="2243.1" r="3.8" fill="rgb(150,150,150)"/>
<circle cx="861.3" cy="2247.6" r="5.4" fill="rgb(150,150,150)"/>
<circle cx="823.9" cy="2250.4" r="4.8" fill="rgb(139,139,139)"/>
<circle cx="926.7" cy="2245.6" r="4.8" fill="rgb(83,83,83)"/>
<circle cx="976.6" cy="2241.2" r="4.2" fill="rgb(161,161,161)"/>
<circle cx="713.0" cy="2257.8" r="4.2" fill="rgb(161,161,161)"/>
<circle cx="787.3" cy="2262.4" r="4.2" fill="rgb(150,150,150)"/>
<circle cx="842.1" cy="2263.9" r="4.2" fill="rgb(161,161,161)"/>
<circle cx="875.4" cy="2263.3" r="4.8" fill="rgb(128,128,128)"/>
<circle cx="900.3" cy="2270.0" r="3.8" fill="rgb(195,195,195)"/>
<circle cx="934.9" cy="2270.0" r="4.2" fill="rgb(161,161,161)"/>
<circle cx="972.2" cy="2265.4" r="4.2" fill="rgb(195,195,195)"/>
<circle cx="726.8" cy="2275.0" r="4.8" fill="rgb(150,150,150)"/>
<circle cx="698.0" cy="2282.2" r="4.2" fill="rgb(150,150,150)"/>
<circle cx="772.0" cy="2287.0" r="4.8" fill="rgb(94,94,94)"/>
<circle cx="819.0" cy="2284.1" r="3.8" fill="rgb(172,172,172)"/>
<circle cx="780.2" cy="2292.7" r="3.8" fill="rgb(195,195,195)"/>
<circle cx="804.6" cy="2293.1" r="3.8" fill="rgb(217,217,217)"/>
<circle cx="742.2" cy="2293.7" r="4.2" fill="rgb(240,240,240)"/>
<circle cx="898.4" cy="2285.6" r="4.2" fill="rgb(105,105,105)"/>
<circle cx="966.6" cy="2286.0" r="4.2" fill="rgb(150,150,150)"/>
<circle cx="912.2" cy="2295.6" r="4.8" fill="rgb(128,128,128)"/>
<circle cx="937.2" cy="2297.0" r="4.8" fill="rgb(172,172,172)"/>
<circle cx="987.8" cy="2303.9" r="3.8" fill="rgb(184,184,184)"/>
<circle cx="718.2" cy="2303.9" r="4.2" fill="rgb(139,139,139)"/>
<circle cx="826.7" cy="2308.7" r="4.8" fill="rgb(94,94,94)"/>
<circle cx="865.2" cy="2308.1" r="4.2" fill="rgb(184,184,184)"/>
<circle cx="870.0" cy="2316.7" r="4.8" fill="rgb(105,105,105)"/>
<circle cx="911.7" cy="2315.4" r="4.2" fill="rgb(184,184,184)"/>
<circle cx="754.7" cy="2313.3" r="4.2" fill="rgb(150,150,150)"/>
<circle cx="706.6" cy="2319.2" r="4.8" fill="rgb(128,128,128)"/>
<circle cx="786.0" cy="2330.2" r="5.4" fill="rgb(228,228,228)"/>
<circle cx="693.2" cy="2340.2" r="3.8" fill="rgb(206,206,206)"/>
<circle cx="879.6" cy="2343.1" r="4.2" fill="rgb(184,184,184)"/>
<circle cx="914.6" cy="2340.2" r="4.2" fill="rgb(172,172,172)"/>
<circle cx="929.5" cy="2346.1" r="4.8" fill="rgb(161,161,161)"/>
<circle cx="968.9" cy="2343.1" r="4.8" fill="rgb(83,83,83)"/>
<circle cx="689.3" cy="2353.8" r="4.8" fill="rgb(105,105,105)"/>
<circle cx="754.1" cy="2354.2" r="3.8" fill="rgb(49,49,49)"/>
<circle cx="818.1" cy="2355.2" r="3.8" fill="rgb(161,161,161)"/>
<circle cx="834.4" cy="2354.6" r="4.8" fill="rgb(139,139,139)"/>
<circle cx="985.3" cy="2356.5" r="4.2" fill="rgb(184,184,184)"/>
<circle cx="727.4" cy="2361.9" r="3.8" fill="rgb(172,172,172)"/>
<circle cx="860.9" cy="2368.2" r="4.2" fill="rgb(150,150,150)"/>
<circle cx="777.4" cy="2373.8" r="3.8" fill="rgb(172,172,172)"/>
<circle cx="948.4" cy="2379.8" r="3.8" fill="rgb(184,184,184)"/>
<circle cx="968.0" cy="2382.1" r="3.8" fill="rgb(161,161,161)"/>
<circle cx="694.7" cy="2382.1" r="4.8" fill="rgb(172,172,172)"/>
<circle cx="688.4" cy="2385.9" r="2.9" fill="rgb(240,240,240)"/>
<circle cx="793.5" cy="2388.2" r="4.2" fill="rgb(172,172,172)"/>
<circle cx="742.8" cy="2389.8" r="4.8" fill="rgb(60,60,60)"/>
<circle cx="827.7" cy="2386.9" r="5.4" fill="rgb(195,195,195)"/>
<circle cx="932.4" cy="2392.6" r="5.4" fill="rgb(217,217,217)"/>
<circle cx="759.5" cy="2402.6" r="4.8" fill="rgb(128,128,128)"/>
<circle cx="687.4" cy="2397.5" r="3.8" fill="rgb(150,150,150)"/>
</g></g>
<rect x="948.40" y="2391.20" width="45.50" height="3.00" fill="#fff"/>
<clipPath id="ic4"><rect x="1013.2" y="2163.4" width="321.7" height="242.7"/></clipPath>
<rect x="1013.20" y="2163.40" width="321.70" height="242.70" fill="#000"/>
<g clip-path="url(#ic4)"><g filter="url(#bl)">
<ellipse cx="1024.3" cy="2173.6" rx="9.1" ry="11.1" fill="#F00" fill-opacity="1"/>
<ellipse cx="1102.2" cy="2189.0" rx="8.1" ry="6.1" fill="#F00" fill-opacity="0.4"/>
<ellipse cx="1134.8" cy="2198.6" rx="10.1" ry="12.1" fill="#F00" fill-opacity="0.6"/>
<ellipse cx="1161.7" cy="2204.3" rx="16.1" ry="20.2" fill="#F00" fill-opacity="0.8"/>
<ellipse cx="1169.4" cy="2171.7" rx="10.1" ry="9.1" fill="#F00" fill-opacity="0.8"/>
<ellipse cx="1142.5" cy="2173.6" rx="4.0" ry="4.0" fill="#F00" fill-opacity="0.9"/>
<ellipse cx="1192.5" cy="2213.9" rx="10.1" ry="14.1" fill="#F00" fill-opacity="0.6"/>
<ellipse cx="1210.7" cy="2204.3" rx="7.1" ry="9.1" fill="#F00" fill-opacity="0.8"/>
<ellipse cx="1213.6" cy="2173.6" rx="14.1" ry="10.1" fill="#F00" fill-opacity="0.3"/>
<ellipse cx="1243.4" cy="2212.0" rx="12.1" ry="19.2" fill="#F00" fill-opacity="0.75"/>
<ellipse cx="1279.0" cy="2210.1" rx="6.1" ry="4.0" fill="#F00" fill-opacity="0.7"/>
<ellipse cx="1292.4" cy="2190.9" rx="5.0" ry="6.1" fill="#F00" fill-opacity="0.6"/>
<ellipse cx="1313.5" cy="2217.8" rx="10.1" ry="8.1" fill="#F00" fill-opacity="0.85"/>
<ellipse cx="1325.1" cy="2237.0" rx="10.1" ry="7.1" fill="#F00" fill-opacity="0.6"/>
<ellipse cx="1332.8" cy="2190.9" rx="6.1" ry="16.1" fill="#F00" fill-opacity="0.5"/>
<ellipse cx="1317.4" cy="2192.8" rx="8.1" ry="3.0" fill="#F00" fill-opacity="0.5"/>
<ellipse cx="1085.8" cy="2226.4" rx="5.0" ry="6.1" fill="#F00" fill-opacity="0.8"/>
<ellipse cx="1094.5" cy="2213.9" rx="6.1" ry="8.1" fill="#F00" fill-opacity="0.35"/>
<ellipse cx="1080.1" cy="2247.6" rx="8.1" ry="8.1" fill="#F00" fill-opacity="1"/>
<ellipse cx="1131.0" cy="2244.7" rx="11.1" ry="10.1" fill="#F00" fill-opacity="0.85"/>
<ellipse cx="1152.1" cy="2237.0" rx="9.1" ry="12.1" fill="#F00" fill-opacity="0.55"/>
<ellipse cx="1204.0" cy="2260.1" rx="6.1" ry="8.1" fill="#F00" fill-opacity="0.7"/>
<ellipse cx="1230.9" cy="2246.6" rx="12.1" ry="9.1" fill="#F00" fill-opacity="0.85"/>
<ellipse cx="1267.4" cy="2247.6" rx="7.1" ry="6.1" fill="#F00" fill-opacity="0.9"/>
<ellipse cx="1169.4" cy="2282.2" rx="8.1" ry="5.0" fill="#F00" fill-opacity="0.85"/>
<ellipse cx="1200.2" cy="2290.8" rx="10.1" ry="4.0" fill="#F00" fill-opacity="0.7"/>
<ellipse cx="1239.6" cy="2302.3" rx="12.1" ry="8.1" fill="#F00" fill-opacity="0.8"/>
<ellipse cx="1221.3" cy="2297.5" rx="4.0" ry="4.0" fill="#F00" fill-opacity="0.9"/>
<ellipse cx="1276.1" cy="2291.8" rx="11.1" ry="6.1" fill="#F00" fill-opacity="1"/>
<ellipse cx="1273.2" cy="2269.7" rx="4.0" ry="3.0" fill="#F00" fill-opacity="1"/>
<ellipse cx="1288.6" cy="2277.4" rx="3.0" ry="5.0" fill="#F00" fill-opacity="0.9"/>
<ellipse cx="1127.2" cy="2312.9" rx="9.1" ry="4.0" fill="#F00" fill-opacity="0.8"/>
<ellipse cx="1330.8" cy="2319.6" rx="6.1" ry="8.1" fill="#F00" fill-opacity="1"/>
<ellipse cx="1059.9" cy="2349.4" rx="8.1" ry="9.1" fill="#F00" fill-opacity="1"/>
<ellipse cx="1075.3" cy="2342.7" rx="6.1" ry="3.0" fill="#F00" fill-opacity="1"/>
<ellipse cx="1083.9" cy="2351.3" rx="5.6" ry="4.4" fill="#F00" fill-opacity="1"/>
<ellipse cx="1121.4" cy="2334.0" rx="3.0" ry="2.0" fill="#F00" fill-opacity="0.8"/>
<ellipse cx="1106.0" cy="2367.7" rx="4.0" ry="10.1" fill="#F00" fill-opacity="0.6"/>
<ellipse cx="1119.5" cy="2356.1" rx="4.0" ry="2.0" fill="#F00" fill-opacity="0.5"/>
<ellipse cx="1077.2" cy="2374.4" rx="5.0" ry="5.0" fill="#F00" fill-opacity="0.9"/>
<ellipse cx="1142.5" cy="2379.2" rx="9.1" ry="11.1" fill="#F00" fill-opacity="0.95"/>
<ellipse cx="1161.7" cy="2389.8" rx="7.1" ry="11.1" fill="#F00" fill-opacity="1"/>
<ellipse cx="1174.2" cy="2377.3" rx="5.0" ry="6.1" fill="#F00" fill-opacity="0.9"/>
<ellipse cx="1087.8" cy="2400.3" rx="4.0" ry="6.1" fill="#F00" fill-opacity="1"/>
<ellipse cx="1330.8" cy="2394.6" rx="5.0" ry="4.0" fill="#F00" fill-opacity="1"/>
<ellipse cx="1314.5" cy="2400.3" rx="3.0" ry="4.0" fill="#F00" fill-opacity="0.9"/>
<ellipse cx="1302.0" cy="2400.3" rx="2.4" ry="1.6" fill="#F00" fill-opacity="0.9"/>
<ellipse cx="1148.3" cy="2404.2" rx="6.1" ry="2.0" fill="#F00" fill-opacity="0.7"/>
<ellipse cx="1330.8" cy="2254.3" rx="3.0" ry="4.0" fill="#F00" fill-opacity="0.9"/>
<ellipse cx="1331.8" cy="2269.7" rx="2.4" ry="2.4" fill="#F00" fill-opacity="0.9"/>
<ellipse cx="1175.2" cy="2358.1" rx="4.0" ry="5.0" fill="#F00" fill-opacity="0.8"/>
<ellipse cx="1211.7" cy="2352.3" rx="3.0" ry="3.0" fill="#F00" fill-opacity="0.6"/>
<circle cx="1069.5" cy="2179.3" r="10.8" fill="none" stroke="#F00" stroke-width="7.7" stroke-opacity="0.7"/>
<circle cx="1104.1" cy="2256.2" r="14.1" fill="none" stroke="#F00" stroke-width="7.7" stroke-opacity="0.7"/>
<circle cx="1163.7" cy="2244.7" r="12.5" fill="none" stroke="#F00" stroke-width="6.7" stroke-opacity="0.5"/>
<circle cx="1194.4" cy="2254.3" r="11.4" fill="none" stroke="#F00" stroke-width="6.7" stroke-opacity="0.6"/>
<circle cx="1246.3" cy="2269.7" r="11.4" fill="none" stroke="#F00" stroke-width="7.7" stroke-opacity="0.55"/>
<circle cx="1083.0" cy="2283.1" r="12.5" fill="none" stroke="#F00" stroke-width="8.2" stroke-opacity="0.95"/>
<circle cx="1123.3" cy="2283.1" r="9.3" fill="none" stroke="#F00" stroke-width="5.8" stroke-opacity="0.7"/>
<circle cx="1154.1" cy="2294.6" r="12.9" fill="none" stroke="#F00" stroke-width="6.7" stroke-opacity="0.7"/>
<circle cx="1276.1" cy="2283.1" r="10.8" fill="none" stroke="#F00" stroke-width="5.3" stroke-opacity="0.6"/>
<circle cx="1185.8" cy="2313.9" r="12.5" fill="none" stroke="#F00" stroke-width="8.2" stroke-opacity="0.45"/>
<circle cx="1216.5" cy="2321.5" r="12.9" fill="none" stroke="#F00" stroke-width="8.2" stroke-opacity="0.9"/>
<circle cx="1150.2" cy="2331.2" r="11.4" fill="none" stroke="#F00" stroke-width="8.2" stroke-opacity="0.85"/>
<circle cx="1186.7" cy="2344.6" r="14.1" fill="none" stroke="#F00" stroke-width="8.2" stroke-opacity="0.85"/>
<circle cx="1227.1" cy="2350.4" r="10.4" fill="none" stroke="#F00" stroke-width="6.7" stroke-opacity="1"/>
</g><g filter="url(#bl2)">
<circle cx="1031.5" cy="2178.4" r="4.2" fill="rgb(150,150,150)"/>
<circle cx="1069.1" cy="2186.1" r="4.2" fill="rgb(161,161,161)"/>
<circle cx="1105.1" cy="2173.6" r="6.7" fill="rgb(172,172,172)"/>
<circle cx="1135.8" cy="2180.3" r="4.2" fill="rgb(184,184,184)"/>
<circle cx="1101.6" cy="2197.0" r="4.8" fill="rgb(139,139,139)"/>
<circle cx="1148.7" cy="2194.3" r="3.5" fill="rgb(228,228,228)"/>
<circle cx="1173.7" cy="2200.1" r="3.8" fill="rgb(228,228,228)"/>
<circle cx="1190.0" cy="2193.2" r="4.2" fill="rgb(172,172,172)"/>
<circle cx="1219.0" cy="2201.4" r="3.8" fill="rgb(206,206,206)"/>
<circle cx="1261.1" cy="2177.0" r="4.2" fill="rgb(150,150,150)"/>
<circle cx="1281.5" cy="2198.2" r="4.8" fill="rgb(150,150,150)"/>
<circle cx="1311.6" cy="2168.8" r="4.2" fill="rgb(128,128,128)"/>
<circle cx="1319.3" cy="2165.9" r="3.5" fill="rgb(150,150,150)"/>
<circle cx="1316.4" cy="2207.2" r="4.2" fill="rgb(161,161,161)"/>
<circle cx="1327.0" cy="2227.4" r="4.8" fill="rgb(150,150,150)"/>
<circle cx="1234.8" cy="2213.6" r="5.8" fill="rgb(206,206,206)"/>
<circle cx="1135.4" cy="2213.6" r="4.2" fill="rgb(161,161,161)"/>
<circle cx="1165.2" cy="2213.9" r="4.2" fill="rgb(206,206,206)"/>
<circle cx="1182.5" cy="2214.9" r="4.2" fill="rgb(206,206,206)"/>
<circle cx="1109.5" cy="2220.7" r="4.2" fill="rgb(150,150,150)"/>
<circle cx="1209.2" cy="2229.7" r="4.2" fill="rgb(161,161,161)"/>
<circle cx="1159.4" cy="2238.0" r="4.8" fill="rgb(150,150,150)"/>
<circle cx="1174.2" cy="2238.9" r="4.8" fill="rgb(128,128,128)"/>
<circle cx="1084.3" cy="2238.9" r="3.8" fill="rgb(206,206,206)"/>
<circle cx="1260.7" cy="2243.7" r="4.2" fill="rgb(150,150,150)"/>
<circle cx="1316.4" cy="2250.4" r="4.8" fill="rgb(94,94,94)"/>
<circle cx="1104.1" cy="2258.7" r="4.8" fill="rgb(150,150,150)"/>
<circle cx="1134.8" cy="2255.6" r="4.2" fill="rgb(184,184,184)"/>
<circle cx="1146.8" cy="2252.4" r="4.8" fill="rgb(128,128,128)"/>
<circle cx="1193.4" cy="2257.2" r="4.2" fill="rgb(172,172,172)"/>
<circle cx="1225.5" cy="2256.6" r="4.2" fill="rgb(172,172,172)"/>
<circle cx="1174.2" cy="2259.1" r="1.5" fill="rgb(217,217,217)"/>
<circle cx="1246.3" cy="2265.8" r="4.8" fill="rgb(139,139,139)"/>
<circle cx="1183.3" cy="2271.2" r="4.8" fill="rgb(128,128,128)"/>
<circle cx="1047.0" cy="2274.5" r="4.8" fill="rgb(83,83,83)"/>
<circle cx="1082.6" cy="2279.3" r="4.8" fill="rgb(150,150,150)"/>
<circle cx="1126.8" cy="2281.6" r="4.2" fill="rgb(161,161,161)"/>
<circle cx="1180.4" cy="2283.7" r="3.8" fill="rgb(217,217,217)"/>
<circle cx="1275.7" cy="2283.1" r="4.2" fill="rgb(172,172,172)"/>
<circle cx="1321.2" cy="2290.2" r="4.8" fill="rgb(71,71,71)"/>
<circle cx="1332.8" cy="2290.8" r="2.9" fill="rgb(83,83,83)"/>
<circle cx="1152.5" cy="2295.2" r="4.8" fill="rgb(161,161,161)"/>
<circle cx="1202.7" cy="2295.6" r="4.2" fill="rgb(172,172,172)"/>
<circle cx="1231.3" cy="2298.9" r="4.2" fill="rgb(172,172,172)"/>
<circle cx="1162.1" cy="2311.4" r="4.8" fill="rgb(128,128,128)"/>
<circle cx="1185.2" cy="2313.3" r="4.8" fill="rgb(139,139,139)"/>
<circle cx="1288.9" cy="2313.3" r="4.8" fill="rgb(71,71,71)"/>
<circle cx="1213.0" cy="2321.9" r="4.2" fill="rgb(172,172,172)"/>
<circle cx="1130.6" cy="2323.1" r="4.8" fill="rgb(128,128,128)"/>
<circle cx="1059.9" cy="2329.6" r="4.2" fill="rgb(116,116,116)"/>
<circle cx="1150.2" cy="2330.8" r="4.2" fill="rgb(161,161,161)"/>
<circle cx="1111.2" cy="2331.2" r="4.8" fill="rgb(42,42,42)"/>
<circle cx="1128.7" cy="2343.1" r="2.7" fill="rgb(240,240,240)"/>
<circle cx="1187.1" cy="2341.3" r="4.2" fill="rgb(161,161,161)"/>
<circle cx="1227.1" cy="2347.9" r="4.2" fill="rgb(184,184,184)"/>
<circle cx="1259.7" cy="2344.6" r="4.8" fill="rgb(83,83,83)"/>
<circle cx="1164.6" cy="2346.1" r="4.8" fill="rgb(116,116,116)"/>
<circle cx="1094.5" cy="2346.9" r="4.2" fill="rgb(128,128,128)"/>
<circle cx="1183.3" cy="2357.5" r="4.2" fill="rgb(161,161,161)"/>
<circle cx="1063.7" cy="2360.9" r="4.8" fill="rgb(161,161,161)"/>
<circle cx="1154.4" cy="2358.1" r="4.8" fill="rgb(94,94,94)"/>
<circle cx="1282.8" cy="2359.0" r="5.4" fill="rgb(83,83,83)"/>
<circle cx="1112.4" cy="2366.7" r="4.2" fill="rgb(139,139,139)"/>
<circle cx="1047.4" cy="2378.2" r="4.2" fill="rgb(105,105,105)"/>
<circle cx="1084.3" cy="2382.5" r="4.2" fill="rgb(128,128,128)"/>
<circle cx="1137.7" cy="2377.3" r="4.8" fill="rgb(217,217,217)"/>
<circle cx="1167.5" cy="2377.3" r="3.8" fill="rgb(184,184,184)"/>
<circle cx="1120.4" cy="2395.0" r="4.8" fill="rgb(94,94,94)"/>
<circle cx="1229.6" cy="2394.6" r="4.8" fill="rgb(94,94,94)"/>
<circle cx="1042.2" cy="2400.3" r="4.8" fill="rgb(83,83,83)"/>
<circle cx="1109.9" cy="2402.6" r="4.2" fill="rgb(116,116,116)"/>
<circle cx="1167.5" cy="2402.6" r="3.8" fill="rgb(139,139,139)"/>
<circle cx="1328.0" cy="2401.9" r="3.5" fill="rgb(150,150,150)"/>
<circle cx="1204.0" cy="2164.9" r="2.9" fill="rgb(128,128,128)"/>
<circle cx="1167.5" cy="2165.9" r="3.5" fill="rgb(172,172,172)"/>
</g></g>
<rect x="1278.60" y="2391.20" width="45.50" height="3.00" fill="#fff"/>
<text x="678.20" y="2436.30" font-size="25.5" fill="#A6A6A6">Hoechst</text>
<text x="779.70" y="2436.30" font-size="25.5" fill="#FF0000">LD540</text>
<text x="1383.50" y="1829.50" font-size="50.5">j</text>
<line x1="1527.40" y1="1948.30" x2="1527.40" y2="2406.30" stroke="#000" stroke-width="3.0"/>
<line x1="1507.50" y1="1949.80" x2="1527.40" y2="1949.80" stroke="#000" stroke-width="3.0"/>
<text x="1503.70" y="1961.40" font-size="32" text-anchor="end">100</text>
<line x1="1507.50" y1="2041.50" x2="1527.40" y2="2041.50" stroke="#000" stroke-width="3.0"/>
<text x="1503.70" y="2053.10" font-size="32" text-anchor="end">80</text>
<line x1="1507.50" y1="2132.10" x2="1527.40" y2="2132.10" stroke="#000" stroke-width="3.0"/>
<text x="1503.70" y="2143.70" font-size="32" text-anchor="end">60</text>
<line x1="1507.50" y1="2222.80" x2="1527.40" y2="2222.80" stroke="#000" stroke-width="3.0"/>
<text x="1503.70" y="2234.40" font-size="32" text-anchor="end">40</text>
<line x1="1507.50" y1="2313.50" x2="1527.40" y2="2313.50" stroke="#000" stroke-width="3.0"/>
<text x="1503.70" y="2325.10" font-size="32" text-anchor="end">20</text>
<line x1="1507.50" y1="2404.80" x2="1527.40" y2="2404.80" stroke="#000" stroke-width="3.0"/>
<text x="1503.70" y="2416.40" font-size="32" text-anchor="end">0</text>
<rect x="1563.30" y="2155.40" width="65.00" height="249.40" fill="none" stroke="#808080" stroke-width="3.0"/>
<rect x="1648.80" y="2301.50" width="64.40" height="103.30" fill="url(#dotg)" stroke="#808080" stroke-width="3.0"/>
<rect x="1749.80" y="2043.20" width="65.00" height="361.60" fill="none" stroke="#000080" stroke-width="3.0"/>
<rect x="1836.00" y="2051.00" width="64.30" height="353.80" fill="url(#dotn)" stroke="#000080" stroke-width="3.0"/>
<line x1="1507.50" y1="2404.80" x2="1937.90" y2="2404.80" stroke="#000" stroke-width="3.0"/>
<line x1="1595.80" y1="2143.40" x2="1595.80" y2="2166.30" stroke="#808080" stroke-width="2.7"/>
<line x1="1589.30" y1="2143.40" x2="1602.30" y2="2143.40" stroke="#808080" stroke-width="2.7"/>
<line x1="1589.30" y1="2166.30" x2="1602.30" y2="2166.30" stroke="#808080" stroke-width="2.7"/>
<line x1="1680.70" y1="2282.70" x2="1680.70" y2="2315.90" stroke="#808080" stroke-width="2.7"/>
<line x1="1672.70" y1="2282.70" x2="1688.70" y2="2282.70" stroke="#808080" stroke-width="2.7"/>
<line x1="1672.70" y1="2315.90" x2="1688.70" y2="2315.90" stroke="#808080" stroke-width="2.7"/>
<line x1="1782.30" y1="2030.50" x2="1782.30" y2="2051.00" stroke="#000080" stroke-width="2.7"/>
<line x1="1774.30" y1="2030.50" x2="1790.30" y2="2030.50" stroke="#000080" stroke-width="2.7"/>
<line x1="1774.30" y1="2051.00" x2="1790.30" y2="2051.00" stroke="#000080" stroke-width="2.7"/>
<line x1="1867.80" y1="2032.90" x2="1867.80" y2="2066.40" stroke="#000080" stroke-width="2.7"/>
<line x1="1859.80" y1="2032.90" x2="1875.80" y2="2032.90" stroke="#000080" stroke-width="2.7"/>
<line x1="1859.80" y1="2066.40" x2="1875.80" y2="2066.40" stroke="#000080" stroke-width="2.7"/>
<circle cx="1595.80" cy="2128.70" r="4.90" fill="none" stroke="#808080" stroke-width="2.8"/>
<circle cx="1595.80" cy="2148.50" r="4.90" fill="none" stroke="#808080" stroke-width="2.8"/>
<circle cx="1586.20" cy="2169.80" r="4.90" fill="none" stroke="#808080" stroke-width="2.8"/>
<circle cx="1605.00" cy="2168.00" r="4.90" fill="none" stroke="#808080" stroke-width="2.8"/>
<circle cx="1680.70" cy="2263.20" r="4.90" fill="none" stroke="#808080" stroke-width="2.8"/>
<circle cx="1680.70" cy="2285.10" r="4.90" fill="none" stroke="#808080" stroke-width="2.8"/>
<circle cx="1680.70" cy="2310.00" r="4.90" fill="none" stroke="#808080" stroke-width="2.8"/>
<circle cx="1680.70" cy="2339.80" r="4.90" fill="none" stroke="#808080" stroke-width="2.8"/>
<circle cx="1782.30" cy="2017.50" r="4.90" fill="none" stroke="#000080" stroke-width="2.8"/>
<circle cx="1782.30" cy="2033.60" r="4.90" fill="none" stroke="#000080" stroke-width="2.8"/>
<circle cx="1782.30" cy="2046.60" r="4.90" fill="none" stroke="#000080" stroke-width="2.8"/>
<circle cx="1782.30" cy="2065.40" r="4.90" fill="none" stroke="#000080" stroke-width="2.8"/>
<circle cx="1867.80" cy="2011.70" r="4.90" fill="none" stroke="#000080" stroke-width="2.8"/>
<circle cx="1867.80" cy="2033.60" r="4.90" fill="none" stroke="#000080" stroke-width="2.8"/>
<circle cx="1867.80" cy="2063.70" r="4.90" fill="none" stroke="#000080" stroke-width="2.8"/>
<circle cx="1867.80" cy="2088.30" r="4.90" fill="none" stroke="#000080" stroke-width="2.8"/>
<line x1="1595.10" y1="2097.90" x2="1680.00" y2="2097.90" stroke="#000" stroke-width="3.0"/>
<line x1="1595.10" y1="1993.90" x2="1781.60" y2="1993.90" stroke="#000" stroke-width="3.0"/>
<line x1="1680.00" y1="1943.60" x2="1867.10" y2="1943.60" stroke="#000" stroke-width="3.0"/>
<text x="1640.55" y="2098.12" font-size="36.5" text-anchor="middle" font-weight="bold" letter-spacing="3.9" stroke="#000" stroke-width="0.9" font-family="DejaVu Sans, Liberation Sans, sans-serif">****</text>
<text x="1690.85" y="1992.02" font-size="36.5" text-anchor="middle" font-weight="bold" letter-spacing="3.9" stroke="#000" stroke-width="0.9" font-family="DejaVu Sans, Liberation Sans, sans-serif">***</text>
<text x="1775.65" y="1940.02" font-size="36.5" text-anchor="middle" font-weight="bold" letter-spacing="3.9" stroke="#000" stroke-width="0.9" font-family="DejaVu Sans, Liberation Sans, sans-serif">****</text>
<text x="1504.60" y="2450.30" font-size="32">MME</text>
<text x="1414.40" y="2497.50" font-size="31.9" font-style="italic">CHIR99021</text>
<line x1="1591.50" y1="2441.00" x2="1600.10" y2="2441.00" stroke="#000" stroke-width="2.6"/>
<line x1="1676.40" y1="2441.00" x2="1685.00" y2="2441.00" stroke="#000" stroke-width="2.6"/>
<line x1="1774.70" y1="2438.50" x2="1789.90" y2="2438.50" stroke="#000" stroke-width="2.5"/>
<line x1="1782.30" y1="2430.90" x2="1782.30" y2="2446.10" stroke="#000" stroke-width="2.5"/>
<line x1="1860.20" y1="2438.50" x2="1875.40" y2="2438.50" stroke="#000" stroke-width="2.5"/>
<line x1="1867.80" y1="2430.90" x2="1867.80" y2="2446.10" stroke="#000" stroke-width="2.5"/>
<line x1="1591.50" y1="2488.00" x2="1600.10" y2="2488.00" stroke="#000" stroke-width="2.6"/>
<line x1="1673.10" y1="2485.50" x2="1688.30" y2="2485.50" stroke="#000" stroke-width="2.5"/>
<line x1="1680.70" y1="2477.90" x2="1680.70" y2="2493.10" stroke="#000" stroke-width="2.5"/>
<line x1="1778.00" y1="2488.00" x2="1786.60" y2="2488.00" stroke="#000" stroke-width="2.6"/>
<line x1="1860.20" y1="2485.50" x2="1875.40" y2="2485.50" stroke="#000" stroke-width="2.5"/>
<line x1="1867.80" y1="2477.90" x2="1867.80" y2="2493.10" stroke="#000" stroke-width="2.5"/>
<text font-size="32.8" text-anchor="middle" transform="translate(1441.00 2174.70) rotate(-90)" xml:space="preserve">Adipocytes  (%)</text>
</svg>
</body></html>
